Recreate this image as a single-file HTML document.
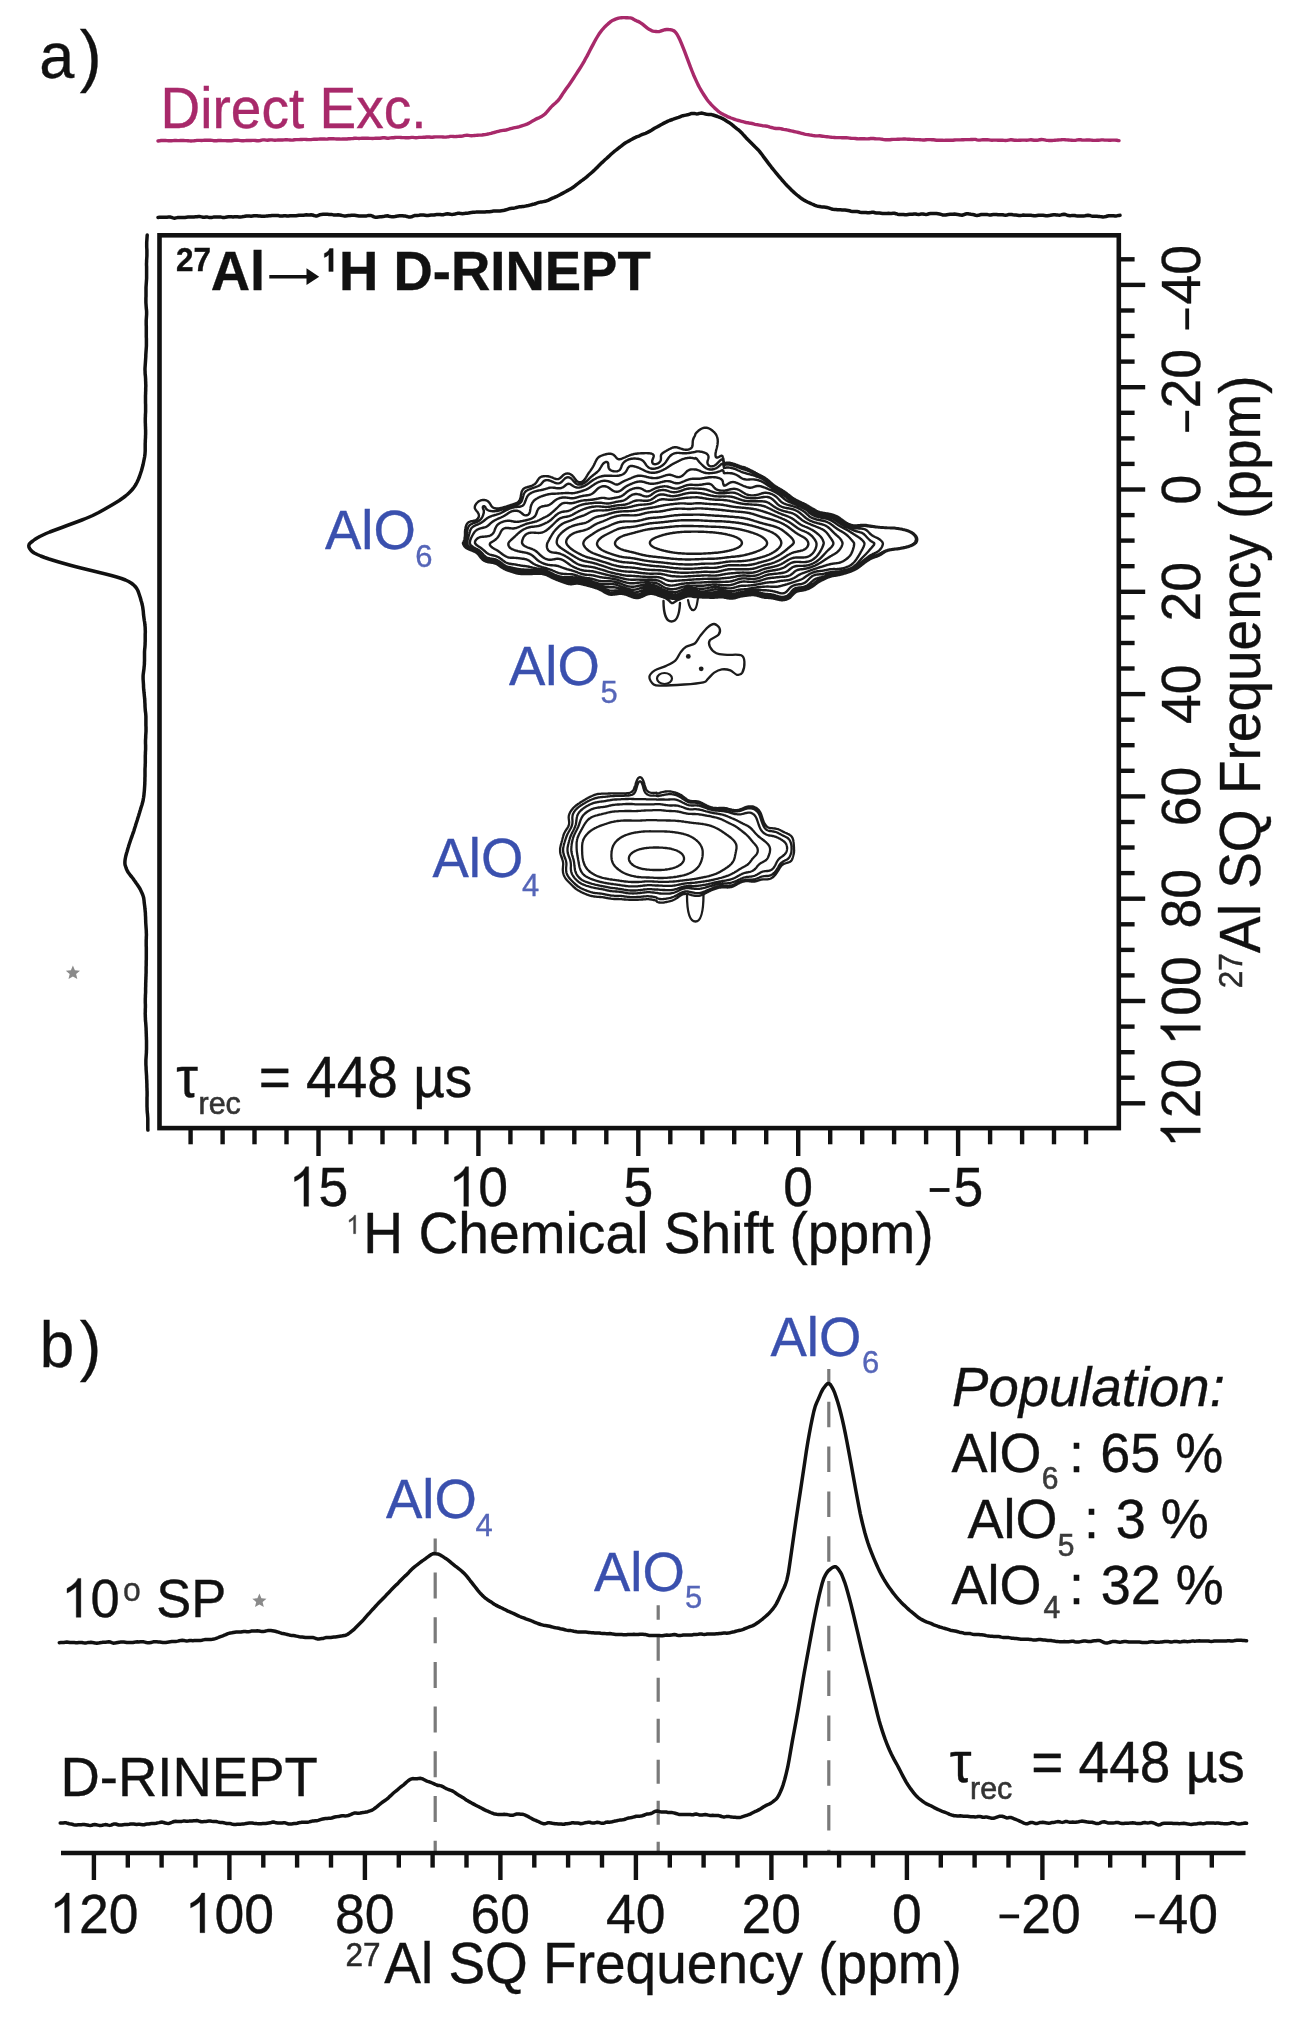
<!DOCTYPE html>
<html><head><meta charset="utf-8"><style>
html,body{margin:0;padding:0;background:#fff;}
svg{display:block;will-change:transform;}
text{font-family:"Liberation Sans", sans-serif;}
</style></head><body>
<svg width="1297" height="2019" viewBox="0 0 1297 2019">
<rect width="1297" height="2019" fill="#fff"/>
<g transform="translate(41.8,78) scale(1,1.035)"><text x="-2.5" y="0" font-size="63" fill="#111" stroke="#111" stroke-width="0.35" >a</text></g>
<g transform="translate(80,79) scale(1,1.035)"><text x="-0.3" y="0" font-size="65.5" fill="#111" stroke="#111" stroke-width="0.35" >)</text></g>
<g transform="translate(165,127.8) scale(1,1.035)"><text x="-4.4" y="0" font-size="55" fill="#a8296a" stroke="#a8296a" stroke-width="0.35" >Direct Exc.</text></g>
<path d="M158,141 159.5,140.8 161,140.5 162.5,140.5 164,140.5 165.5,140.5 167,140.6 168.5,140.7 170,140.7 171.5,140.7 173,140.6 174.5,140.5 176,140.4 177.5,140.6 179,140.6 180.5,140.5 182,140.5 183.5,140.5 185,140.6 186.5,140.6 188,140.7 189.5,140.9 191,141 192.5,140.9 194,140.8 195.5,140.6 197,140.4 198.5,140.4 200,140.4 201.5,140.5 203,140.4 204.5,140.3 206,140.2 207.5,140.2 209,140.2 210.5,140.3 212,140.4 213.5,140.7 215,140.8 216.5,140.8 218,140.5 219.5,140.4 221,140.5 222.5,140.6 224,140.6 225.5,140.6 227,140.7 228.5,140.8 230,140.8 231.5,140.7 233,140.5 234.5,140.3 236,140.1 237.5,140.2 239,140.4 240.5,140.6 242,140.7 243.5,140.7 245,140.6 246.5,140.5 248,140.5 249.5,140.5 251,140.5 252.5,140.4 254,140.4 255.5,140.5 257,140.7 258.5,140.8 260,140.6 261.5,140.1 263,139.9 264.5,139.9 266,140.1 267.5,140.2 269,140 270.5,139.9 272,139.9 273.5,140.1 275,140.2 276.5,140.1 278,140 279.5,140 281,140 282.5,140 284,139.9 285.5,139.8 287,139.8 288.5,139.9 290,140 291.5,140.1 293,140 294.5,139.8 296,139.6 297.5,139.6 299,139.6 300.5,139.5 302,139.5 303.5,139.4 305,139.4 306.5,139.5 308,139.6 309.5,139.6 311,139.6 312.5,139.4 314,139.3 315.5,139.2 317,139.2 318.5,139.1 320,139 321.5,139 323,139 324.5,139 326,139.1 327.5,139 329,138.8 330.5,138.7 332,138.7 333.5,138.8 335,138.9 336.5,139 338,138.9 339.5,139 341,139.1 342.5,139 344,139 345.5,139 347,139 348.5,138.8 350,138.7 351.5,138.6 353,138.5 354.5,138.3 356,138.3 357.5,138.4 359,138.5 360.5,138.4 362,138.3 363.5,138.3 365,138.3 366.5,138.3 368,138.3 369.5,138.4 371,138.4 372.5,138.5 374,138.4 375.5,138.3 377,138.2 378.5,138.2 380,138.2 381.5,138 383,137.8 384.5,137.8 386,138 387.5,138.3 389,138.2 390.5,137.9 392,137.8 393.5,137.7 395,137.5 396.5,137.4 398,137.4 399.5,137.4 401,137.5 402.5,137.6 404,137.6 405.5,137.7 407,137.8 408.5,137.8 410,137.6 411.5,137.4 413,137.4 414.5,137.6 416,137.7 417.5,137.6 419,137.4 420.5,137.4 422,137.4 423.5,137.3 425,137.2 426.5,137 428,136.9 429.5,137 431,137.2 432.5,137.2 434,137 435.5,136.9 437,136.9 438.5,136.9 440,136.9 441.5,136.9 443,137 444.5,137.1 446,137.1 447.5,136.9 449,136.7 450.5,136.4 452,136.4 453.5,136.5 455,136.6 456.5,136.5 458,136.4 459.5,136.3 461,136.2 462.5,136.1 464,135.7 465.5,135.4 467,135.3 468.5,135.4 470,135.6 471.5,135.7 473,135.6 474.5,135.5 476,135.4 477.5,135.2 479,135.1 480.5,135.1 482,135 483.5,134.8 485,134.6 486.5,134.3 488,134 489.5,133.7 491,133.3 492.5,132.8 494,132.5 495.5,132.1 497,131.7 498.5,131.3 500,130.9 501.5,130.6 503,130.4 504.5,130.2 506,130 507.5,129.6 509,129.2 510.5,128.7 512,128.3 513.5,127.9 515,127.6 516.5,127.3 518,127 519.5,126.6 521,126.1 522.5,125.6 524,125.2 525.5,124.7 527,124.1 528.5,123.4 530,122.6 531.5,121.6 533,120.7 534.5,119.9 536,119.1 537.5,118.4 539,117.8 540.5,117 542,116.2 543.5,115.2 545,114 546.5,112.4 548,110.7 549.5,108.8 551,107.1 552.5,105.6 554,104.3 555.5,103 557,101.6 558.5,100 560,98 561.5,95.7 563,93.4 564.5,91.2 566,89.1 567.5,87 569,84.9 570.5,82.7 572,80.5 573.5,78.2 575,75.9 576.5,73.6 578,71.3 579.5,69 581,66.6 582.5,64.2 584,61.6 585.5,58.8 587,56.1 588.5,53.2 590,50.3 591.5,47.4 593,44.6 594.5,41.8 596,39 597.5,36.5 599,34.1 600.5,32 602,30 603.5,28.3 605,26.7 606.5,25.3 608,23.9 609.5,22.6 611,21.4 612.5,20.5 614,19.8 615.5,19.2 617,18.7 618.5,18.2 620,17.9 621.5,17.7 623,17.6 624.5,17.6 626,17.7 627.5,17.8 629,17.9 630.5,17.9 632,18.3 633.5,19.2 635,20.1 636.5,20.8 638,21.4 639.5,22.1 641,23.1 642.5,24.2 644,25.4 645.5,26.6 647,27.8 648.5,29 650,29.8 651.5,30.6 653,31.1 654.5,31.4 656,31.5 657.5,31.6 659,31.6 660.5,31.2 662,30.6 663.5,30.1 665,29.7 666.5,29.5 668,29.5 669.5,29.6 671,29.8 672.5,30.2 674,30.9 675.5,32.2 677,34.2 678.5,37 680,40.1 681.5,43.7 683,47.4 684.5,51.2 686,55.1 687.5,59.1 689,63.1 690.5,67.2 692,71 693.5,74.7 695,78.1 696.5,81.4 698,84.6 699.5,87.5 701,90.1 702.5,92.6 704,95 705.5,97.3 707,99.5 708.5,101.5 710,103.2 711.5,104.9 713,106.4 714.5,107.9 716,109.2 717.5,110.6 719,111.8 720.5,112.8 722,113.8 723.5,114.6 725,115.3 726.5,116.1 728,116.9 729.5,117.4 731,118 732.5,118.5 734,119.1 735.5,119.7 737,120.1 738.5,120.5 740,120.9 741.5,121.3 743,121.7 744.5,122.1 746,122.5 747.5,122.7 749,123 750.5,123.2 752,123.5 753.5,123.9 755,124.3 756.5,124.6 758,124.8 759.5,125.1 761,125.4 762.5,125.7 764,125.9 765.5,126 767,126.2 768.5,126.6 770,127.1 771.5,127.5 773,127.9 774.5,128.3 776,128.5 777.5,128.5 779,128.4 780.5,128.6 782,129 783.5,129.4 785,129.6 786.5,129.8 788,130.1 789.5,130.5 791,130.8 792.5,131.1 794,131.5 795.5,131.8 797,132.1 798.5,132.5 800,132.9 801.5,133.3 803,133.7 804.5,134.1 806,134.4 807.5,134.6 809,134.8 810.5,135.1 812,135.3 813.5,135.6 815,135.8 816.5,135.9 818,135.9 819.5,135.8 821,136 822.5,136.2 824,136.4 825.5,136.6 827,136.7 828.5,136.9 830,137.1 831.5,137.3 833,137.4 834.5,137.5 836,137.6 837.5,137.6 839,137.6 840.5,137.6 842,137.7 843.5,137.7 845,137.8 846.5,137.8 848,137.9 849.5,138.1 851,138.3 852.5,138.4 854,138.4 855.5,138.5 857,138.7 858.5,138.9 860,138.8 861.5,138.8 863,138.7 864.5,138.8 866,138.9 867.5,138.9 869,138.8 870.5,138.5 872,138.4 873.5,138.5 875,138.7 876.5,138.9 878,138.9 879.5,138.9 881,139.1 882.5,139.3 884,139.6 885.5,139.8 887,139.8 888.5,139.8 890,139.7 891.5,139.5 893,139.4 894.5,139.4 896,139.4 897.5,139.3 899,139.2 900.5,139.1 902,139.1 903.5,139 905,139 906.5,139.1 908,139.2 909.5,139.3 911,139.4 912.5,139.4 914,139.5 915.5,139.6 917,139.6 918.5,139.6 920,139.7 921.5,139.9 923,140 924.5,140 926,139.8 927.5,139.6 929,139.6 930.5,139.6 932,139.7 933.5,139.8 935,140 936.5,140.2 938,140.2 939.5,140.1 941,140.2 942.5,140.3 944,140.4 945.5,140.3 947,140.2 948.5,140.2 950,140.2 951.5,140.3 953,140.2 954.5,140 956,139.9 957.5,139.9 959,139.9 960.5,139.9 962,139.8 963.5,139.7 965,139.6 966.5,139.6 968,139.6 969.5,139.6 971,139.5 972.5,139.5 974,139.4 975.5,139.4 977,139.8 978.5,140.1 980,140.1 981.5,139.9 983,139.7 984.5,139.7 986,139.7 987.5,139.8 989,139.9 990.5,140.1 992,140.2 993.5,140.1 995,140.1 996.5,140.1 998,140.2 999.5,140.2 1001,140.3 1002.5,140.2 1004,140.4 1005.5,140.5 1007,140.4 1008.5,140.1 1010,139.8 1011.5,139.8 1013,140 1014.5,140.2 1016,140.3 1017.5,140.4 1019,140.3 1020.5,140.2 1022,140.1 1023.5,140.1 1025,140.1 1026.5,140.2 1028,140.1 1029.5,139.9 1031,139.8 1032.5,140 1034,140.2 1035.5,140.3 1037,140.2 1038.5,140 1040,139.7 1041.5,139.5 1043,139.6 1044.5,139.9 1046,140.2 1047.5,140.4 1049,140.5 1050.5,140.5 1052,140.5 1053.5,140.4 1055,140.2 1056.5,140.1 1058,140 1059.5,139.9 1061,139.8 1062.5,139.6 1064,139.6 1065.5,139.8 1067,139.9 1068.5,140 1070,140.1 1071.5,140.2 1073,140.4 1074.5,140.4 1076,140.2 1077.5,139.9 1079,139.7 1080.5,139.8 1082,140 1083.5,140.1 1085,140.1 1086.5,140 1088,140 1089.5,140 1091,140.1 1092.5,140.3 1094,140.4 1095.5,140.4 1097,140.3 1098.5,140.2 1100,140.1 1101.5,139.9 1103,139.9 1104.5,140.1 1106,140.1 1107.5,140.1 1109,140.2 1110.5,140.2 1112,140.1 1113.5,140.1 1115,140.1 1116.5,140.2 1118,140.5 1119,140.6" fill="none" stroke="#a8296a" stroke-width="3.4" stroke-linejoin="round" stroke-linecap="round" />
<path d="M158,217.4 159.5,217.3 161,217.3 162.5,217.3 164,217.2 165.5,217.2 167,217.2 168.5,217.1 170,217 171.5,217.4 173,217.9 174.5,218.2 176,217.9 177.5,217.6 179,217.4 180.5,217.5 182,217.6 183.5,217.6 185,217.4 186.5,217.2 188,217.1 189.5,217.1 191,217.1 192.5,217 194,216.9 195.5,216.8 197,216.7 198.5,216.5 200,216.6 201.5,216.9 203,217.2 204.5,217.2 206,217 207.5,217.1 209,217.4 210.5,217.6 212,217.4 213.5,217.1 215,217 216.5,217.1 218,217 219.5,217 221,217.1 222.5,217.4 224,217.5 225.5,217.3 227,217 228.5,216.8 230,216.7 231.5,216.8 233,216.9 234.5,216.7 236,216.7 237.5,216.8 239,216.9 240.5,216.9 242,216.8 243.5,216.6 245,216.3 246.5,216 248,216 249.5,216.1 251,216.2 252.5,216 254,215.8 255.5,215.7 257,215.7 258.5,215.9 260,216.1 261.5,216.3 263,216.3 264.5,216.2 266,216.1 267.5,215.9 269,215.8 270.5,215.7 272,215.5 273.5,215.5 275,215.5 276.5,215.4 278,215.5 279.5,215.9 281,216.1 282.5,216 284,215.8 285.5,215.7 287,215.9 288.5,216 290,215.8 291.5,215.7 293,215.7 294.5,215.7 296,215.7 297.5,215.5 299,215.3 300.5,215.3 302,215.3 303.5,215.2 305,215 306.5,214.8 308,214.9 309.5,214.9 311,214.8 312.5,215 314,215.5 315.5,215.9 317,215.9 318.5,215.3 320,214.7 321.5,214.4 323,214.3 324.5,214.3 326,214.3 327.5,214.3 329,214.4 330.5,214.5 332,214.6 333.5,214.9 335,215.1 336.5,214.9 338,214.8 339.5,215 341,215.3 342.5,215.6 344,215.9 345.5,216 347,215.8 348.5,215.6 350,215.4 351.5,215.2 353,215.2 354.5,215.3 356,215.5 357.5,215.7 359,215.9 360.5,216 362,216 363.5,216.1 365,216.1 366.5,215.9 368,215.6 369.5,215.4 371,215.5 372.5,216.1 374,216.9 375.5,217.3 377,217.2 378.5,216.9 380,216.8 381.5,216.8 383,216.6 384.5,216.3 386,215.9 387.5,215.8 389,216.2 390.5,216.5 392,216.7 393.5,216.7 395,216.5 396.5,216.2 398,215.9 399.5,215.8 401,215.7 402.5,215.7 404,215.9 405.5,216.1 407,216.5 408.5,216.9 410,217.1 411.5,216.8 413,216.2 414.5,215.6 416,215.5 417.5,215.4 419,215.3 420.5,215.1 422,215.1 423.5,215.1 425,215.3 426.5,215.5 428,215.5 429.5,215.3 431,215.1 432.5,215.1 434,215 435.5,214.7 437,214.4 438.5,214.4 440,214.6 441.5,214.8 443,214.8 444.5,214.4 446,214 447.5,213.8 449,214 450.5,214.3 452,214.4 453.5,214.3 455,214 456.5,213.6 458,213.3 459.5,213.3 461,213.6 462.5,213.7 464,213.6 465.5,213.3 467,213.2 468.5,213 470,212.7 471.5,212.4 473,212.2 474.5,212.2 476,212.1 477.5,211.9 479,211.9 480.5,212 482,212 483.5,212 485,211.9 486.5,211.8 488,211.8 489.5,211.8 491,211.6 492.5,211.2 494,210.9 495.5,210.9 497,211 498.5,211 500,211 501.5,210.8 503,210.6 504.5,210.2 506,209.8 507.5,209.3 509,208.8 510.5,208.5 512,208.3 513.5,208.2 515,207.9 516.5,207.5 518,207.1 519.5,206.8 521,206.7 522.5,206.5 524,206.4 525.5,206.1 527,205.8 528.5,205.5 530,205.1 531.5,204.7 533,204.3 534.5,204 536,203.5 537.5,202.9 539,202.4 540.5,202.1 542,201.9 543.5,201.6 545,201.3 546.5,200.8 548,200.3 549.5,199.6 551,198.9 552.5,198.2 554,197.6 555.5,196.9 557,196.3 558.5,195.5 560,194.7 561.5,193.9 563,193.1 564.5,192.3 566,191.5 567.5,190.6 569,189.8 570.5,188.9 572,188 573.5,187 575,185.9 576.5,184.7 578,183.5 579.5,182.3 581,181.1 582.5,180.1 584,179 585.5,177.8 587,176.6 588.5,175.3 590,174 591.5,172.7 593,171.4 594.5,170 596,168.5 597.5,167.1 599,165.6 600.5,164.1 602,162.6 603.5,161.2 605,159.8 606.5,158.5 608,157.1 609.5,155.7 611,154.3 612.5,153 614,151.7 615.5,150.5 617,149.3 618.5,148.1 620,147 621.5,145.8 623,144.6 624.5,143.5 626,142.5 627.5,141.7 629,140.9 630.5,140 632,139.2 633.5,138.4 635,137.7 636.5,136.9 638,136.4 639.5,135.8 641,135 642.5,134.3 644,133.8 645.5,133.3 647,132.7 648.5,131.9 650,131.1 651.5,130.3 653,129.3 654.5,128.3 656,127.5 657.5,126.7 659,125.9 660.5,125 662,124.2 663.5,123.4 665,122.6 666.5,121.9 668,121.1 669.5,120.5 671,120 672.5,119.5 674,118.9 675.5,118.4 677,117.9 678.5,117.4 680,116.8 681.5,116.2 683,115.7 684.5,115.4 686,115.1 687.5,114.8 689,114.3 690.5,113.8 692,113.4 693.5,113.4 695,113.6 696.5,113.9 698,113.8 699.5,113.4 701,113.1 702.5,113.3 704,113.6 705.5,114 707,114.3 708.5,114.4 710,114.4 711.5,114.6 713,115 714.5,115.5 716,116 717.5,116.5 719,117.1 720.5,117.7 722,118.3 723.5,119.1 725,120 726.5,121 728,121.9 729.5,122.8 731,123.9 732.5,125.1 734,126.4 735.5,127.6 737,128.8 738.5,129.9 740,131.2 741.5,132.7 743,134.4 744.5,136 746,137.7 747.5,139.3 749,140.8 750.5,142.3 752,143.8 753.5,145.3 755,146.8 756.5,148.2 758,149.7 759.5,151.4 761,153.3 762.5,155.3 764,157.4 765.5,159.4 767,161.4 768.5,163.4 770,165.3 771.5,167.3 773,169.2 774.5,171 776,172.8 777.5,174.6 779,176.5 780.5,178.2 782,180 783.5,181.7 785,183.4 786.5,185 788,186.6 789.5,188.1 791,189.6 792.5,191 794,192.4 795.5,193.7 797,195 798.5,196.2 800,197.4 801.5,198.5 803,199.5 804.5,200.4 806,201.2 807.5,202 809,202.7 810.5,203.3 812,204 813.5,204.6 815,205.3 816.5,205.9 818,206.3 819.5,206.5 821,206.8 822.5,207 824,207.1 825.5,207.2 827,207.5 828.5,207.9 830,208.4 831.5,209 833,209.3 834.5,209.4 836,209.5 837.5,209.7 839,209.8 840.5,209.8 842,209.9 843.5,210 845,210.1 846.5,210.3 848,210.5 849.5,210.8 851,211.2 852.5,211.5 854,211.6 855.5,211.6 857,211.6 858.5,211.8 860,212.2 861.5,212.4 863,212.5 864.5,212.5 866,212.6 867.5,212.8 869,212.8 870.5,212.6 872,212.3 873.5,212.3 875,212.7 876.5,213.1 878,213.1 879.5,213 881,213.2 882.5,213.4 884,213.5 885.5,213.4 887,213.4 888.5,213.3 890,213.4 891.5,213.4 893,213.3 894.5,213.3 896,213.7 897.5,214.2 899,214.4 900.5,214.5 902,214.4 903.5,214.5 905,214.7 906.5,214.7 908,214.5 909.5,214.3 911,214.2 912.5,214.2 914,214 915.5,214 917,214.3 918.5,214.4 920,214.2 921.5,213.9 923,214 924.5,214.3 926,214.4 927.5,214.2 929,213.8 930.5,213.6 932,213.6 933.5,213.6 935,213.6 936.5,213.6 938,213.8 939.5,214 941,214.4 942.5,214.9 944,215.1 945.5,215 947,214.7 948.5,214.4 950,214.3 951.5,214.3 953,214.2 954.5,214.1 956,214.2 957.5,214.4 959,214.7 960.5,215.1 962,215.2 963.5,214.8 965,214.2 966.5,213.8 968,213.8 969.5,214.1 971,214.3 972.5,214.4 974,214.8 975.5,215.2 977,215.4 978.5,215.3 980,214.8 981.5,214.5 983,214.5 984.5,214.5 986,214.5 987.5,214.6 989,214.9 990.5,215 992,214.7 993.5,214.4 995,214.4 996.5,214.5 998,214.7 999.5,214.8 1001,214.7 1002.5,214.7 1004,215 1005.5,215.2 1007,215 1008.5,214.6 1010,214.5 1011.5,214.6 1013,214.8 1014.5,214.9 1016,215.1 1017.5,215.3 1019,215.5 1020.5,215.4 1022,215.3 1023.5,215.1 1025,215.2 1026.5,215.3 1028,215.3 1029.5,215.3 1031,215.3 1032.5,215.6 1034,215.8 1035.5,215.7 1037,215.5 1038.5,215.3 1040,215.2 1041.5,215.2 1043,215.3 1044.5,215.5 1046,215.7 1047.5,215.8 1049,215.6 1050.5,215.3 1052,215 1053.5,214.8 1055,214.7 1056.5,214.9 1058,215.1 1059.5,215.2 1061,214.9 1062.5,214.5 1064,214.3 1065.5,214.5 1067,215.1 1068.5,215.6 1070,215.7 1071.5,215.6 1073,215.4 1074.5,215.5 1076,215.8 1077.5,216 1079,216.1 1080.5,216 1082,216 1083.5,216 1085,215.8 1086.5,215.5 1088,215.2 1089.5,215.4 1091,215.9 1092.5,216.2 1094,216.2 1095.5,216.2 1097,216.3 1098.5,216.4 1100,216.6 1101.5,216.7 1103,216.9 1104.5,216.8 1106,216.5 1107.5,216 1109,215.7 1110.5,215.7 1112,215.7 1113.5,215.8 1115,216 1116.5,215.9 1118,215.6 1119.5,215.4 1120,215.3" fill="none" stroke="#111" stroke-width="3.5" stroke-linejoin="round" stroke-linecap="round" />
<path d="M147.2,235 147.1,236.5 147,238 146.9,239.5 146.8,241 146.7,242.5 146.7,244 146.7,245.5 146.7,247 146.8,248.5 146.9,250 146.9,251.5 146.9,253 146.9,254.5 146.9,256 146.8,257.5 146.7,259 146.6,260.5 146.6,262 146.5,263.5 146.5,265 146.6,266.5 146.6,268 146.6,269.5 146.6,271 146.6,272.5 146.6,274 146.6,275.5 146.6,277 146.6,278.5 146.5,280 146.4,281.5 146.3,283 146.2,284.5 146.1,286 146,287.5 146,289 146,290.5 146,292 146,293.5 146,295 146,296.5 145.9,298 145.9,299.5 145.9,301 145.9,302.5 146,304 146.1,305.5 146.2,307 146.3,308.5 146.5,310 146.6,311.5 146.6,313 146.6,314.5 146.5,316 146.4,317.5 146.3,319 146.2,320.5 146.2,322 146.2,323.5 146.2,325 146.3,326.5 146.3,328 146.3,329.5 146.3,331 146.3,332.5 146.3,334 146.3,335.5 146.3,337 146.4,338.5 146.4,340 146.4,341.5 146.4,343 146.4,344.5 146.4,346 146.3,347.5 146.2,349 146.1,350.5 146,352 145.9,353.5 145.8,355 145.8,356.5 145.7,358 145.6,359.5 145.5,361 145.4,362.5 145.3,364 145.2,365.5 145.1,367 145,368.5 145,370 145.1,371.5 145.1,373 145.2,374.5 145.4,376 145.5,377.5 145.6,379 145.6,380.5 145.7,382 145.7,383.5 145.8,385 145.8,386.5 145.7,388 145.7,389.5 145.7,391 145.6,392.5 145.6,394 145.5,395.5 145.5,397 145.5,398.5 145.5,400 145.5,401.5 145.5,403 145.6,404.5 145.6,406 145.6,407.5 145.6,409 145.6,410.5 145.6,412 145.5,413.5 145.4,415 145.4,416.5 145.3,418 145.3,419.5 145.3,421 145.3,422.5 145.4,424 145.4,425.5 145.5,427 145.5,428.5 145.6,430 145.6,431.5 145.6,433 145.6,434.5 145.5,436 145.5,437.5 145.4,439 145.3,440.5 145.3,442 145.2,443.5 145.2,445 145.2,446.5 145.2,448 145.2,449.5 145.2,451 145.1,452.5 145,454 144.8,455.5 144.6,457 144.3,458.5 144,460 143.7,461.5 143.4,463 143.1,464.5 142.7,466 142.3,467.5 141.9,469 141.5,470.5 141,472 140.5,473.5 140,475 139.5,476.5 138.9,478 138.3,479.5 137.6,481 136.9,482.5 136.1,484 135.2,485.5 134.2,487 133.1,488.5 131.8,490 130.4,491.5 128.9,493 127.3,494.5 125.5,496 123.5,497.5 121.4,499 119.3,500.5 116.9,502 114.4,503.5 111.9,505 109.3,506.5 106.7,508 104.1,509.5 101.4,511 98.7,512.5 95.7,514 92.7,515.5 89.3,517 85.7,518.5 81.9,520 77.9,521.5 73.9,523 69.8,524.5 65.8,526 61.9,527.5 57.8,529 53.7,530.5 49.7,532 46.1,533.5 42.9,535 39.8,536.5 37.1,538 34.7,539.5 32.8,541 30.8,542.5 29.3,544 28.8,545.5 28.9,547 29.6,548.5 30.7,550 32.1,551.5 34.2,553 37.3,554.5 40.7,556 44.6,557.5 49,559 53.8,560.5 58.8,562 64.1,563.5 69.4,565 75,566.5 80.9,568 87.1,569.5 93.3,571 99.4,572.5 105.5,574 111.4,575.5 116.7,577 121.5,578.5 125.5,580 128.6,581.5 131.1,583 133.1,584.5 134.7,586 136,587.5 137,589 137.8,590.5 138.4,592 138.9,593.5 139.4,595 139.9,596.5 140.4,598 140.8,599.5 141.2,601 141.7,602.5 142,604 142.4,605.5 142.7,607 142.9,608.5 143.1,610 143.3,611.5 143.4,613 143.5,614.5 143.7,616 143.9,617.5 144.1,619 144.3,620.5 144.6,622 144.8,623.5 144.9,625 145.1,626.5 145.2,628 145.2,629.5 145.3,631 145.3,632.5 145.2,634 145.2,635.5 145.2,637 145.2,638.5 145.2,640 145.2,641.5 145.1,643 145.1,644.5 145,646 144.9,647.5 144.7,649 144.6,650.5 144.5,652 144.5,653.5 144.5,655 144.5,656.5 144.5,658 144.5,659.5 144.5,661 144.4,662.5 144.4,664 144.3,665.5 144.1,667 144,668.5 143.8,670 143.6,671.5 143.4,673 143.2,674.5 143.1,676 143.1,677.5 143.1,679 143.2,680.5 143.3,682 143.4,683.5 143.5,685 143.5,686.5 143.6,688 143.7,689.5 143.9,691 144,692.5 144.2,694 144.3,695.5 144.5,697 144.6,698.5 144.8,700 144.8,701.5 144.9,703 145,704.5 145,706 145.1,707.5 145.2,709 145.3,710.5 145.5,712 145.7,713.5 145.8,715 145.9,716.5 145.9,718 145.9,719.5 145.9,721 145.9,722.5 145.9,724 145.9,725.5 146,727 146,728.5 146,730 146,731.5 145.9,733 145.8,734.5 145.7,736 145.7,737.5 145.6,739 145.5,740.5 145.5,742 145.5,743.5 145.6,745 145.6,746.5 145.6,748 145.6,749.5 145.5,751 145.4,752.5 145.4,754 145.3,755.5 145.3,757 145.3,758.5 145.3,760 145.3,761.5 145.3,763 145.2,764.5 145.2,766 145.1,767.5 145,769 145,770.5 145,772 145,773.5 145,775 145,776.5 144.9,778 144.9,779.5 144.9,781 144.8,782.5 144.8,784 144.7,785.5 144.6,787 144.5,788.5 144.4,790 144.3,791.5 144.1,793 144,794.5 143.8,796 143.6,797.5 143.3,799 143.1,800.5 142.7,802 142.3,803.5 141.9,805 141.4,806.5 140.9,808 140.5,809.5 140,811 139.6,812.5 139.1,814 138.7,815.5 138.2,817 137.7,818.5 137.3,820 136.8,821.5 136.3,823 135.8,824.5 135.4,826 134.9,827.5 134.4,829 134,830.5 133.5,832 132.9,833.5 132.4,835 131.9,836.5 131.3,838 130.8,839.5 130.3,841 129.8,842.5 129.3,844 128.8,845.5 128.4,847 127.9,848.5 127.5,850 127.1,851.5 126.6,853 126.2,854.5 125.8,856 125.5,857.5 125.2,859 125,860.5 124.9,862 124.9,863.5 125.1,865 125.6,866.5 126.1,868 126.7,869.5 127.4,871 128.3,872.5 129.4,874 130.5,875.5 131.8,877 133,878.5 134,880 135.1,881.5 136.1,883 137.2,884.5 138.2,886 139.2,887.5 140.1,889 140.8,890.5 141.5,892 142.2,893.5 142.8,895 143.3,896.5 143.7,898 143.9,899.5 144.1,901 144.2,902.5 144.4,904 144.6,905.5 144.8,907 144.9,908.5 145.1,910 145.2,911.5 145.4,913 145.4,914.5 145.5,916 145.6,917.5 145.6,919 145.7,920.5 145.7,922 145.8,923.5 145.9,925 146,926.5 146.1,928 146.2,929.5 146.3,931 146.3,932.5 146.4,934 146.4,935.5 146.3,937 146.3,938.5 146.2,940 146.2,941.5 146.2,943 146.2,944.5 146.2,946 146.3,947.5 146.3,949 146.3,950.5 146.3,952 146.3,953.5 146.3,955 146.3,956.5 146.3,958 146.3,959.5 146.2,961 146.2,962.5 146.2,964 146.2,965.5 146.1,967 146.1,968.5 146.1,970 146.1,971.5 146.1,973 146,974.5 146,976 145.9,977.5 145.9,979 145.8,980.5 145.8,982 145.7,983.5 145.7,985 145.7,986.5 145.6,988 145.6,989.5 145.6,991 145.6,992.5 145.5,994 145.4,995.5 145.4,997 145.3,998.5 145.3,1000 145.3,1001.5 145.3,1003 145.4,1004.5 145.4,1006 145.4,1007.5 145.3,1009 145.3,1010.5 145.3,1012 145.2,1013.5 145.3,1015 145.3,1016.5 145.4,1018 145.4,1019.5 145.5,1021 145.7,1022.5 145.8,1024 145.9,1025.5 146,1027 146.1,1028.5 146.1,1030 146.2,1031.5 146.2,1033 146.3,1034.5 146.3,1036 146.4,1037.5 146.4,1039 146.5,1040.5 146.5,1042 146.5,1043.5 146.5,1045 146.5,1046.5 146.5,1048 146.5,1049.5 146.4,1051 146.4,1052.5 146.3,1054 146.2,1055.5 146.1,1057 146,1058.5 145.9,1060 145.9,1061.5 145.9,1063 145.9,1064.5 146,1066 146.1,1067.5 146.1,1069 146.2,1070.5 146.3,1072 146.4,1073.5 146.5,1075 146.6,1076.5 146.6,1078 146.7,1079.5 146.8,1081 146.8,1082.5 146.9,1084 146.9,1085.5 146.9,1087 147,1088.5 147,1090 147.1,1091.5 147.1,1093 147.1,1094.5 147.1,1096 147,1097.5 147,1099 147,1100.5 147,1102 147,1103.5 147,1105 147,1106.5 147.1,1108 147.1,1109.5 147.2,1111 147.3,1112.5 147.5,1114 147.6,1115.5 147.7,1117 147.8,1118.5 147.8,1120 147.8,1121.5 147.8,1123 147.8,1124.5 147.8,1126 147.8,1127.5 147.8,1129 147.9,1130" fill="none" stroke="#111" stroke-width="3.5" stroke-linejoin="round" stroke-linecap="round" />
<polygon points="72.9,965.5 74.9,970.3 80,970.7 76.1,974 77.3,979.1 72.9,976.4 68.5,979.1 69.7,974 65.8,970.7 70.9,970.3" fill="#8a8a8a"/>
<rect x="159.5" y="235.3" width="959.3" height="892.8" fill="none" stroke="#111" stroke-width="4.6"/>
<line x1="1118.8" y1="259.3" x2="1134.6" y2="259.3" stroke="#111" stroke-width="4.4" />
<line x1="1118.8" y1="284.9" x2="1145.2" y2="284.9" stroke="#111" stroke-width="4.4" />
<line x1="1118.8" y1="310.5" x2="1134.6" y2="310.5" stroke="#111" stroke-width="4.4" />
<line x1="1118.8" y1="336" x2="1134.6" y2="336" stroke="#111" stroke-width="4.4" />
<line x1="1118.8" y1="361.6" x2="1134.6" y2="361.6" stroke="#111" stroke-width="4.4" />
<line x1="1118.8" y1="387.2" x2="1145.2" y2="387.2" stroke="#111" stroke-width="4.4" />
<line x1="1118.8" y1="412.8" x2="1134.6" y2="412.8" stroke="#111" stroke-width="4.4" />
<line x1="1118.8" y1="438.4" x2="1134.6" y2="438.4" stroke="#111" stroke-width="4.4" />
<line x1="1118.8" y1="463.9" x2="1134.6" y2="463.9" stroke="#111" stroke-width="4.4" />
<line x1="1118.8" y1="489.5" x2="1145.2" y2="489.5" stroke="#111" stroke-width="4.4" />
<line x1="1118.8" y1="515.1" x2="1134.6" y2="515.1" stroke="#111" stroke-width="4.4" />
<line x1="1118.8" y1="540.6" x2="1134.6" y2="540.6" stroke="#111" stroke-width="4.4" />
<line x1="1118.8" y1="566.2" x2="1134.6" y2="566.2" stroke="#111" stroke-width="4.4" />
<line x1="1118.8" y1="591.8" x2="1145.2" y2="591.8" stroke="#111" stroke-width="4.4" />
<line x1="1118.8" y1="617.4" x2="1134.6" y2="617.4" stroke="#111" stroke-width="4.4" />
<line x1="1118.8" y1="643" x2="1134.6" y2="643" stroke="#111" stroke-width="4.4" />
<line x1="1118.8" y1="668.5" x2="1134.6" y2="668.5" stroke="#111" stroke-width="4.4" />
<line x1="1118.8" y1="694.1" x2="1145.2" y2="694.1" stroke="#111" stroke-width="4.4" />
<line x1="1118.8" y1="719.7" x2="1134.6" y2="719.7" stroke="#111" stroke-width="4.4" />
<line x1="1118.8" y1="745.2" x2="1134.6" y2="745.2" stroke="#111" stroke-width="4.4" />
<line x1="1118.8" y1="770.8" x2="1134.6" y2="770.8" stroke="#111" stroke-width="4.4" />
<line x1="1118.8" y1="796.4" x2="1145.2" y2="796.4" stroke="#111" stroke-width="4.4" />
<line x1="1118.8" y1="822" x2="1134.6" y2="822" stroke="#111" stroke-width="4.4" />
<line x1="1118.8" y1="847.5" x2="1134.6" y2="847.5" stroke="#111" stroke-width="4.4" />
<line x1="1118.8" y1="873.1" x2="1134.6" y2="873.1" stroke="#111" stroke-width="4.4" />
<line x1="1118.8" y1="898.7" x2="1145.2" y2="898.7" stroke="#111" stroke-width="4.4" />
<line x1="1118.8" y1="924.3" x2="1134.6" y2="924.3" stroke="#111" stroke-width="4.4" />
<line x1="1118.8" y1="949.9" x2="1134.6" y2="949.9" stroke="#111" stroke-width="4.4" />
<line x1="1118.8" y1="975.4" x2="1134.6" y2="975.4" stroke="#111" stroke-width="4.4" />
<line x1="1118.8" y1="1001" x2="1145.2" y2="1001" stroke="#111" stroke-width="4.4" />
<line x1="1118.8" y1="1026.6" x2="1134.6" y2="1026.6" stroke="#111" stroke-width="4.4" />
<line x1="1118.8" y1="1052.2" x2="1134.6" y2="1052.2" stroke="#111" stroke-width="4.4" />
<line x1="1118.8" y1="1077.7" x2="1134.6" y2="1077.7" stroke="#111" stroke-width="4.4" />
<line x1="1118.8" y1="1103.3" x2="1145.2" y2="1103.3" stroke="#111" stroke-width="4.4" />
<line x1="1086" y1="1128.1" x2="1086" y2="1144.3" stroke="#111" stroke-width="4.4" />
<line x1="1054" y1="1128.1" x2="1054" y2="1144.3" stroke="#111" stroke-width="4.4" />
<line x1="1022.1" y1="1128.1" x2="1022.1" y2="1144.3" stroke="#111" stroke-width="4.4" />
<line x1="990.1" y1="1128.1" x2="990.1" y2="1144.3" stroke="#111" stroke-width="4.4" />
<line x1="958.1" y1="1128.1" x2="958.1" y2="1156" stroke="#111" stroke-width="4.4" />
<line x1="926.1" y1="1128.1" x2="926.1" y2="1144.3" stroke="#111" stroke-width="4.4" />
<line x1="894.1" y1="1128.1" x2="894.1" y2="1144.3" stroke="#111" stroke-width="4.4" />
<line x1="862.2" y1="1128.1" x2="862.2" y2="1144.3" stroke="#111" stroke-width="4.4" />
<line x1="830.2" y1="1128.1" x2="830.2" y2="1144.3" stroke="#111" stroke-width="4.4" />
<line x1="798.2" y1="1128.1" x2="798.2" y2="1156" stroke="#111" stroke-width="4.4" />
<line x1="766.2" y1="1128.1" x2="766.2" y2="1144.3" stroke="#111" stroke-width="4.4" />
<line x1="734.2" y1="1128.1" x2="734.2" y2="1144.3" stroke="#111" stroke-width="4.4" />
<line x1="702.3" y1="1128.1" x2="702.3" y2="1144.3" stroke="#111" stroke-width="4.4" />
<line x1="670.3" y1="1128.1" x2="670.3" y2="1144.3" stroke="#111" stroke-width="4.4" />
<line x1="638.3" y1="1128.1" x2="638.3" y2="1156" stroke="#111" stroke-width="4.4" />
<line x1="606.3" y1="1128.1" x2="606.3" y2="1144.3" stroke="#111" stroke-width="4.4" />
<line x1="574.3" y1="1128.1" x2="574.3" y2="1144.3" stroke="#111" stroke-width="4.4" />
<line x1="542.4" y1="1128.1" x2="542.4" y2="1144.3" stroke="#111" stroke-width="4.4" />
<line x1="510.4" y1="1128.1" x2="510.4" y2="1144.3" stroke="#111" stroke-width="4.4" />
<line x1="478.4" y1="1128.1" x2="478.4" y2="1156" stroke="#111" stroke-width="4.4" />
<line x1="446.4" y1="1128.1" x2="446.4" y2="1144.3" stroke="#111" stroke-width="4.4" />
<line x1="414.4" y1="1128.1" x2="414.4" y2="1144.3" stroke="#111" stroke-width="4.4" />
<line x1="382.5" y1="1128.1" x2="382.5" y2="1144.3" stroke="#111" stroke-width="4.4" />
<line x1="350.5" y1="1128.1" x2="350.5" y2="1144.3" stroke="#111" stroke-width="4.4" />
<line x1="318.5" y1="1128.1" x2="318.5" y2="1156" stroke="#111" stroke-width="4.4" />
<line x1="286.5" y1="1128.1" x2="286.5" y2="1144.3" stroke="#111" stroke-width="4.4" />
<line x1="254.5" y1="1128.1" x2="254.5" y2="1144.3" stroke="#111" stroke-width="4.4" />
<line x1="222.6" y1="1128.1" x2="222.6" y2="1144.3" stroke="#111" stroke-width="4.4" />
<line x1="190.6" y1="1128.1" x2="190.6" y2="1144.3" stroke="#111" stroke-width="4.4" />
<g transform="translate(318.5,1206.3) scale(1,1.035)"><text x="-29.8" y="0" font-size="53.5" fill="#111" stroke="#111" stroke-width="0.35" > 5</text><path transform="translate(-29.8,0) scale(0.02612,-0.02612)" d="M763,0L583,0L583,1147C518,1085 432,1023 346,975C290,944 250,927 223,915L223,1085C330,1135 430,1200 510,1280C570,1340 620,1410 646,1466L763,1466Z" fill="#111" stroke="#111" stroke-width="13.4"/></g>
<g transform="translate(478.4,1206.3) scale(1,1.035)"><text x="-29.8" y="0" font-size="53.5" fill="#111" stroke="#111" stroke-width="0.35" > 0</text><path transform="translate(-29.8,0) scale(0.02612,-0.02612)" d="M763,0L583,0L583,1147C518,1085 432,1023 346,975C290,944 250,927 223,915L223,1085C330,1135 430,1200 510,1280C570,1340 620,1410 646,1466L763,1466Z" fill="#111" stroke="#111" stroke-width="13.4"/></g>
<g transform="translate(638.3,1206.3) scale(1,1.035)"><text x="-14.9" y="0" font-size="53.5" fill="#111" stroke="#111" stroke-width="0.35" >5</text></g>
<g transform="translate(798.2,1206.3) scale(1,1.035)"><text x="-14.9" y="0" font-size="53.5" fill="#111" stroke="#111" stroke-width="0.35" >0</text></g>
<rect x="929.7" y="1188.1" width="19.8" height="3.8" fill="#111"/>
<g transform="translate(955.5,1206.3) scale(1,1.035)"><text x="-2.1" y="0" font-size="53.5" fill="#111" stroke="#111" stroke-width="0.35" >5</text></g>
<g transform="translate(349.1,1233.7) scale(1,1.035)"><text x="-2.7" y="0" font-size="25" fill="#404040" stroke="#404040" stroke-width="0.35" > </text><path transform="translate(-2.7,0) scale(0.01221,-0.01221)" d="M763,0L583,0L583,1147C518,1085 432,1023 346,975C290,944 250,927 223,915L223,1085C330,1135 430,1200 510,1280C570,1340 620,1410 646,1466L763,1466Z" fill="#404040" stroke="#404040" stroke-width="28.7"/></g>
<g transform="translate(367.6,1253.4) scale(1,1.035)"><text x="-4.4" y="0" font-size="55.2" fill="#111" stroke="#111" stroke-width="0.35" >H Chemical Shift (ppm)</text></g>
<g transform="translate(1200.3,489.5) rotate(-90) scale(1,1.035)"><text x="-14.9" y="0" font-size="53.5" fill="#111" stroke="#111" stroke-width="0.35" >0</text></g>
<g transform="translate(1200.3,591.8) rotate(-90) scale(1,1.035)"><text x="-29.8" y="0" font-size="53.5" fill="#111" stroke="#111" stroke-width="0.35" >20</text></g>
<g transform="translate(1200.3,694.1) rotate(-90) scale(1,1.035)"><text x="-29.8" y="0" font-size="53.5" fill="#111" stroke="#111" stroke-width="0.35" >40</text></g>
<g transform="translate(1200.3,796.4) rotate(-90) scale(1,1.035)"><text x="-29.8" y="0" font-size="53.5" fill="#111" stroke="#111" stroke-width="0.35" >60</text></g>
<g transform="translate(1200.3,898.7) rotate(-90) scale(1,1.035)"><text x="-29.8" y="0" font-size="53.5" fill="#111" stroke="#111" stroke-width="0.35" >80</text></g>
<g transform="translate(1200.3,1001) rotate(-90) scale(1,1.035)"><text x="-44.6" y="0" font-size="53.5" fill="#111" stroke="#111" stroke-width="0.35" > 00</text><path transform="translate(-44.6,0) scale(0.02612,-0.02612)" d="M763,0L583,0L583,1147C518,1085 432,1023 346,975C290,944 250,927 223,915L223,1085C330,1135 430,1200 510,1280C570,1340 620,1410 646,1466L763,1466Z" fill="#111" stroke="#111" stroke-width="13.4"/></g>
<g transform="translate(1200.3,1103.3) rotate(-90) scale(1,1.035)"><text x="-44.6" y="0" font-size="53.5" fill="#111" stroke="#111" stroke-width="0.35" > 20</text><path transform="translate(-44.6,0) scale(0.02612,-0.02612)" d="M763,0L583,0L583,1147C518,1085 432,1023 346,975C290,944 250,927 223,915L223,1085C330,1135 430,1200 510,1280C570,1340 620,1410 646,1466L763,1466Z" fill="#111" stroke="#111" stroke-width="13.4"/></g>
<rect x="1185.3" y="308.5" width="3.8" height="21" fill="#111"/>
<g transform="translate(1200.3,303.5) rotate(-90) scale(1,1.035)"><text x="-1.1" y="0" font-size="53.5" fill="#111" stroke="#111" stroke-width="0.35" >40</text></g>
<rect x="1185.3" y="410.8" width="3.8" height="21" fill="#111"/>
<g transform="translate(1200.3,405.8) rotate(-90) scale(1,1.035)"><text x="-2.7" y="0" font-size="53.5" fill="#111" stroke="#111" stroke-width="0.35" >20</text></g>
<g transform="translate(1259.6,953) rotate(-90) scale(1,1.035)"><text x="0" y="0" font-size="55" fill="#111" stroke="#111" stroke-width="0.35" >Al SQ Frequency (ppm)</text></g>
<g transform="translate(1242.2,986.6) rotate(-90) scale(1,1.035)"><text x="-1.6" y="0" font-size="31.5" fill="#2a2a2a" stroke="#2a2a2a" stroke-width="0.5" >27</text></g>
<g transform="translate(177,271.4) scale(1,1.035)"><text x="-1.1" y="0" font-size="31.5" font-weight="bold" fill="#111" stroke="#111" stroke-width="0.35" >27</text></g>
<g transform="translate(212.1,290.1) scale(1,1.035)"><text x="-1.4" y="0" font-size="54.5" font-weight="bold" fill="#111" stroke="#111" stroke-width="0.35" >Al</text></g>
<line x1="269.3" y1="276.7" x2="309" y2="276.7" stroke="#111" stroke-width="3.6" />
<polygon points="306.5,268.3 319.2,276.7 306.5,285.1" fill="#111"/>
<g transform="translate(324.4,271.4) scale(1,1.035)"><text x="-4.2" y="0" font-size="31.5" font-weight="bold" fill="#111" stroke="#111" stroke-width="0.35" > </text><path transform="translate(-4.2,0) scale(0.01538,-0.01538)" d="M843,0L562,0L562,1053C478,975 381,917 270,878L270,1132C330,1152 395,1188 466,1242C537,1296 585,1360 611,1434L843,1434Z" fill="#111" stroke="#111" stroke-width="22.8"/></g>
<g transform="translate(342.4,290.1) scale(1,1.035)"><text x="-3.5" y="0" font-size="54.5" font-weight="bold" fill="#111" stroke="#111" stroke-width="0.35" >H D-RINEPT</text></g>
<g transform="translate(177,1097) scale(1,1.035)"><text x="-0.8" y="0" font-size="55" fill="#111" stroke="#111" stroke-width="0.35" >τ</text></g>
<g transform="translate(200.5,1113.5) scale(1,1.035)"><text x="-2" y="0" font-size="30.5" fill="#333" stroke="#333" stroke-width="0.6" >rec</text></g>
<g transform="translate(261.5,1097) scale(1,1.035)"><text x="-2.8" y="0" font-size="55" fill="#111" stroke="#111" stroke-width="0.35" >= 448 µs</text></g>
<g transform="translate(325,549.2) scale(1,1.035)"><text x="0" y="0" font-size="54.5" fill="#3a50ae" stroke="#3a50ae" stroke-width="0.35" >AlO</text></g>
<g transform="translate(416.8,567) scale(1,1.035)"><text x="-1.6" y="0" font-size="31" fill="#5565b8" stroke="#5565b8" stroke-width="0.35" >6</text></g>
<g transform="translate(509,685) scale(1,1.035)"><text x="0" y="0" font-size="54.5" fill="#3a50ae" stroke="#3a50ae" stroke-width="0.35" >AlO</text></g>
<g transform="translate(601.7,702.7) scale(1,1.035)"><text x="-1.2" y="0" font-size="31" fill="#5565b8" stroke="#5565b8" stroke-width="0.35" >5</text></g>
<g transform="translate(432.5,877) scale(1,1.035)"><text x="0" y="0" font-size="54.5" fill="#3a50ae" stroke="#3a50ae" stroke-width="0.35" >AlO</text></g>
<g transform="translate(522.7,895.7) scale(1,1.035)"><text x="-0.6" y="0" font-size="31" fill="#5565b8" stroke="#5565b8" stroke-width="0.35" >4</text></g>
<path d="M704.8,553.5L705.5,553.5L706.5,553.4L707.5,553.4L708.5,553.3L709.5,553.2L710.5,553.2L711.5,553.1L712.5,553L713,553L714,552.9L715,552.8L716,552.8L717,552.7L718,552.6L718.5,552.5L719.5,552.4L720.5,552.2L721.5,552.1L722.2,552L723,551.9L724,551.7L725,551.5L725.5,551.4L726.5,551.2L727.5,551L728,550.9L729,550.7L729.7,550.5L730.5,550.3L731.5,550L732,549.9L733,549.6L733.5,549.4L734.5,549.1L735,548.9L736,548.5L736.5,548.3L737.1,548L738,547.6L738.5,547.3L739,547L739.7,546.5L740.3,546L740.8,545.5L741.2,545L741.5,544.5L741.9,543.5L741.9,542.5L741.6,541.5L741.3,541L741,540.5L740.5,540L740,539.5L739.3,539L738.6,538.5L738,538.2L737.5,537.9L736.7,537.5L736,537.2L735.5,537L734.5,536.6L734,536.4L733,536L732.5,535.9L731.5,535.6L731,535.4L730,535.2L729.4,535L728.5,534.8L727.5,534.6L727,534.4L726,534.2L725,534L724.5,533.9L723.5,533.8L722.5,533.6L722,533.5L721,533.3L720,533.2L719,533.1L718.5,533L717.5,532.9L716.5,532.8L715.5,532.6L714.5,532.5L714,532.5L713,532.4L712,532.3L711,532.3L710,532.2L709,532.1L708,532.1L707,532L706.5,532L705.5,531.9L704.5,531.9L703.5,531.8L702.5,531.8L701.5,531.7L700.5,531.7L699.5,531.7L698.5,531.7L697.5,531.6L696.5,531.6L695.5,531.6L694.5,531.6L693.5,531.6L692.5,531.6L691.5,531.6L690.5,531.7L689.5,531.7L688.5,531.7L687.5,531.7L686.5,531.8L685.5,531.8L684.5,531.8L683.5,531.9L682.5,531.9L681.5,532L681,532L680,532.1L679,532.2L678,532.3L677,532.4L676,532.5L675.5,532.6L674.5,532.7L673.5,532.8L672.5,533L672,533.1L671,533.2L670,533.4L669.5,533.5L668.5,533.7L667.5,533.9L667,534L666,534.2L665,534.5L664.5,534.6L663.5,534.9L663,535L662,535.3L661.3,535.5L660.5,535.8L659.7,536L659,536.3L658.3,536.5L657.5,536.8L657,537L656,537.4L655.5,537.6L654.7,538L654,538.4L653.5,538.6L652.9,539L652.1,539.5L651.5,540L651,540.5L650.5,541L650.2,541.5L650,542.1L649.9,543L650,543.7L650.4,544.5L650.7,545L651.2,545.5L651.8,546L652.5,546.5L653,546.8L653.5,547.1L654.3,547.5L655,547.8L655.5,548L656.5,548.4L657,548.6L658,549L658.5,549.1L659.5,549.4L660,549.6L661,549.9L661.5,550L662.5,550.3L663.3,550.5L664,550.7L665,550.9L665.5,551L666.5,551.3L667.5,551.5L668,551.6L669,551.8L670,552L670.5,552.1L671.5,552.2L672.5,552.4L673.1,552.5L674,552.6L675,552.8L676,552.9L677,553L677.5,553.1L678.5,553.2L679.5,553.2L680.5,553.3L681.5,553.4L682.5,553.5L683.1,553.5L684,553.5L685,553.6L686,553.6L687,553.7L688,553.7L689,553.7L690,553.7L691,553.7L692,553.7L693,553.8L694,553.8L695,553.8L696,553.8L697,553.8L698,553.7L699,553.7L700,553.7L701,553.7L702,553.6L703,553.6L704,553.5L704.8,553.5ZM702.5,559L703,559L704,558.9L705,558.9L706,558.9L707,558.9L708,558.8L709,558.8L710,558.8L711,558.8L712,558.7L713,558.7L714,558.7L715,558.6L716,558.6L717,558.5L717.5,558.5L718.5,558.4L719.5,558.3L720.5,558.2L721.5,558.1L722.2,558L723,557.9L724,557.8L725,557.6L726,557.5L726.5,557.5L727.5,557.3L728.5,557.2L729.5,557.1L730.5,557L731,556.9L732,556.8L733,556.8L734,556.7L735,556.6L735.7,556.5L736.5,556.4L737.5,556.3L738.5,556.2L739.5,556L740,556L741,555.8L742,555.6L742.6,555.5L743.5,555.3L744.5,555.1L745,555L746,554.7L747,554.5L747.5,554.4L748.5,554.1L749,554L750,553.7L750.7,553.5L751.5,553.3L752.4,553L753,552.8L753.9,552.5L754.5,552.3L755.4,552L756,551.8L756.7,551.5L757.5,551.2L758,551L759,550.6L759.5,550.3L760.3,550L761,549.6L761.5,549.4L762.2,549L763,548.5L763.5,548.2L764,547.8L764.5,547.4L765,547L765.5,546.5L766,545.9L766.5,545.2L766.8,544.5L767,543.9L767.1,543L767,542.5L766.7,541.5L766.4,541L766,540.4L765.5,539.8L765,539.3L764.5,538.8L764,538.4L763.5,538L762.9,537.5L762.1,537L761.5,536.6L761,536.3L760.4,536L759.5,535.5L759,535.3L758.4,535L757.5,534.6L757,534.4L756,534L755.5,533.8L754.7,533.5L754,533.3L753.3,533L752.5,532.7L751.7,532.5L751,532.3L750.1,532L749.5,531.8L748.5,531.5L748,531.4L747,531.1L746.5,531L745.5,530.7L744.7,530.5L744,530.3L743,530.1L742.5,530L741.5,529.7L740.5,529.5L740,529.4L739,529.2L738,529L737.5,528.9L736.5,528.8L735.5,528.6L734.9,528.5L734,528.4L733,528.2L732,528.1L731.3,528L730.5,527.9L729.5,527.8L728.5,527.7L727.5,527.6L726.5,527.5L726,527.5L725,527.4L724,527.3L723,527.2L722,527.1L721,527.1L720,527L719.5,527L718.5,526.9L717.5,526.9L716.5,526.9L715.5,526.8L714.5,526.8L713.5,526.7L712.5,526.7L711.5,526.7L710.5,526.6L709.5,526.6L708.5,526.6L707.5,526.5L707,526.5L706,526.5L705,526.4L704,526.4L703,526.3L702,526.3L701,526.2L700,526.2L699,526.2L698,526.1L697,526.1L696,526.1L695,526.1L694,526.1L693,526L692,526L691,526L690,526L689,526L688,526L687,526L686.5,526L685.5,526L684.5,526L684,526L683,526L682,526L681,526.1L680,526.1L679,526.1L678,526.2L677,526.3L676,526.3L675,526.4L674,526.5L673.5,526.6L672.5,526.6L671.5,526.7L670.5,526.8L669.5,527L669,527L668,527.1L667,527.2L666,527.3L665,527.4L664.3,527.5L663.5,527.6L662.5,527.7L661.5,527.8L660.5,527.9L659.5,528L659,528L658,528.1L657,528.2L656,528.3L655,528.4L654.3,528.5L653.5,528.6L652.5,528.7L651.5,528.8L650.5,529L650,529L649,529.2L648,529.3L647.1,529.5L646.5,529.6L645.5,529.8L644.7,530L644,530.1L643,530.4L642.5,530.5L641.5,530.8L640.6,531L640,531.2L639,531.4L638.5,531.6L637.5,531.8L636.9,532L636,532.2L635.1,532.5L634.5,532.7L633.5,532.9L633,533.1L632,533.3L631.3,533.5L630.5,533.7L629.5,534L629,534.1L628,534.4L627.5,534.5L626.5,534.8L625.7,535L625,535.2L624.1,535.5L623.5,535.7L622.7,536L622,536.3L621.5,536.5L620.5,537L620,537.3L619.5,537.6L618.9,538L618.2,538.5L617.6,539L617,539.5L616.6,540L616.1,540.5L615.8,541L615.5,541.5L615.1,542.5L615,543.2L615,543.6L615.2,544.5L615.5,545.1L616,545.8L616.5,546.4L617,546.8L617.5,547.2L618,547.6L618.7,548L619.5,548.5L620,548.7L620.6,549L621.5,549.4L622,549.5L623,549.9L623.5,550.1L624.5,550.4L625,550.5L626,550.8L627,551L627.5,551.1L628.5,551.3L629.2,551.5L630,551.7L631,551.9L631.5,552L632.5,552.3L633.5,552.5L634,552.6L635,552.9L635.5,553L636.5,553.3L637.2,553.5L638,553.7L639,554L639.5,554.1L640.5,554.4L641,554.5L642,554.8L643,555L643.5,555.1L644.5,555.3L645.5,555.5L646,555.6L647,555.8L648,555.9L648.5,556L649.5,556.2L650.5,556.3L651.5,556.4L652.2,556.5L653,556.6L654,556.7L655,556.8L656,556.9L656.9,557L657.5,557.1L658.5,557.2L659.5,557.3L660.5,557.4L661.5,557.5L662,557.5L663,557.6L664,557.8L665,557.9L666,558L666.5,558.1L667.5,558.2L668.5,558.3L669.5,558.4L670.3,558.5L671,558.6L672,558.7L673,558.8L674,558.9L675,558.9L675.8,559L676.5,559L677.5,559.1L678.5,559.2L679.5,559.2L680.5,559.3L681.5,559.3L682.5,559.4L683.5,559.4L684.5,559.4L685.5,559.5L686.5,559.5L687.5,559.5L688.5,559.5L689.5,559.5L690.5,559.5L691.5,559.4L692.5,559.4L693.5,559.4L694.5,559.4L695.5,559.3L696.5,559.3L697.5,559.2L698.5,559.2L699.5,559.1L700.5,559.1L701.5,559L702.5,559ZM691,564.5L692,564.5L693,564.4L694,564.4L695,564.3L696,564.3L697,564.2L698,564.1L699,564L699.5,564L700.5,563.9L701.5,563.8L702.5,563.8L703.5,563.7L704.5,563.7L705.5,563.6L706.5,563.6L707.5,563.6L708.5,563.6L709.5,563.6L710.5,563.6L711.5,563.6L712.5,563.6L713.5,563.6L714.5,563.5L715,563.5L716,563.4L717,563.3L718,563.2L719,563L719.5,563L720.5,562.8L721.5,562.6L722.4,562.5L723,562.4L724,562.2L725,562.1L725.5,562L726.5,561.8L727.5,561.7L728.5,561.6L729.5,561.5L730,561.5L731,561.4L732,561.4L733,561.4L734,561.4L735,561.4L736,561.4L737,561.4L738,561.3L739,561.3L740,561.3L741,561.2L742,561.1L743,561L743.5,561L744.5,560.9L745.5,560.8L746.5,560.6L747.4,560.5L748,560.4L749,560.3L750,560.1L750.5,560L751.5,559.8L752.5,559.6L753,559.5L754,559.3L755,559L755.5,558.9L756.5,558.6L757,558.5L758,558.2L758.8,558L759.5,557.8L760.5,557.5L761,557.4L762,557.1L762.5,556.9L763.5,556.6L764,556.5L765,556.2L765.5,556L766.5,555.6L767,555.4L768,555L768.5,554.8L769.3,554.5L770,554.2L770.5,553.9L771.3,553.5L772,553.1L772.5,552.8L773.1,552.5L773.9,552L774.5,551.6L775,551.3L775.5,550.9L776.1,550.5L776.7,550L777.3,549.5L777.9,549L778.4,548.5L778.9,548L779.3,547.5L779.7,547L780.1,546.5L780.5,545.8L780.9,545L781,544.5L781.3,543.5L781.3,542.5L781.1,541.5L781,541L780.5,540L780.3,539.5L780,539L779.5,538.4L779,537.7L778.5,537.1L778,536.6L777.5,536.1L777,535.7L776.5,535.2L776,534.8L775.5,534.4L774.9,534L774.1,533.5L773.5,533.2L773,532.9L772.3,532.5L771.5,532.1L771,531.9L770.1,531.5L769.5,531.2L768.9,531L768,530.7L767.5,530.5L766.5,530.1L766,529.9L765,529.6L764.5,529.4L763.5,529.1L763,528.9L762,528.6L761.5,528.5L760.5,528.1L760,528L759,527.7L758.4,527.5L757.5,527.2L756.6,527L756,526.8L755,526.5L754.5,526.4L753.5,526.1L753,526L752,525.7L751.1,525.5L750.5,525.4L749.5,525.1L749,525L748,524.7L747,524.5L746.5,524.4L745.5,524.2L744.6,524L744,523.9L743,523.7L742.1,523.5L741.5,523.4L740.5,523.2L739.5,523.1L739,523L738,522.8L737,522.7L736,522.6L735.5,522.5L734.5,522.4L733.5,522.3L732.5,522.2L731.5,522.1L730.7,522L730,521.9L729,521.8L728,521.8L727,521.7L726,521.6L725,521.5L724.3,521.5L723.5,521.4L722.5,521.4L721.5,521.3L720.5,521.3L719.5,521.3L718.5,521.2L717.5,521.2L716.5,521.2L715.5,521.2L714.5,521.1L713.5,521.1L712.5,521.1L711.5,521L711,521L710,521L709,520.9L708,520.9L707,520.8L706,520.7L705,520.7L704,520.6L703,520.6L702,520.5L701.5,520.5L700.5,520.4L699.5,520.4L698.5,520.3L697.5,520.3L696.5,520.3L695.5,520.2L694.5,520.2L693.5,520.2L692.5,520.2L691.5,520.2L690.5,520.2L689.5,520.2L688.5,520.2L687.5,520.2L686.5,520.2L685.5,520.2L684.5,520.2L683.5,520.2L682.5,520.3L681.5,520.3L680.5,520.4L679.5,520.4L678.5,520.5L678,520.5L677,520.6L676,520.7L675,520.8L674,520.9L673.1,521L672.5,521.1L671.5,521.2L670.5,521.3L669.5,521.4L668.5,521.5L668,521.6L667,521.7L666,521.8L665,521.9L664.2,522L663.5,522.1L662.5,522.2L661.5,522.3L660.5,522.4L659.5,522.5L659,522.5L658,522.6L657,522.7L656,522.8L655,522.9L654,522.9L653.2,523L652.5,523.1L651.5,523.2L650.5,523.3L649.5,523.4L649,523.5L648,523.7L647,523.9L646.3,524L645.5,524.2L644.5,524.4L644,524.5L643,524.8L642,525L641.5,525.1L640.5,525.4L639.9,525.5L639,525.7L638,525.9L637.5,526L636.5,526.2L635.5,526.4L634.9,526.5L634,526.6L633,526.8L632,526.9L631.1,527L630.5,527.1L629.5,527.2L628.5,527.2L627.5,527.3L626.5,527.4L625.7,527.5L625,527.6L624,527.7L623,527.8L622,528L621.5,528.1L620.5,528.3L619.7,528.5L619,528.7L618.1,529L617.5,529.2L616.7,529.5L616,529.8L615.5,530L614.5,530.5L614,530.7L613.4,531L612.5,531.4L612,531.7L611.4,532L610.5,532.5L610,532.7L609.4,533L608.5,533.5L608,533.7L607.4,534L606.5,534.4L606,534.7L605.4,535L604.5,535.5L604,535.8L603.5,536.1L602.8,536.5L602,537L601.5,537.4L601,537.8L600.5,538.2L600,538.6L599.5,539.1L599,539.6L598.5,540.2L598,540.9L597.7,541.5L597.4,542L597.1,543L597,544L597.2,545L597.5,545.6L598,546.5L598.4,547L598.8,547.5L599.3,548L599.9,548.5L600.5,549L601,549.3L601.5,549.7L602,550L602.9,550.5L603.5,550.8L604,551.1L604.9,551.5L605.5,551.8L606.1,552L607,552.4L607.5,552.6L608.5,553L609,553.1L610,553.5L610.5,553.7L611.5,554L612,554.2L613,554.5L613.5,554.7L614.5,555L615,555.1L616,555.5L616.5,555.6L617.5,555.9L618,556L619,556.3L619.9,556.5L620.5,556.6L621.5,556.8L622.3,557L623,557.1L624,557.3L625,557.4L626,557.5L626.5,557.5L627.5,557.6L628.5,557.7L629.5,557.8L630.5,557.9L631.1,558L632,558.1L633,558.3L634,558.4L634.5,558.5L635.5,558.7L636.5,558.9L637,559L638,559.2L639,559.4L639.5,559.5L640.5,559.7L641.5,559.9L642,560L643,560.2L644,560.4L644.6,560.5L645.5,560.6L646.5,560.8L647.5,560.9L648,561L649,561.1L650,561.3L651,561.4L652,561.5L652.5,561.6L653.5,561.7L654.5,561.8L655.5,561.9L656.5,562L657,562L658,562.1L659,562.2L660,562.3L661,562.4L662,562.5L662.5,562.5L663.5,562.6L664.5,562.8L665.5,562.9L666.5,563L667,563L668,563.2L669,563.3L670,563.4L670.9,563.5L671.5,563.6L672.5,563.7L673.5,563.8L674.5,563.8L675.5,563.9L676.5,564L677,564L678,564.1L679,564.2L680,564.2L681,564.3L682,564.3L683,564.4L684,564.4L685,564.5L685.8,564.5L686.5,564.5L687.5,564.5L688.5,564.5L689.5,564.5L690.5,564.5L691,564.5ZM695.7,568.5L696.5,568.4L697.5,568.4L698.5,568.3L699.5,568.2L700.5,568.1L701.5,568L702,568L703,567.9L704,567.9L705,567.8L706,567.8L707,567.8L708,567.8L709,567.9L710,567.9L711,567.9L712,567.9L713,567.9L714,567.9L715,567.8L716,567.7L717,567.6L717.5,567.5L718.5,567.3L719.5,567.1L720.1,567L721,566.8L722,566.6L722.5,566.4L723.5,566.2L724.5,566L725,565.9L726,565.7L727,565.5L727.5,565.4L728.5,565.3L729.5,565.2L730.5,565.2L731.5,565.2L732.5,565.2L733.5,565.2L734.5,565.2L735.5,565.3L736.5,565.3L737.5,565.3L738.5,565.3L739.5,565.4L740.5,565.4L741.5,565.3L742.5,565.3L743.5,565.3L744.5,565.3L745.5,565.2L746.5,565.2L747.5,565.1L748.5,565L749,565L750,564.8L751,564.7L752,564.5L752.5,564.4L753.5,564.2L754.5,564L755,563.9L756,563.6L756.5,563.5L757.5,563.2L758.1,563L759,562.7L759.8,562.5L760.5,562.3L761.5,562L762,561.9L763,561.6L763.5,561.5L764.5,561.2L765.3,561L766,560.8L767,560.5L767.5,560.4L768.5,560.1L769,559.9L770,559.5L770.5,559.4L771.4,559L772,558.7L772.6,558.5L773.5,558.1L774,557.8L774.6,557.5L775.5,557L776,556.8L776.5,556.5L777.4,556L778,555.7L778.5,555.4L779.1,555L780,554.5L780.5,554.2L781,553.8L781.5,553.5L782.2,553L782.9,552.5L783.5,552.1L784,551.7L784.5,551.3L785,550.9L785.5,550.5L786.1,550L786.7,549.5L787.3,549L787.8,548.5L788.4,548L789,547.5L789.5,547.1L790,546.7L790.5,546.3L791,545.9L791.5,545.5L792,545L792.6,544.5L793,544L793.5,543.3L793.8,542.5L793.7,541.5L793.5,540.8L793.1,540L792.8,539.5L792.5,539L792,538.4L791.5,537.9L791,537.3L790.5,536.8L790,536.4L789.5,535.9L789,535.5L788.5,535L787.9,534.5L787.3,534L786.7,533.5L786.1,533L785.5,532.5L785,532.2L784.5,531.8L784,531.4L783.5,531L782.8,530.5L782.1,530L781.5,529.6L781,529.3L780.4,529L779.5,528.5L779,528.2L778.5,528L777.5,527.6L777,527.4L776.1,527L775.5,526.8L774.6,526.5L774,526.3L773,526L772.5,525.9L771.5,525.6L771,525.5L770,525.2L769,525L768.5,524.9L767.5,524.6L767,524.5L766,524.3L765,524L764.5,523.9L763.5,523.6L763,523.5L762,523.2L761.3,523L760.5,522.8L759.6,522.5L759,522.3L758,522L757.5,521.9L756.5,521.5L756,521.4L755,521.1L754.5,520.9L753.5,520.6L753,520.4L752,520.1L751.5,520L750.5,519.7L750,519.5L749,519.2L748.1,519L747.5,518.8L746.5,518.6L745.9,518.5L745,518.3L744,518.1L743.2,518L742.5,517.9L741.5,517.7L740.5,517.6L739.5,517.5L739,517.4L738,517.3L737,517.2L736,517.2L735,517.1L734.3,517L733.5,516.9L732.5,516.8L731.5,516.8L730.5,516.7L729.5,516.6L728.5,516.5L728,516.5L727,516.4L726,516.3L725,516.2L724,516.2L723,516.1L722,516L721.3,516L720.5,516L719.5,515.9L718.5,515.8L717.5,515.8L716.5,515.7L715.5,515.7L714.5,515.6L713.5,515.5L712.8,515.5L712,515.4L711,515.4L710,515.3L709,515.2L708,515.2L707,515.1L706,515L705.5,515L704.5,514.9L703.5,514.8L702.5,514.8L701.5,514.7L700.5,514.7L699.5,514.6L698.5,514.6L697.5,514.6L696.5,514.6L695.5,514.6L694.5,514.6L693.5,514.6L692.5,514.7L691.5,514.7L690.5,514.7L689.5,514.7L688.5,514.8L687.5,514.8L686.5,514.8L685.5,514.8L684.5,514.8L683.5,514.8L682.5,514.8L681.5,514.9L680.5,514.9L679.5,515L678.9,515L678,515.1L677,515.2L676,515.2L675,515.3L674,515.4L673.5,515.5L672.5,515.6L671.5,515.7L670.5,515.9L669.5,516L669,516.1L668,516.2L667,516.4L666.1,516.5L665.5,516.6L664.5,516.8L663.5,516.9L662.9,517L662,517.1L661,517.2L660,517.3L659,517.4L658.1,517.5L657.5,517.5L656.5,517.6L655.5,517.7L654.5,517.7L653.5,517.8L652.5,517.9L651.5,518L651,518L650,518.1L649,518.3L648,518.5L647.5,518.6L646.5,518.8L645.6,519L645,519.2L644,519.4L643.5,519.5L642.5,519.8L641.8,520L641,520.2L640,520.4L639.5,520.5L638.5,520.7L637.5,520.9L637,521L636,521.1L635,521.2L634,521.3L633,521.4L632,521.4L631,521.4L630,521.4L629,521.4L628,521.4L627,521.4L626,521.4L625,521.4L624,521.5L623.4,521.5L622.5,521.6L621.5,521.7L620.5,521.8L619.5,522L619,522.1L618,522.3L617.4,522.5L616.5,522.8L615.8,523L615,523.3L614.4,523.5L613.5,523.9L613,524.1L612,524.5L611.5,524.7L610.9,525L610,525.4L609.5,525.6L608.7,526L608,526.3L607.5,526.5L606.5,527L606,527.2L605.2,527.5L604.5,527.8L603.9,528L603,528.3L602.5,528.5L601.5,528.9L601,529.1L600.2,529.5L599.5,529.8L599,530.1L598.2,530.5L597.5,530.9L597,531.2L596.5,531.5L595.7,532L595,532.4L594.5,532.8L594,533.1L593.4,533.5L592.7,534L592,534.5L591.5,534.8L591,535.1L590.4,535.5L589.7,536L589,536.4L588.5,536.8L588,537.1L587.5,537.5L586.8,538L586.2,538.5L585.7,539L585.2,539.5L584.8,540L584.4,540.5L584,541.2L583.6,542L583.5,542.5L583.3,543.5L583.5,544.5L583.7,545L584,545.7L584.5,546.5L584.8,547L585.2,547.5L585.7,548L586.1,548.5L586.6,549L587.2,549.5L587.8,550L588.4,550.5L589,550.9L589.5,551.2L590,551.5L590.8,552L591.5,552.4L592,552.6L592.8,553L593.5,553.3L594,553.5L595,553.9L595.5,554.1L596.5,554.5L597,554.6L598,555L598.5,555.2L599.4,555.5L600,555.7L600.8,556L601.5,556.3L602.2,556.5L603,556.8L603.7,557L604.5,557.3L605.2,557.5L606,557.8L606.7,558L607.5,558.2L608.3,558.5L609,558.7L610,559L610.5,559.2L611.5,559.4L612,559.6L613,559.9L613.5,560L614.5,560.3L615.2,560.5L616,560.7L617,561L617.5,561.1L618.5,561.3L619.3,561.5L620,561.6L621,561.8L622,562L622.5,562.1L623.5,562.2L624.5,562.3L625.5,562.4L626.5,562.4L627.4,562.5L628,562.5L629,562.6L630,562.7L631,562.7L632,562.8L633,562.9L633.5,563L634.5,563.1L635.5,563.3L636.5,563.5L637,563.5L638,563.7L639,563.9L639.5,564L640.5,564.2L641.5,564.3L642.4,564.5L643,564.6L644,564.7L645,564.9L645.7,565L646.5,565.1L647.5,565.2L648.5,565.4L649.5,565.5L650,565.5L651,565.7L652,565.8L653,565.9L654,566L654.5,566L655.5,566.1L656.5,566.2L657.5,566.2L658.5,566.3L659.5,566.4L660.5,566.5L661,566.5L662,566.6L663,566.7L664,566.8L665,566.9L665.6,567L666.5,567.1L667.5,567.2L668.5,567.4L669.5,567.5L670,567.6L671,567.7L672,567.8L673,567.9L673.6,568L674.5,568.1L675.5,568.2L676.5,568.3L677.5,568.3L678.5,568.4L679.5,568.5L680,568.5L681,568.6L682,568.6L683,568.6L684,568.7L685,568.7L686,568.7L687,568.7L688,568.7L689,568.7L690,568.7L691,568.7L692,568.7L693,568.6L694,568.6L695,568.5L695.7,568.5ZM692.7,572.5L693.5,572.5L694.5,572.4L695.5,572.4L696.5,572.3L697.5,572.3L698.5,572.2L699.5,572.1L700.5,572.1L701.2,572L702,571.9L703,571.9L704,571.8L705,571.8L706,571.8L707,571.8L708,571.9L709,571.9L710,572L711,572L711.5,572L712.5,572L713.5,572L714,572L715,571.9L716,571.9L717,571.7L718,571.6L718.5,571.5L719.5,571.3L720.5,571.1L721,571L722,570.7L722.8,570.5L723.5,570.3L724.5,570.1L725,570L726,569.7L727,569.6L727.5,569.5L728.5,569.3L729.5,569.2L730.5,569.2L731.5,569.1L732.5,569.1L733.5,569.1L734.5,569.1L735.5,569.2L736.5,569.2L737.5,569.2L738.5,569.2L739.5,569.2L740.5,569.2L741.5,569.2L742.5,569.2L743.5,569.2L744.5,569.2L745.5,569.2L746.5,569.2L747.5,569.2L748.5,569.2L749.5,569.1L750.5,569L751,569L752,568.9L753,568.7L754,568.5L754.5,568.4L755.5,568.1L756,568L757,567.6L757.5,567.5L758.5,567.1L759,566.9L760,566.6L760.5,566.4L761.5,566.1L762,565.9L763,565.6L763.5,565.5L764.5,565.2L765.4,565L766,564.9L767,564.6L767.5,564.5L768.5,564.3L769.5,564L770,563.9L771,563.6L771.5,563.4L772.5,563.1L773,562.9L774,562.6L774.5,562.4L775.4,562L776,561.7L776.6,561.5L777.5,561.1L778,560.8L778.7,560.5L779.5,560.1L780,559.8L780.6,559.5L781.5,559L782,558.7L782.5,558.4L783.2,558L784,557.5L784.5,557.2L785,556.9L785.6,556.5L786.4,556L787,555.6L787.5,555.3L788,555L788.9,554.5L789.5,554.2L790,553.9L790.9,553.5L791.5,553.2L792,553L793,552.6L793.5,552.5L794.5,552.1L795.1,552L796,551.8L797,551.6L797.5,551.5L798.5,551.3L799.5,551.1L800,551L801,550.7L801.9,550.5L802.5,550.3L803.3,550L804,549.7L804.5,549.4L805.2,549L805.9,548.5L806.4,548L806.9,547.5L807.2,547L807.6,546.5L808,545.6L808.2,545L808.4,544L808.3,543L808,542L807.8,541.5L807.5,541L807,540.2L806.5,539.6L806,539.1L805.5,538.6L805,538.2L804.5,537.9L804,537.5L803.1,537L802.5,536.6L802,536.4L801.3,536L800.5,535.6L800,535.3L799.5,535L798.6,534.5L798,534.2L797.5,533.8L797,533.5L796.2,533L795.5,532.5L795,532.2L794.5,531.8L794,531.4L793.5,531L792.8,530.5L792.2,530L791.5,529.5L791,529.1L790.5,528.7L790,528.3L789.5,528L788.9,527.5L788.2,527L787.5,526.5L787,526.2L786.5,525.9L785.9,525.5L785.1,525L784.5,524.7L784,524.4L783.3,524L782.5,523.6L782,523.4L781.2,523L780.5,522.7L780,522.5L779,522L778.5,521.8L777.6,521.5L777,521.3L776.2,521L775.5,520.8L774.7,520.5L774,520.3L773,520L772.5,519.8L771.5,519.6L771,519.4L770,519.1L769.5,519L768.5,518.8L767.5,518.5L767,518.4L766,518.1L765.5,518L764.5,517.7L763.8,517.5L763,517.3L762.1,517L761.5,516.8L760.5,516.5L760,516.3L759,516L758.5,515.8L757.5,515.5L757,515.3L756,515L755.5,514.8L754.5,514.5L754,514.3L753,514L752.5,513.9L751.5,513.6L751,513.5L750,513.2L749,513L748.5,512.9L747.5,512.7L746.5,512.6L746,512.5L745,512.4L744,512.2L743,512.1L742,512L741.5,512L740.5,511.9L739.5,511.8L738.5,511.7L737.5,511.6L736.5,511.6L735.7,511.5L735,511.4L734,511.4L733,511.3L732,511.2L731,511.1L730.3,511L729.5,510.9L728.5,510.8L727.5,510.7L726.5,510.6L725.9,510.5L725,510.4L724,510.3L723,510.2L722,510L721.5,510L720.5,509.9L719.5,509.8L718.5,509.7L717.5,509.6L716.5,509.5L716,509.5L715,509.4L714,509.3L713,509.2L712,509.2L711,509.1L710,509L709.5,509L708.5,508.9L707.5,508.8L706.5,508.8L705.5,508.7L704.5,508.6L703.5,508.6L702.8,508.5L702,508.5L701,508.4L700,508.4L699,508.4L698,508.4L697,508.4L696.1,508.5L695.5,508.5L694.5,508.6L693.5,508.7L692.5,508.8L691.5,508.9L690.5,509L689.5,509L688.5,509L687.5,509L686.5,508.9L685.5,508.9L684.5,508.8L683.5,508.7L682.5,508.7L681.5,508.6L680.5,508.6L679.5,508.6L678.5,508.6L677.5,508.7L676.5,508.7L675.5,508.8L674.5,508.9L673.8,509L673,509.1L672,509.2L671,509.4L670.5,509.5L669.5,509.7L668.5,509.9L667.9,510L667,510.2L666,510.4L665.5,510.5L664.5,510.7L663.5,510.9L663,511L662,511.2L661,511.3L660,511.5L659.5,511.5L658.5,511.6L657.5,511.7L656.5,511.7L655.5,511.8L654.5,511.9L653.5,511.9L652.5,512L652,512L651,512.1L650,512.3L649,512.4L648.4,512.5L647.5,512.7L646.5,512.9L645.9,513L645,513.2L644,513.5L643.5,513.6L642.5,513.9L642,514L641,514.3L640.2,514.5L639.5,514.7L638.5,514.9L637.8,515L637,515.1L636,515.2L635,515.3L634,515.4L633,515.4L632,515.4L631,515.4L630,515.4L629,515.3L628,515.3L627,515.3L626,515.3L625,515.2L624,515.3L623,515.3L622,515.3L621,515.4L620.3,515.5L619.5,515.6L618.5,515.8L617.5,515.9L617,516L616,516.3L615.1,516.5L614.5,516.7L613.5,517L613,517.1L612,517.5L611.5,517.6L610.6,518L610,518.2L609.4,518.5L608.5,518.9L608,519.1L607.2,519.5L606.5,519.8L606,520L605,520.5L604.5,520.7L603.7,521L603,521.3L602.5,521.5L601.5,521.9L601,522L600,522.4L599.5,522.6L598.5,523L598,523.2L597.2,523.5L596.5,523.8L596,524.1L595.2,524.5L594.5,524.9L594,525.2L593.5,525.5L592.8,526L592,526.5L591.5,526.8L591,527.2L590.5,527.5L589.6,528L589,528.4L588.5,528.6L587.8,529L587,529.3L586.5,529.5L585.5,529.9L585,530L584,530.3L583.3,530.5L582.5,530.7L581.5,530.9L581,531L580,531.3L579,531.5L578.5,531.6L577.5,531.9L577,532L576,532.3L575.5,532.5L574.5,532.9L574,533.1L573.2,533.5L572.5,533.9L572,534.2L571.5,534.5L570.7,535L570.1,535.5L569.5,536L569,536.5L568.5,537L568.1,537.5L567.7,538L567.3,538.5L567,539L566.5,540L566.4,540.5L566.2,541.5L566.2,542.5L566.5,543.5L566.7,544L567,544.5L567.5,545.2L568,545.8L568.5,546.4L569,546.9L569.5,547.4L570,547.8L570.5,548.3L571,548.7L571.5,549.1L572.1,549.5L572.8,550L573.5,550.5L574,550.8L574.5,551.1L575.1,551.5L576,552L576.5,552.3L577,552.5L577.8,553L578.5,553.3L579,553.6L579.8,554L580.5,554.4L581,554.6L581.8,555L582.5,555.3L583,555.6L584,556L584.5,556.2L585.2,556.5L586,556.8L586.6,557L587.5,557.3L588.2,557.5L589,557.7L589.9,558L590.5,558.1L591.5,558.4L592,558.5L593,558.8L593.8,559L594.5,559.2L595.5,559.4L596,559.6L597,559.9L597.5,560L598.5,560.3L599.1,560.5L600,560.8L600.6,561L601.5,561.3L602.2,561.5L603,561.8L603.7,562L604.5,562.2L605.3,562.5L606,562.7L606.8,563L607.5,563.2L608.4,563.5L609,563.7L609.9,564L610.5,564.2L611.5,564.5L612,564.7L613,564.9L613.5,565.1L614.5,565.4L615.1,565.5L616,565.7L617,566L617.5,566.1L618.5,566.3L619.5,566.5L620,566.5L621,566.7L622,566.8L623,567L623.5,567L624.5,567.1L625.5,567.2L626.5,567.2L627.5,567.3L628.5,567.4L629.5,567.4L630.5,567.5L631,567.5L632,567.6L633,567.7L634,567.8L635,567.9L635.5,568L636.5,568.1L637.5,568.3L638.5,568.5L639,568.5L640,568.7L641,568.9L641.9,569L642.5,569.1L643.5,569.2L644.5,569.3L645.5,569.5L646,569.5L647,569.6L648,569.7L649,569.8L650,569.9L651,569.9L652,570L652.9,570L653.5,570L654.5,570L655.5,570.1L656.5,570.1L657.5,570.1L658.5,570.2L659.5,570.2L660.5,570.3L661.5,570.4L662.5,570.5L663,570.6L664,570.7L665,570.8L666,571L666.5,571L667.5,571.2L668.5,571.4L669.3,571.5L670,571.6L671,571.8L672,571.9L672.6,572L673.5,572.1L674.5,572.2L675.5,572.3L676.5,572.4L677.5,572.5L678,572.5L679,572.6L680,572.6L681,572.7L682,572.7L683,572.7L684,572.7L685,572.7L686,572.7L687,572.7L688,572.7L689,572.6L690,572.6L691,572.6L692,572.5L692.7,572.5ZM685.6,576.5L686.5,576.5L687.5,576.4L688.5,576.3L689.5,576.3L690.5,576.2L691.5,576.1L692.5,576.1L693.5,576L694,576L695,575.9L696,575.9L697,575.8L698,575.8L699,575.7L700,575.7L701,575.6L702,575.5L702.8,575.5L703.5,575.5L704.5,575.4L705.5,575.4L706.5,575.4L707.5,575.4L708.5,575.5L709.2,575.5L710,575.5L711,575.6L712,575.6L713,575.6L714,575.6L715,575.6L716,575.5L716.5,575.5L717.5,575.4L718.5,575.3L719.5,575.1L720.1,575L721,574.8L722,574.7L722.8,574.5L723.5,574.4L724.5,574.2L725.4,574L726,573.9L727,573.8L728,573.6L729,573.5L729.5,573.5L730.5,573.4L731.5,573.3L732.5,573.2L733.5,573.1L734.5,573.1L735.1,573L736,572.9L737,572.8L738,572.8L739,572.7L740,572.6L741,572.6L742,572.6L743,572.5L744,572.6L745,572.6L746,572.6L747,572.7L748,572.7L749,572.7L750,572.7L751,572.7L752,572.7L753,572.6L753.5,572.5L754.5,572.3L755.5,572.1L756,571.9L757,571.6L757.5,571.5L758.5,571.1L759,570.9L759.9,570.5L760.5,570.3L761.1,570L762,569.7L762.5,569.5L763.5,569.1L764,569L765,568.7L765.7,568.5L766.5,568.3L767.5,568.1L768,568L769,567.8L770,567.6L770.5,567.4L771.5,567.2L772.5,567L773,566.9L774,566.6L774.5,566.5L775.5,566.2L776.3,566L777,565.8L777.8,565.5L778.5,565.3L779.2,565L780,564.7L780.5,564.5L781.5,564L782,563.7L782.5,563.4L783.3,563L784,562.6L784.5,562.2L785,561.9L785.7,561.5L786.5,561L787,560.7L787.5,560.4L788.1,560L789,559.5L789.5,559.3L790.1,559L791,558.6L791.5,558.5L792.5,558.1L793,558L794,557.8L795,557.6L796,557.5L796.8,557.5L797.5,557.5L798.5,557.5L799.5,557.5L800.5,557.5L801,557.5L802,557.5L803,557.5L803.5,557.5L804.5,557.4L805.5,557.3L806.5,557.1L807,557L808,556.6L808.5,556.4L809.3,556L810,555.6L810.5,555.3L811,554.9L811.5,554.5L812,554L812.5,553.5L813,552.9L813.5,552.3L814,551.6L814.4,551L814.7,550.5L815,549.9L815.4,549L815.6,548.5L816,547.5L816.1,547L816.4,546L816.5,545L816.5,544.5L816.5,543.5L816.4,543L816.1,542L815.9,541.5L815.5,540.8L815,540L814.7,539.5L814.4,539L814,538.5L813.5,537.9L813,537.3L812.5,536.7L812,536.2L811.5,535.7L811,535.3L810.5,534.9L810,534.5L809.4,534L808.7,533.5L808,533.1L807.5,532.8L806.9,532.5L806,532L805.5,531.8L804.7,531.5L804,531.2L803.5,531L802.5,530.6L802,530.4L801.1,530L800.5,529.7L800,529.5L799.1,529L798.5,528.6L798,528.3L797.5,528L796.8,527.5L796.1,527L795.5,526.6L795,526.2L794.5,525.8L794,525.5L793.4,525L792.7,524.5L792,524L791.5,523.6L791,523.3L790.5,523L789.8,522.5L789,522L788.5,521.7L788,521.5L787.2,521L786.5,520.7L786,520.4L785.2,520L784.5,519.7L784,519.4L783,519L782.5,518.8L781.9,518.5L781,518.1L780.5,517.9L779.5,517.5L779,517.3L778.3,517L777.5,516.7L777,516.5L776,516.1L775.5,515.9L774.6,515.5L774,515.3L773.4,515L772.5,514.7L772,514.5L771,514.1L770.5,513.9L769.5,513.5L769,513.4L768,513L767.5,512.8L766.6,512.5L766,512.3L765.1,512L764.5,511.8L763.5,511.5L763,511.3L762,511L761.5,510.9L760.5,510.6L760,510.4L759,510.2L758.4,510L757.5,509.8L756.5,509.5L756,509.4L755,509.2L754,509.1L753.5,509L752.5,508.8L751.5,508.7L750.5,508.5L750,508.5L749,508.4L748,508.3L747,508.2L746,508.1L745.3,508L744.5,507.9L743.5,507.8L742.5,507.7L741.5,507.6L740.5,507.5L740,507.5L739,507.4L738,507.3L737,507.2L736,507.1L735.3,507L734.5,506.9L733.5,506.8L732.5,506.6L731.8,506.5L731,506.4L730,506.2L729,506L728.5,505.9L727.5,505.7L726.5,505.5L726,505.4L725,505.3L724,505.1L723.5,505L722.5,504.8L721.5,504.7L720.5,504.6L719.5,504.5L719,504.5L718,504.4L717,504.3L716,504.3L715,504.2L714,504.2L713,504.1L712,504.1L711,504.1L710,504L709.5,504L708.5,503.9L707.5,503.9L706.5,503.8L705.5,503.7L704.5,503.6L703.5,503.5L703,503.5L702,503.4L701,503.3L700,503.2L699,503.2L698,503.2L697,503.2L696,503.3L695,503.4L694,503.4L693.4,503.5L692.5,503.6L691.5,503.7L690.5,503.7L689.5,503.7L688.5,503.7L687.5,503.7L686.5,503.6L685.5,503.5L685,503.5L684,503.4L683,503.4L682,503.4L681,503.4L680,503.4L679,503.5L678.5,503.5L677.5,503.6L676.5,503.7L675.5,503.8L674.5,503.9L673.7,504L673,504.1L672,504.2L671,504.3L670,504.4L669.4,504.5L668.5,504.6L667.5,504.8L666.5,504.9L665.8,505L665,505.1L664,505.3L663,505.5L662.5,505.6L661.5,505.8L660.5,506L660,506.1L659,506.3L658,506.5L657.5,506.6L656.5,506.8L655.5,507L655,507.1L654,507.3L653,507.4L652.5,507.5L651.5,507.7L650.5,507.8L649.5,508L649,508L648,508.2L647,508.4L646.1,508.5L645.5,508.6L644.5,508.8L643.5,509L643,509.1L642,509.3L641,509.5L640.5,509.6L639.5,509.8L638.6,510L638,510.1L637,510.3L636,510.5L635.5,510.6L634.5,510.7L633.5,510.8L632.5,510.9L631.5,511L631,511L630,511.1L629,511.1L628,511.2L627,511.2L626,511.3L625,511.3L624,511.3L623,511.4L622,511.4L621.1,511.5L620.5,511.5L619.5,511.6L618.5,511.7L617.5,511.9L616.6,512L616,512.1L615,512.3L614,512.5L613.5,512.6L612.5,512.9L612,513L611,513.3L610.2,513.5L609.5,513.7L608.6,514L608,514.2L607,514.5L606.5,514.6L605.5,514.9L605,515L604,515.3L603.1,515.5L602.5,515.6L601.5,515.8L600.6,516L600,516.1L599,516.3L598,516.5L597.5,516.6L596.5,516.9L596,517.1L595,517.5L594.5,517.7L593.9,518L593,518.5L592.5,518.8L592,519.2L591.5,519.5L590.7,520L590,520.5L589.5,520.8L589,521.1L588.4,521.5L587.5,522L587,522.2L586.3,522.5L585.5,522.8L584.8,523L584,523.2L583,523.4L582.5,523.5L581.5,523.7L580.5,523.9L579.8,524L579,524.2L578,524.4L577.5,524.5L576.5,524.8L575.7,525L575,525.2L574.1,525.5L573.5,525.7L572.6,526L572,526.2L571.3,526.5L570.5,526.8L570,527L569,527.5L568.5,527.8L568,528.1L567.2,528.5L566.5,529L566,529.3L565.5,529.7L565,530L564.4,530.5L563.7,531L563.1,531.5L562.5,532L562,532.5L561.5,532.9L561,533.4L560.5,533.9L560,534.5L559.5,535L559.1,535.5L558.8,536L558.4,536.5L558,537.3L557.6,538L557.4,538.5L557.1,539.5L557,540L556.8,541L556.7,542L556.8,543L557,543.7L557.4,544.5L557.7,545L558.1,545.5L558.6,546L559.1,546.5L559.7,547L560.3,547.5L561,548L561.5,548.3L562,548.7L562.5,549L563.2,549.5L564,550L564.5,550.3L565,550.7L565.5,551L566.3,551.5L567,552L567.5,552.3L568,552.6L568.6,553L569.4,553.5L570,553.8L570.5,554.2L571.1,554.5L571.9,555L572.5,555.4L573,555.7L573.5,556L574.3,556.5L575,556.9L575.5,557.2L576,557.5L576.9,558L577.5,558.3L578,558.6L578.8,559L579.5,559.3L580,559.6L581,560L581.5,560.2L582.4,560.5L583,560.7L584,561L584.5,561.1L585.5,561.4L586.1,561.5L587,561.7L588,561.9L588.6,562L589.5,562.2L590.5,562.4L591.1,562.5L592,562.7L593,562.9L593.5,563.1L594.5,563.3L595.2,563.5L596,563.7L596.9,564L597.5,564.2L598.5,564.5L599,564.7L600,565L600.5,565.1L601.5,565.5L602,565.6L603,565.9L603.5,566.1L604.5,566.4L605,566.6L606,567L606.5,567.1L607.5,567.5L608,567.7L609,568L609.5,568.2L610.5,568.5L611,568.7L612,568.9L612.5,569.1L613.5,569.4L614.1,569.5L615,569.7L616,569.9L616.5,570.1L617.5,570.3L618.5,570.5L619,570.6L620,570.7L621,570.9L621.5,571L622.5,571.1L623.5,571.3L624.5,571.4L625.5,571.5L626,571.5L627,571.6L628,571.6L629,571.7L630,571.7L631,571.8L632,571.8L633,571.9L634,572L634.5,572.1L635.5,572.2L636.5,572.3L637.5,572.5L638,572.5L639,572.7L640,572.8L641,573L641.5,573L642.5,573.1L643.5,573.3L644.5,573.3L645.5,573.4L646.3,573.5L647,573.5L648,573.6L649,573.6L650,573.7L651,573.7L652,573.7L653,573.7L654,573.6L655,573.6L656,573.6L657,573.6L658,573.7L659,573.7L660,573.8L661,573.9L661.5,574L662.5,574.2L663.5,574.4L664.2,574.5L665,574.7L666,574.9L666.5,575L667.5,575.3L668.4,575.5L669,575.6L670,575.8L671,576L671.5,576.1L672.5,576.2L673.5,576.3L674.5,576.3L675.5,576.4L676.5,576.5L677.5,576.5L678,576.5L679,576.5L680,576.6L681,576.6L682,576.6L683,576.6L684,576.6L685,576.5L685.6,576.5ZM678.9,580.5L679.5,580.5L680.5,580.4L681.5,580.4L682.5,580.3L683.5,580.3L684.5,580.2L685.5,580.1L686.5,580.1L687.2,580L688,579.9L689,579.8L690,579.7L691,579.7L692,579.6L693,579.5L693.5,579.5L694.5,579.4L695.5,579.4L696.5,579.3L697.5,579.3L698.5,579.2L699.5,579.2L700.5,579.1L701.5,579.1L702.5,579L703,579L704,578.9L705,578.9L706,578.9L707,578.9L708,578.8L709,578.8L710,578.8L711,578.8L712,578.8L713,578.8L714,578.8L715,578.8L716,578.8L717,578.8L718,578.7L719,578.6L720,578.6L720.7,578.5L721.5,578.4L722.5,578.3L723.5,578.2L724.5,578.1L725.5,578L726,578L727,577.9L728,577.8L729,577.7L730,577.6L730.5,577.5L731.5,577.3L732.5,577.2L733.4,577L734,576.9L735,576.7L735.8,576.5L736.5,576.3L737.5,576.1L738.3,576L739,575.9L740,575.7L741,575.6L742,575.6L743,575.5L744,575.5L745,575.5L746,575.6L747,575.7L748,575.7L749,575.8L750,575.9L751,575.9L752,575.9L753,575.9L754,575.8L755,575.7L755.8,575.5L756.5,575.3L757.5,575.1L758,574.9L759,574.5L759.5,574.3L760.3,574L761,573.7L761.5,573.5L762.5,573L763,572.8L763.8,572.5L764.5,572.2L765.2,572L766,571.8L767,571.5L767.5,571.4L768.5,571.2L769.4,571L770,570.9L771,570.7L772,570.6L772.5,570.5L773.5,570.3L774.5,570.2L775.5,570L776,569.9L777,569.7L778,569.5L778.5,569.4L779.5,569.2L780.2,569L781,568.7L781.7,568.5L782.5,568.2L783,568L783.9,567.5L784.5,567.2L785,566.9L785.6,566.5L786.3,566L787,565.5L787.5,565.1L788,564.8L788.5,564.4L789.2,564L790,563.5L790.5,563.3L791,563L792,562.6L792.5,562.5L793.5,562.2L794.5,562L795,562L796,561.9L797,561.9L798,561.9L799,561.9L800,562L800.5,562L801.5,562.1L802.5,562.1L803.5,562.1L804.5,562.1L805.5,562L806,562L807,561.8L808,561.6L808.5,561.5L809.5,561.2L810,561L811,560.6L811.5,560.3L812.1,560L812.9,559.5L813.5,559.1L814,558.7L814.5,558.3L815,557.9L815.5,557.5L816,557L816.5,556.5L817,555.9L817.5,555.3L818,554.7L818.5,554L818.9,553.5L819.2,553L819.6,552.5L820,551.8L820.5,551L820.7,550.5L821,550L821.5,549.1L821.8,548.5L822.1,548L822.5,547L822.7,546.5L823,545.9L823.3,545L823.5,544.4L823.7,543.5L823.7,542.5L823.5,541.8L823.2,541L823,540.4L822.6,539.5L822.3,539L822,538.5L821.5,537.8L821,537.1L820.5,536.5L820,536L819.5,535.5L819,535L818.5,534.5L818,534.1L817.5,533.7L817,533.3L816.5,532.9L816,532.5L815.3,532L814.6,531.5L814,531.1L813.5,530.7L813,530.4L812.3,530L811.5,529.5L811,529.3L810.4,529L809.5,528.5L809,528.3L808.4,528L807.5,527.6L807,527.4L806,527L805.5,526.8L804.7,526.5L804,526.2L803.5,526L802.5,525.6L802,525.3L801.4,525L800.5,524.5L800,524.2L799.5,523.9L799,523.5L798.3,523L797.7,522.5L797,522L796.5,521.6L796,521.2L795.5,520.8L795,520.4L794.4,520L793.7,519.5L793,519L792.5,518.7L792,518.4L791.3,518L790.5,517.6L790,517.3L789.2,517L788.5,516.7L788,516.5L787,516.1L786.5,515.9L785.5,515.5L785,515.4L784,515L783.5,514.8L782.6,514.5L782,514.3L781.3,514L780.5,513.7L780,513.5L779,513.1L778.5,512.9L777.7,512.5L777,512.2L776.5,512L775.5,511.5L775,511.3L774.5,511L773.5,510.5L773,510.3L772.4,510L771.5,509.5L771,509.3L770.5,509L769.5,508.5L769,508.3L768.4,508L767.5,507.6L767,507.3L766.2,507L765.5,506.7L764.9,506.5L764,506.2L763.4,506L762.5,505.8L761.5,505.5L761,505.4L760,505.2L759,505.1L758.3,505L757.5,504.9L756.5,504.8L755.5,504.7L754.5,504.7L753.5,504.6L752.5,504.6L751.5,504.5L751,504.5L750,504.4L749,504.4L748,504.3L747,504.2L746,504.2L745,504L744.5,504L743.5,503.9L742.5,503.7L741.5,503.6L741,503.5L740,503.3L739,503.1L738.5,503L737.5,502.8L736.5,502.5L736,502.4L735,502.2L734.3,502L733.5,501.8L732.5,501.5L732,501.4L731,501.2L730.2,501L729.5,500.8L728.5,500.6L727.6,500.5L727,500.4L726,500.3L725,500.2L724,500.1L723.3,500L722.5,499.9L721.5,499.9L720.5,499.9L719.5,499.8L718.5,499.8L717.5,499.8L716.5,499.7L715.5,499.7L714.5,499.6L713.5,499.5L713,499.5L712,499.4L711,499.3L710,499.2L709,499.1L708.5,499L707.5,498.9L706.5,498.7L705.5,498.5L705,498.4L704,498.3L703,498.1L702.5,498L701.5,497.8L700.5,497.7L699.5,497.6L699,497.5L698,497.4L697,497.3L696,497.3L695,497.4L694,497.4L693,497.4L692,497.4L691,497.5L690.5,497.5L689.5,497.6L688.5,497.6L687.5,497.7L686.5,497.8L685.5,497.9L684.6,498L684,498.1L683,498.2L682,498.4L681.1,498.5L680.5,498.6L679.5,498.8L678.5,499L678,499L677,499.2L676,499.4L675,499.5L674.5,499.5L673.5,499.6L672.5,499.7L671.5,499.7L670.5,499.8L669.5,499.7L668.5,499.7L667.5,499.6L666.5,499.5L666,499.5L665,499.4L664,499.3L663,499.3L662,499.3L661,499.5L660.5,499.6L659.5,499.8L659,500L658,500.4L657.5,500.7L656.9,501L656,501.4L655.5,501.7L654.9,502L654,502.4L653.5,502.6L652.6,503L652,503.2L651.1,503.5L650.5,503.7L649.5,503.9L648.9,504L648,504.1L647,504.3L646,504.4L645,504.5L644.3,504.5L643.5,504.6L642.5,504.6L641.5,504.7L640.5,504.8L639.5,504.9L638.5,505L638,505.1L637,505.3L636,505.5L635.5,505.6L634.5,505.8L633.8,506L633,506.2L632,506.5L631.5,506.6L630.5,506.9L629.9,507L629,507.2L628,507.4L627.2,507.5L626.5,507.6L625.5,507.7L624.5,507.8L623.5,507.9L622.5,508L622,508L621,508.1L620,508.1L619,508.2L618,508.3L617,508.4L616.2,508.5L615.5,508.6L614.5,508.8L613.5,509L613,509.1L612,509.3L611,509.5L610.5,509.6L609.5,509.8L608.5,510L608,510.1L607,510.2L606,510.3L605,510.4L604,510.4L603,510.5L602,510.4L601,510.4L600,510.4L599,510.4L598,510.4L597,510.5L596.5,510.5L595.5,510.6L594.5,510.8L593.5,511L593,511.1L592,511.5L591.5,511.6L590.6,512L590,512.3L589.5,512.5L588.6,513L588,513.3L587.5,513.6L586.7,514L586,514.4L585.5,514.6L584.7,515L584,515.3L583.5,515.5L582.5,515.8L582,516L581,516.3L580.5,516.5L579.5,516.8L579,517L578,517.4L577.5,517.6L576.6,518L576,518.2L575.4,518.5L574.5,518.9L574,519.1L573.2,519.5L572.5,519.8L572,520L571,520.4L570.5,520.6L569.5,520.9L569,521.1L568,521.5L567.5,521.6L566.5,522L566,522.1L565.1,522.5L564.5,522.7L563.9,523L563,523.5L562.5,523.8L562,524.1L561.4,524.5L560.7,525L560,525.5L559.5,526L559,526.4L558.5,526.9L558,527.3L557.5,527.8L557,528.3L556.5,528.8L556,529.3L555.5,529.9L555,530.5L554.6,531L554.1,531.5L553.8,532L553.4,532.5L553,533.1L552.5,533.8L552.1,534.5L551.8,535L551.5,535.5L551,536.3L550.6,537L550.3,537.5L550,538.2L549.5,539L549.3,539.5L549,540L548.5,540.9L548.2,541.5L547.9,542L547.5,542.8L547.2,543.5L547,544.5L546.9,545L546.9,546L546.9,547L547,547.5L547.3,548.5L547.5,549L548,549.9L548.5,550.5L549,551L549.5,551.3L550,551.6L550.9,552L551.5,552.2L552.5,552.4L553.1,552.5L554,552.6L555,552.7L556,552.8L557,553L557.5,553.1L558.5,553.3L559.3,553.5L560,553.7L560.8,554L561.5,554.3L562,554.5L563,554.9L563.5,555.2L564.2,555.5L565,555.9L565.5,556.2L566,556.5L566.9,557L567.5,557.4L568,557.7L568.5,558L569.2,558.5L570,559L570.5,559.4L571,559.7L571.5,560.1L572.1,560.5L572.7,561L573.4,561.5L574,561.9L574.5,562.2L575,562.5L575.7,563L576.5,563.4L577,563.7L577.6,564L578.5,564.4L579,564.6L580,565L580.5,565.1L581.5,565.4L582,565.6L583,565.8L584,566L584.5,566L585.5,566.2L586.5,566.3L587.5,566.4L588.4,566.5L589,566.6L590,566.7L591,566.9L591.8,567L592.5,567.1L593.5,567.4L594.1,567.5L595,567.7L596,568L596.5,568.1L597.5,568.4L598,568.6L599,568.9L599.5,569L600.5,569.3L601.2,569.5L602,569.7L602.8,570L603.5,570.2L604.4,570.5L605,570.7L605.9,571L606.5,571.2L607.5,571.5L608,571.7L609,572L609.5,572.1L610.5,572.4L611,572.5L612,572.8L613,573L613.5,573.1L614.5,573.3L615.2,573.5L616,573.7L617,573.9L617.6,574L618.5,574.2L619.5,574.4L620,574.5L621,574.7L622,575L622.5,575.1L623.5,575.2L624.5,575.4L625.4,575.5L626,575.6L627,575.7L628,575.7L629,575.8L630,575.8L631,575.8L632,575.9L633,575.9L634,576L634.6,576L635.5,576.1L636.5,576.2L637.5,576.2L638.5,576.3L639.5,576.4L640.3,576.5L641,576.6L642,576.6L643,576.7L644,576.8L645,576.8L646,576.9L647,576.9L648,577L649,577L650,577L651,577L652,577L653,577L654,577L655,577L656,577L656.5,577L657.5,577.1L658.5,577.2L659.5,577.4L660,577.5L661,577.8L661.6,578L662.5,578.3L663,578.5L664,579L664.5,579.2L665.2,579.5L666,579.8L666.5,580L667.5,580.4L668,580.5L669,580.8L670,580.9L671,581L672,581L673,581L674,580.9L675,580.8L676,580.7L677,580.6L678,580.6L678.9,580.5ZM672.8,585.5L673.5,585.4L674.5,585.3L675.5,585.1L676,585L677,584.8L678,584.6L678.5,584.5L679.5,584.3L680.5,584.1L681,584L682,583.8L683,583.7L684,583.6L684.6,583.5L685.5,583.4L686.5,583.3L687.5,583.2L688.5,583.1L689.3,583L690,582.9L691,582.9L692,582.8L693,582.8L694,582.7L695,582.7L696,582.6L697,582.6L698,582.6L699,582.6L700,582.6L701,582.5L701.5,582.5L702.5,582.4L703.5,582.4L704.5,582.3L705.5,582.2L706.5,582.2L707.5,582.1L708.5,582L709,582L710,581.9L711,581.9L712,581.8L713,581.8L714,581.8L715,581.8L716,581.8L717,581.8L718,581.8L719,581.8L720,581.8L721,581.9L722,581.9L723,581.9L724,581.9L725,581.9L726,581.8L727,581.8L728,581.7L729,581.6L730,581.5L730.5,581.4L731.5,581.2L732.4,581L733,580.8L734,580.5L734.5,580.4L735.5,580.1L736,579.9L737,579.6L737.5,579.4L738.5,579.1L739,579L740,578.8L741,578.6L741.6,578.5L742.5,578.4L743.5,578.4L744.5,578.4L745.5,578.4L746.4,578.5L747,578.6L748,578.7L749,578.8L750,578.8L751,578.9L752,578.9L753,578.9L754,578.9L755,578.8L756,578.6L756.7,578.5L757.5,578.3L758.5,578.1L759,577.9L760,577.6L760.5,577.4L761.5,577L762,576.8L762.7,576.5L763.5,576.2L764,576L765,575.6L765.5,575.4L766.5,575.1L767,575L768,574.7L769,574.5L769.5,574.4L770.5,574.3L771.5,574.2L772.5,574.1L773.1,574L774,573.9L775,573.8L776,573.7L777,573.6L777.9,573.5L778.5,573.4L779.5,573.3L780.5,573.2L781.5,573L782,573L783,572.8L784,572.6L784.5,572.4L785.5,572.1L786,571.9L786.8,571.5L787.5,571.1L788,570.8L788.5,570.4L789,570L789.6,569.5L790.2,569L790.8,568.5L791.5,568L792,567.6L792.5,567.3L793.1,567L794,566.6L794.5,566.5L795.5,566.2L796.5,566L797,566L798,565.9L799,565.9L800,565.9L801,565.9L802,565.9L803,565.9L804,565.8L805,565.7L806,565.6L806.8,565.5L807.5,565.4L808.5,565.1L809,565L810,564.7L810.5,564.5L811.5,564.1L812,563.9L813,563.5L813.5,563.2L814,563L814.9,562.5L815.5,562.1L816,561.8L816.5,561.5L817.1,561L817.8,560.5L818.5,560L819,559.5L819.5,559.1L820,558.7L820.5,558.2L821,557.7L821.5,557.3L822,556.7L822.5,556.2L823,555.7L823.5,555.2L824,554.6L824.5,554L825,553.5L825.4,553L825.9,552.5L826.3,552L826.8,551.5L827.3,551L827.8,550.5L828.3,550L828.9,549.5L829.4,549L830,548.5L830.5,548L831,547.5L831.5,547L831.9,546.5L832.3,546L832.6,545.5L833,544.8L833.3,544L833.4,543L833.1,542L832.9,541.5L832.5,540.8L832,540L831.7,539.5L831.3,539L831,538.5L830.5,537.8L830,537.1L829.6,536.5L829.2,536L828.9,535.5L828.5,535L828,534.3L827.5,533.7L827,533.1L826.5,532.5L826,532L825.5,531.5L825,531.1L824.5,530.7L824,530.3L823.5,530L822.7,529.5L822,529.1L821.5,528.9L820.6,528.5L820,528.2L819.5,528L818.5,527.6L818,527.4L817,527L816.5,526.8L815.8,526.5L815,526.2L814.5,526L813.5,525.6L813,525.4L812.1,525L811.5,524.8L810.8,524.5L810,524.2L809.5,524L808.5,523.5L808,523.3L807.4,523L806.5,522.6L806,522.4L805.3,522L804.5,521.6L804,521.3L803.5,521L802.7,520.5L802,520L801.5,519.6L801,519.2L800.5,518.8L800,518.4L799.5,518L798.9,517.5L798.3,517L797.7,516.5L797.1,516L796.5,515.5L796,515.2L795.5,514.9L794.9,514.5L794,514L793.5,513.8L792.9,513.5L792,513.1L791.5,513L790.5,512.7L789.9,512.5L789,512.3L788,512.1L787.5,511.9L786.5,511.7L785.5,511.5L785,511.4L784,511.1L783.5,511L782.5,510.7L781.9,510.5L781,510.2L780.5,510L779.5,509.6L779,509.4L778.2,509L777.5,508.6L777,508.4L776.3,508L775.5,507.5L775,507.2L774.5,506.9L773.9,506.5L773.2,506L772.5,505.5L772,505.1L771.5,504.8L771,504.4L770.4,504L769.6,503.5L769,503.1L768.5,502.8L767.8,502.5L767,502.2L766.5,502L765.5,501.7L764.5,501.5L764,501.5L763,501.4L762,501.3L761,501.3L760,501.3L759,501.3L758,501.3L757,501.3L756,501.3L755,501.3L754,501.3L753,501.3L752,501.3L751,501.3L750,501.3L749,501.2L748,501.2L747,501.1L746.5,501L745.5,500.9L744.5,500.7L743.6,500.5L743,500.4L742,500.1L741.5,499.9L740.5,499.6L740,499.5L739,499.1L738.5,498.9L737.5,498.5L737,498.3L736,498L735.5,497.8L734.5,497.5L734,497.3L733,497.1L732.5,497L731.5,496.8L730.5,496.6L729.5,496.5L729,496.5L728,496.4L727,496.4L726,496.4L725,496.5L724.1,496.5L724,496.5L723,496.4L722,496.4L721,496.5L720,496.5L719,496.5L718,496.4L717,496.4L716,496.3L715,496.2L714,496.1L713.5,496L712.5,495.8L711.5,495.6L710.8,495.5L710,495.3L709,495.1L708.5,495L707.5,494.7L706.5,494.5L706,494.4L705,494.1L704.5,494L703.5,493.8L702.5,493.6L702,493.5L701,493.3L700,493.1L699,493L698.5,493L697.5,492.9L696.5,492.8L695.5,492.7L694.5,492.8L693.5,492.8L692.5,492.8L691.5,492.8L690.5,492.8L689.5,492.9L688.7,493L688,493.1L687,493.3L686,493.4L685.5,493.6L684.5,493.8L683.7,494L683,494.2L682,494.5L681.5,494.6L680.5,494.9L680,495L679,495.3L678,495.5L677.5,495.6L676.5,495.8L675.5,496L675,496L674,496.1L673,496.2L672,496.1L671,496.1L670.5,496L669.5,495.8L668.5,495.6L667.9,495.5L667,495.3L666,495L665.5,494.9L664.5,494.7L663.5,494.5L663,494.5L662,494.4L661,494.5L660.5,494.5L659.5,494.7L658.6,495L658,495.2L657.4,495.5L656.5,496L656,496.3L655.5,496.7L655,497L654.4,497.5L653.7,498L653,498.5L652.5,498.8L652,499.1L651.3,499.5L650.5,499.9L650,500.1L649,500.4L648.5,500.5L647.5,500.7L646.5,500.8L645.5,500.8L644.5,500.8L643.5,500.7L642.5,500.6L641.5,500.5L641,500.5L640,500.4L639,500.4L638,500.4L637,500.5L636.5,500.5L635.5,500.7L634.5,501L634,501.1L633,501.5L632.5,501.7L631.9,502L631,502.4L630.5,502.6L629.7,503L629,503.3L628.5,503.5L627.5,503.9L627,504.1L626,504.3L625.3,504.5L624.5,504.7L623.5,504.8L622.5,504.9L621.7,505L621,505.1L620,505.1L619,505.2L618,505.3L617,505.4L616.1,505.5L615.5,505.6L614.5,505.8L613.5,506L613,506.1L612,506.3L611,506.5L610.5,506.6L609.5,506.7L608.5,506.8L607.5,506.9L606.5,507L605.5,507L604.5,506.9L603.5,506.8L602.5,506.7L601.5,506.6L600.5,506.5L600,506.5L599,506.4L598,506.4L597,506.4L596,506.4L595.2,506.5L594.5,506.6L593.5,506.7L592.5,506.8L591.5,507L591,507.1L590,507.3L589,507.5L588.5,507.6L587.5,507.9L587,508L586,508.3L585.4,508.5L584.5,508.8L584,509L583,509.4L582.5,509.6L581.5,510L581,510.2L580.4,510.5L579.5,510.9L579,511.1L578.3,511.5L577.5,511.9L577,512.2L576.4,512.5L575.5,513L575,513.3L574.5,513.6L573.8,514L573,514.4L572.5,514.7L571.9,515L571,515.4L570.5,515.6L569.5,516L569,516.2L568,516.4L567.5,516.5L566.5,516.7L565.5,516.9L564.8,517L564,517.1L563,517.3L562.3,517.5L561.5,517.8L560.9,518L560,518.4L559.5,518.7L559,519L558.4,519.5L557.8,520L557.2,520.5L556.6,521L556.1,521.5L555.6,522L555.1,522.5L554.6,523L554.1,523.5L553.6,524L553.1,524.5L552.6,525L552.1,525.5L551.5,526L551,526.5L550.5,526.9L550,527.4L549.5,527.8L549,528.3L548.5,528.7L548,529.1L547.5,529.5L546.9,530L546.2,530.5L545.5,531L545,531.2L544.5,531.5L543.5,532L543,532.2L542,532.5L541.5,532.6L540.5,532.8L539.5,532.9L538.5,533L537.5,532.9L536.5,532.9L535.5,532.8L534.5,532.7L533.5,532.6L532.5,532.6L531.5,532.6L530.5,532.7L529.5,532.9L528.9,533L528,533.3L527.5,533.5L526.6,534L526,534.4L525.5,534.8L525,535.3L524.5,535.9L524,536.5L523.7,537L523.4,537.5L523,538.4L522.8,539L522.5,539.8L522.3,540.5L522.1,541.5L522,542.5L522.2,543.5L522.5,544L523,544.7L523.5,545.2L524,545.6L524.6,546L525.5,546.5L526,546.7L526.6,547L527.5,547.4L528,547.6L529,547.9L529.5,548.1L530.5,548.5L531,548.6L531.9,549L532.5,549.2L533.1,549.5L534,549.9L534.5,550.2L535,550.5L535.8,551L536.4,551.5L537,552L537.5,552.4L538,552.9L538.5,553.3L539,553.8L539.5,554.3L540,554.8L540.5,555.3L541,555.7L541.5,556.1L542,556.5L542.6,557L543.3,557.5L544,557.9L544.5,558.2L545,558.5L546,559L546.5,559.1L547.5,559.4L548,559.6L549,559.7L550,559.8L551,559.7L552,559.6L552.7,559.5L553.5,559.4L554.5,559.2L555.4,559L556,558.9L557,558.8L558,558.8L559,558.9L559.7,559L560.5,559.2L561.5,559.5L562,559.7L562.7,560L563.5,560.4L564,560.7L564.5,561L565.3,561.5L566,562L566.5,562.3L567,562.7L567.5,563L568.1,563.5L568.8,564L569.5,564.5L570,564.8L570.5,565.2L571,565.5L571.9,566L572.5,566.3L573,566.6L573.8,567L574.5,567.4L575,567.6L575.9,568L576.5,568.2L577.1,568.5L578,568.9L578.5,569L579.5,569.4L580,569.6L581,569.9L581.5,570L582.5,570.3L583.5,570.5L584,570.6L585,570.7L586,570.8L587,570.9L588,570.9L589,571L589.5,571L590.5,571.1L591.5,571.2L592.5,571.3L593.5,571.5L594,571.6L595,571.8L595.8,572L596.5,572.2L597.5,572.4L598,572.6L599,572.8L599.7,573L600.5,573.2L601.5,573.5L602,573.6L603,573.8L603.6,574L604.5,574.2L605.5,574.5L606,574.6L607,574.8L607.7,575L608.5,575.2L609.5,575.4L610,575.5L611,575.7L612,575.9L612.5,576L613.5,576.2L614.5,576.4L615,576.5L616,576.7L617,576.9L617.5,577.1L618.5,577.3L619.2,577.5L620,577.7L621,578L621.5,578.1L622.5,578.4L623,578.5L624,578.8L625,579L625.5,579.1L626.5,579.3L627.5,579.4L628.4,579.5L629,579.6L630,579.6L631,579.7L632,579.7L633,579.7L634,579.7L635,579.7L636,579.6L637,579.6L638,579.6L639,579.6L640,579.7L641,579.7L642,579.7L643,579.7L644,579.7L645,579.8L646,579.8L647,579.8L648,579.8L649,579.8L650,579.8L651,579.8L652,579.8L653,579.9L654,579.9L655,580L655.5,580L656.5,580.2L657.5,580.4L658,580.5L659,580.9L659.5,581.1L660.4,581.5L661,581.8L661.5,582.1L662.1,582.5L662.9,583L663.5,583.3L664,583.6L664.7,584L665.5,584.4L666,584.6L667,585L667.5,585.1L668.5,585.3L669.5,585.5L670,585.5L671,585.6L672,585.6L672.8,585.5ZM674.8,589L675.5,588.9L676.5,588.7L677.2,588.5L678,588.3L678.9,588L679.5,587.8L680.4,587.5L681,587.3L682,587L682.5,586.9L683.5,586.6L684.1,586.5L685,586.3L686,586.1L686.8,586L687.5,585.9L688.5,585.8L689.5,585.7L690.5,585.6L691.5,585.6L692.5,585.6L693.5,585.6L694.5,585.6L695.5,585.6L696.5,585.7L697.5,585.7L698.5,585.8L699.5,585.8L700.5,585.8L701.5,585.8L702.5,585.7L703.5,585.7L704.5,585.6L705,585.5L706,585.4L707,585.2L708,585.1L708.5,585L709.5,584.9L710.5,584.7L711.5,584.6L712.5,584.5L713.3,584.5L714,584.5L715,584.5L716,584.5L716.5,584.5L717.5,584.6L718.5,584.7L719.5,584.7L720.5,584.9L721.5,585L722,585L723,585.1L724,585.2L725,585.3L726,585.3L727,585.3L728,585.3L729,585.2L730,585.1L730.7,585L731.5,584.8L732.5,584.6L733,584.5L734,584.1L734.5,584L735.5,583.6L736,583.4L737,583L737.5,582.8L738.4,582.5L739,582.3L740,582L740.5,581.9L741.5,581.7L742.5,581.6L743.5,581.5L744.5,581.5L745.5,581.6L746.5,581.6L747.5,581.7L748.5,581.8L749.5,581.9L750.5,581.9L751.5,581.9L752.5,581.9L753.5,581.8L754.5,581.7L755.5,581.6L756.3,581.5L757,581.4L758,581.2L758.8,581L759.5,580.8L760.5,580.6L761,580.4L762,580.1L762.5,579.9L763.5,579.6L764,579.4L765,579.1L765.5,579L766.5,578.7L767.2,578.5L768,578.3L769,578.2L770,578L770.5,578L771.5,577.9L772.5,577.8L773.5,577.7L774.5,577.6L775.2,577.5L776,577.4L777,577.3L778,577.2L779,577.1L779.7,577L780.5,576.9L781.5,576.9L782.5,576.8L783.5,576.7L784.5,576.7L785.5,576.6L786,576.5L787,576.3L788,576.1L788.5,575.9L789.5,575.5L790,575.3L790.5,575L791.2,574.5L791.9,574L792.5,573.5L793,573.1L793.5,572.6L794,572.2L794.5,571.8L795,571.4L795.5,571L796.4,570.5L797,570.2L797.6,570L798.5,569.7L799.5,569.5L800,569.4L801,569.3L802,569.2L803,569.1L803.5,569L804.5,568.8L805.5,568.7L806.4,568.5L807,568.4L808,568.1L808.5,568L809.5,567.7L810,567.5L811,567.2L811.5,567L812.5,566.6L813,566.4L814,566L814.5,565.8L815.2,565.5L816,565.1L816.5,564.9L817.2,564.5L818,564.1L818.5,563.8L819.1,563.5L819.9,563L820.5,562.7L821,562.4L821.6,562L822.4,561.5L823,561.1L823.5,560.8L824,560.4L824.7,560L825.4,559.5L826,559.1L826.5,558.8L827,558.5L827.7,558L828.5,557.5L829,557.2L829.5,556.9L830.1,556.5L830.9,556L831.5,555.7L832,555.4L832.7,555L833.5,554.5L834,554.3L834.5,554L835.3,553.5L836,553L836.5,552.7L837,552.3L837.5,551.9L838,551.4L838.5,550.9L839,550.4L839.5,549.8L840,549.1L840.4,548.5L840.8,548L841.1,547.5L841.5,546.7L841.8,546L842,545.5L842.3,544.5L842.5,543.7L842.5,543L842.4,542.5L842,541.5L841.7,541L841.5,540.5L841,539.8L840.5,539.1L840,538.5L839.6,538L839.1,537.5L838.6,537L838,536.5L837.5,536L837,535.6L836.5,535.2L836,534.7L835.5,534.3L835,533.8L834.5,533.4L834,532.9L833.5,532.4L833,531.9L832.5,531.4L832,530.9L831.5,530.3L831,529.8L830.5,529.3L830,528.9L829.5,528.4L829,528L828.4,527.5L827.8,527L827,526.5L826.5,526.2L826,525.9L825.2,525.5L824.5,525.2L824,525L823,524.6L822.5,524.5L821.5,524.2L820.8,524L820,523.8L819,523.5L818.5,523.4L817.5,523.2L816.9,523L816,522.7L815.2,522.5L814.5,522.3L813.7,522L813,521.8L812.3,521.5L811.5,521.2L810.9,521L810,520.6L809.5,520.3L808.9,520L808.1,519.5L807.5,519.1L807,518.8L806.5,518.4L805.9,518L805.3,517.5L804.7,517L804.1,516.5L803.6,516L803,515.5L802.5,515L802,514.6L801.5,514.2L801,513.8L800.5,513.4L800,513L799.4,512.5L798.6,512L798,511.6L797.5,511.3L796.9,511L796,510.5L795.5,510.3L794.8,510L794,509.7L793.4,509.5L792.5,509.2L791.7,509L791,508.8L790,508.6L789.4,508.5L788.5,508.3L787.5,508.2L786.5,508L786,507.9L785,507.7L784.2,507.5L783.5,507.3L782.5,507L782,506.8L781.3,506.5L780.5,506.1L780,505.9L779.3,505.5L778.6,505L778,504.6L777.5,504.2L777,503.7L776.5,503.2L776,502.7L775.5,502.2L775,501.7L774.5,501.1L774,500.6L773.5,500.1L773,499.7L772.5,499.3L772,498.9L771.4,498.5L770.6,498L770,497.7L769.4,497.5L768.5,497.2L767.5,497L767,496.9L766,496.9L765,496.9L764,497L763.5,497L762.5,497.2L761.5,497.3L760.6,497.5L760,497.6L759,497.8L758,497.9L757.5,498L756.5,498.1L755.5,498.2L754.5,498.3L753.5,498.3L752.5,498.3L751.5,498.3L750.5,498.2L749.5,498.1L748.5,498L748,498L747,497.8L746,497.6L745.5,497.4L744.5,497.1L744,496.9L743,496.5L742.5,496.3L741.9,496L741,495.6L740.5,495.3L740,495L739,494.5L738.5,494.2L738,494L737,493.6L736.5,493.4L735.5,493.1L735,492.9L734,492.7L733,492.6L732,492.6L731,492.6L730,492.6L729,492.7L728,492.8L727,492.9L726.3,493L725.5,493.1L724.5,493.2L723.5,493.2L722.5,493.2L721.5,493.3L720.5,493.3L719.5,493.3L718.5,493.2L717.5,493.1L716.9,493L716,492.8L715,492.6L714.5,492.5L713.5,492.1L713,492L712,491.6L711.5,491.4L710.5,491.1L710,490.9L709.1,490.5L708.5,490.3L707.7,490L707,489.8L706,489.5L705.5,489.4L704.5,489.2L703.5,489L703,489L702,488.9L701,488.8L700,488.7L699,488.7L698,488.6L697,488.6L696,488.6L695,488.6L694,488.5L693.5,488.5L692.5,488.4L691.5,488.4L690.5,488.4L689.5,488.5L689,488.5L688,488.7L687,488.8L686.3,489L685.5,489.2L684.6,489.5L684,489.7L683.2,490L682.5,490.3L681.9,490.5L681,490.8L680.4,491L679.5,491.3L678.8,491.5L678,491.7L677,491.9L676.5,492L675.5,492.1L674.5,492.2L673.5,492.2L672.5,492.1L671.9,492L671,491.8L670,491.6L669.5,491.4L668.5,491.1L668,490.9L667,490.6L666.5,490.5L665.5,490.3L664.5,490.1L663.5,490L662.5,490L661.5,490.1L660.5,490.2L659.5,490.4L658.9,490.5L658,490.8L657.4,491L656.5,491.4L656,491.6L655.3,492L654.5,492.5L654,492.8L653.5,493.2L653,493.5L652.3,494L651.7,494.5L651,495L650.5,495.3L650,495.6L649,496L648.5,496.2L647.5,496.4L646.5,496.5L645.5,496.4L644.5,496.2L643.7,496L643,495.8L642.2,495.5L641.5,495.2L640.9,495L640,494.7L639.4,494.5L638.5,494.3L637.5,494.1L636.5,494L635.5,494L634.5,494.2L633.5,494.4L633,494.5L632,494.9L631.5,495.2L631,495.5L630.2,496L629.5,496.5L629,496.9L628.5,497.3L628,497.7L627.5,498.1L627,498.5L626.3,499L625.6,499.5L625,499.8L624.5,500.1L623.5,500.5L623,500.7L622,500.9L621.5,501L620.5,501.2L619.5,501.4L618.5,501.5L618,501.6L617,501.7L616,501.9L615.5,502L614.5,502.3L613.6,502.5L613,502.6L612,502.9L611.5,503L610.5,503.2L609.5,503.4L608.5,503.5L608,503.5L607,503.5L606.5,503.5L605.5,503.4L604.5,503.3L603.5,503.1L602.6,503L602,502.9L601,502.8L600,502.7L599,502.7L598,502.7L597,502.7L596,502.7L595,502.8L594,502.9L593.2,503L592.5,503.1L591.5,503.2L590.5,503.3L589.5,503.4L588.6,503.5L588,503.6L587,503.7L586,503.8L585,504L584.5,504.1L583.5,504.3L582.7,504.5L582,504.7L581,505L580.5,505.1L579.5,505.5L579,505.7L578.2,506L577.5,506.3L577,506.6L576.1,507L575.5,507.3L575,507.6L574.2,508L573.5,508.4L573,508.7L572.5,509L571.6,509.5L571,509.8L570.5,510.1L569.5,510.5L569,510.7L568,511L567.5,511.1L566.5,511.3L565.5,511.4L564.5,511.5L564,511.5L563,511.7L562,511.9L561.5,512L560.5,512.4L560,512.6L559.1,513L558.5,513.3L558,513.6L557.5,514L556.8,514.5L556.2,515L555.6,515.5L555,516L554.5,516.5L554,517L553.5,517.5L553,518L552.5,518.4L552,518.9L551.5,519.4L551,519.8L550.5,520.2L550,520.6L549.4,521L548.6,521.5L548,521.9L547.5,522.2L546.9,522.5L546,522.9L545.5,523.2L544.8,523.5L544,523.9L543.5,524.1L542.6,524.5L542,524.8L541.4,525L540.5,525.3L540,525.5L539,525.8L538.1,526L537.5,526.1L536.5,526.3L535.5,526.4L534.8,526.5L534,526.6L533,526.7L532,526.8L531,526.9L530.5,527L529.5,527.2L528.5,527.5L528,527.6L527,527.9L526.5,528.1L525.6,528.5L525,528.8L524.5,529L523.5,529.5L523,529.8L522.5,530.1L521.9,530.5L521.1,531L520.5,531.5L520,531.9L519.5,532.3L519,532.7L518.5,533.1L518,533.5L517.5,534L517,534.5L516.4,535L515.9,535.5L515.4,536L514.9,536.5L514.3,537L513.8,537.5L513.2,538L512.7,538.5L512.1,539L511.6,539.5L511,540L510.5,540.5L510,541L509.5,541.5L509.1,542L508.8,542.5L508.5,543L508.3,544L508.4,545L508.5,545.5L509,546.5L509.3,547L509.7,547.5L510.3,548L511,548.5L511.5,548.8L512,549.1L513,549.5L513.5,549.7L514.2,550L515,550.3L515.7,550.5L516.5,550.7L517.4,551L518,551.2L519,551.4L519.5,551.5L520.5,551.7L521.5,551.9L522,552L523,552.2L524,552.4L524.8,552.5L525.5,552.6L526.5,552.9L527.1,553L528,553.3L528.6,553.5L529.5,553.8L530,554.1L530.8,554.5L531.5,554.9L532,555.3L532.5,555.6L533,556L533.6,556.5L534.1,557L534.7,557.5L535.2,558L535.7,558.5L536.3,559L536.8,559.5L537.4,560L538,560.5L538.5,560.8L539,561.2L539.5,561.5L540.4,562L541,562.3L541.5,562.6L542.4,563L543,563.3L543.6,563.5L544.5,563.8L545,564L546,564.3L546.8,564.5L547.5,564.7L548.5,564.9L549.3,565L550,565.1L551,565.2L552,565.3L553,565.4L554,565.4L555,565.5L555.5,565.5L556.5,565.7L557.5,565.9L558,566L559,566.3L559.5,566.5L560.5,566.9L561,567.1L562,567.5L562.5,567.7L563.3,568L564,568.2L564.8,568.5L565.5,568.7L566.4,569L567,569.2L568,569.4L568.5,569.6L569.5,569.8L570.2,570L571,570.2L572,570.5L572.5,570.7L573.5,571L574,571.1L575,571.5L575.5,571.7L576.4,572L577,572.2L577.7,572.5L578.5,572.8L579,573L580,573.4L580.5,573.5L581.5,573.8L582,574L583,574.2L584,574.5L584.5,574.5L585.5,574.7L586.5,574.8L587.5,574.9L588.5,574.9L589.4,575L590,575L591,575.1L592,575.3L593,575.4L593.5,575.5L594.5,575.7L595.5,576L596,576.1L597,576.4L597.6,576.5L598.5,576.7L599.5,577L600,577.1L601,577.2L602,577.4L602.7,577.5L603.5,577.6L604.5,577.7L605.5,577.8L606.5,577.9L607,578L608,578.1L609,578.2L610,578.4L611,578.5L611.5,578.6L612.5,578.7L613.5,578.9L614.1,579L615,579.2L616,579.4L616.5,579.5L617.5,579.8L618.2,580L619,580.3L619.7,580.5L620.5,580.8L621.2,581L622,581.3L622.7,581.5L623.5,581.8L624.2,582L625,582.2L626,582.5L626.5,582.6L627.5,582.9L628.2,583L629,583.1L630,583.2L631,583.3L632,583.3L633,583.3L634,583.2L635,583.1L636,583L636.5,583L637.5,582.8L638.5,582.7L639.5,582.6L640.5,582.5L641,582.5L642,582.4L643,582.4L644,582.4L645,582.3L646,582.3L647,582.3L648,582.3L649,582.3L650,582.4L651,582.4L652,582.4L653,582.5L653.5,582.6L654.5,582.7L655.5,582.9L656,583L657,583.3L657.5,583.5L658.5,584L659,584.3L659.5,584.6L660.2,585L661,585.5L661.5,585.8L662,586.1L662.7,586.5L663.5,586.9L664,587.2L664.6,587.5L665.5,587.9L666,588.1L667,588.4L667.5,588.5L668.5,588.8L669.5,588.9L670,589L671,589.1L672,589.2L673,589.2L674,589.1L674.8,589ZM675.7,592L676.5,591.9L677.5,591.6L678,591.5L679,591.1L679.5,590.9L680.5,590.5L681,590.3L681.7,590L682.5,589.7L683,589.5L684,589.1L684.5,588.9L685.5,588.6L686.1,588.5L687,588.3L688,588.1L689,588L689.5,588L690.5,588L691.5,588L692.2,588L693,588.1L694,588.2L695,588.3L696,588.3L697,588.4L697.5,588.5L698.5,588.6L699.5,588.7L700.5,588.8L701.5,588.8L702.5,588.8L703.5,588.7L704.5,588.6L705.2,588.5L706,588.4L707,588.2L707.8,588L708.5,587.8L709.5,587.6L710.2,587.5L711,587.3L712,587.2L713,587.1L714,587L715,587L716,587L717,587.1L718,587.2L719,587.3L720,587.5L720.5,587.6L721.5,587.7L722.5,587.9L723.4,588L724,588.1L725,588.2L726,588.3L727,588.4L728,588.4L729,588.4L730,588.4L731,588.3L732,588.1L732.7,588L733.5,587.8L734.5,587.5L735,587.4L736,587.1L736.5,586.9L737.5,586.6L738,586.5L739,586.2L740,586L740.5,585.9L741.5,585.8L742.5,585.7L743.5,585.7L744.5,585.7L745.5,585.7L746.5,585.6L747.5,585.6L748.5,585.5L749,585.5L750,585.4L751,585.3L752,585.1L753,585L753.5,584.9L754.5,584.8L755.5,584.7L756.5,584.5L757,584.4L758,584.3L759,584.1L759.5,584L760.5,583.8L761.5,583.6L762,583.5L763,583.3L764,583.1L764.5,583L765.5,582.8L766.5,582.6L767.5,582.5L768,582.5L769,582.4L770,582.3L771,582.3L772,582.2L773,582.2L774,582.1L774.5,582L775.5,581.9L776.5,581.7L777.3,581.5L778,581.4L779,581.2L779.9,581L780.5,580.9L781.5,580.8L782.5,580.7L783.5,580.6L784.5,580.5L785.1,580.5L786,580.4L787,580.3L788,580.2L788.8,580L789.5,579.8L790.5,579.5L791,579.3L791.9,579L792.5,578.7L793,578.5L794,578L794.5,577.7L795,577.4L795.7,577L796.5,576.5L797,576.1L797.5,575.8L798,575.5L798.8,575L799.5,574.6L800,574.4L800.7,574L801.5,573.7L802,573.5L803,573.1L803.5,572.9L804.5,572.6L805,572.4L806,572L806.5,571.9L807.5,571.5L808,571.3L808.8,571L809.5,570.8L810.2,570.5L811,570.2L811.5,570L812.5,569.7L813,569.5L814,569.1L814.5,569L815.5,568.6L816,568.5L817,568.2L817.5,568L818.5,567.7L819.1,567.5L820,567.2L820.7,567L821.5,566.8L822.3,566.5L823,566.3L823.9,566L824.5,565.8L825.5,565.5L826,565.3L827,565L827.5,564.9L828.5,564.6L829,564.5L830,564.2L831,564L831.5,563.9L832.5,563.7L833.5,563.6L834,563.5L835,563.4L836,563.3L837,563.1L837.9,563L838.5,562.9L839.5,562.7L840.1,562.5L841,562.2L841.5,562L842.5,561.5L843,561.3L843.5,561L844.3,560.5L845,560L845.5,559.7L846,559.3L846.5,559L847.1,558.5L847.7,558L848.3,557.5L848.8,557L849.3,556.5L849.7,556L850.1,555.5L850.5,555L851,554.2L851.4,553.5L851.6,553L852,552.1L852.3,551.5L852.5,550.8L852.8,550L853,549.4L853.3,548.5L853.5,547.7L853.7,547L853.9,546L854,545.5L854.1,544.5L854.1,543.5L854,543L853.5,542.2L853,541.6L852.5,541L852.1,540.5L851.7,540L851.2,539.5L850.8,539L850.3,538.5L849.9,538L849.4,537.5L848.9,537L848.4,536.5L847.9,536L847.3,535.5L846.8,535L846.2,534.5L845.5,534L845,533.6L844.5,533.3L844,532.9L843.3,532.5L842.5,532L842,531.7L841.5,531.4L840.8,531L840,530.6L839.5,530.3L839,530L838.2,529.5L837.5,529.1L837,528.7L836.5,528.4L836,528L835.3,527.5L834.6,527L834,526.5L833.5,526.1L833,525.7L832.5,525.3L832,524.9L831.4,524.5L830.7,524L830,523.5L829.5,523.2L829,522.9L828.1,522.5L827.5,522.2L827,522L826,521.6L825.5,521.4L824.5,521.1L824,521L823,520.8L822,520.5L821.5,520.5L820.5,520.3L819.5,520.1L818.9,520L818,519.8L817,519.6L816.5,519.5L815.5,519.2L814.8,519L814,518.7L813.4,518.5L812.5,518.1L812,517.9L811.2,517.5L810.5,517.2L810,516.9L809.5,516.5L808.9,516L808.4,515.5L807.9,515L807.3,514.5L806.8,514L806.3,513.5L805.7,513L805.2,512.5L804.6,512L804,511.6L803.5,511.2L803,510.9L802.5,510.5L801.6,510L801,509.6L800.5,509.4L799.8,509L799,508.6L798.5,508.4L797.7,508L797,507.7L796.5,507.5L795.5,507.1L795,506.9L794,506.6L793.5,506.4L792.5,506.1L792,505.9L791,505.7L790.4,505.5L789.5,505.3L788.5,505L788,504.9L787,504.6L786.5,504.4L785.5,504.1L785,503.9L784,503.5L783.5,503.3L783,503L782.2,502.5L781.5,502L781,501.6L780.5,501.1L780,500.6L779.5,500.1L779,499.6L778.5,499L778,498.5L777.5,498L777,497.5L776.5,497L776,496.6L775.5,496.2L775,495.9L774.4,495.5L773.6,495L773,494.7L772.5,494.4L771.5,494L771,493.8L770,493.5L769.5,493.3L768.5,493.1L767.9,493L767,492.9L766,492.8L765,492.8L764,492.9L763.5,493L762.5,493.2L761.5,493.5L761,493.7L760,494L759.5,494.2L758.5,494.5L758,494.6L757,494.9L756.5,495L755.5,495.2L754.5,495.3L753.5,495.4L752.5,495.4L751.5,495.4L750.5,495.3L749.5,495.1L748.7,495L748,494.8L747,494.5L746.5,494.3L745.8,494L745,493.6L744.5,493.3L744,493L743.1,492.5L742.5,492.1L742,491.8L741.5,491.4L740.8,491L740,490.5L739.5,490.3L739,490L738,489.6L737.5,489.4L736.5,489.1L735.8,489L735,488.9L734,488.8L733,488.9L732,489L731.5,489.1L730.5,489.3L729.5,489.5L729,489.6L728,489.9L727.5,490L726.5,490.3L725.5,490.5L725,490.6L724,490.8L723,490.6L722,490.6L721,490.6L720,490.5L719.5,490.5L718.5,490.2L717.8,490L717,489.7L716.5,489.4L715.8,489L715.2,488.5L714.6,488L714.1,487.5L713.7,487L713.3,486.5L712.9,486L712.4,485.5L711.9,485L711.2,484.5L710.5,484.2L710,484L709,483.8L708,483.7L707,483.8L706,483.9L705.3,484L704.5,484.1L703.5,484.3L702.5,484.5L702,484.6L701,484.7L700,484.8L699,484.9L698,485L697.5,485L696.5,485L696,485L695,485L694,484.9L693,484.9L692,484.8L691,484.8L690,484.8L689,484.9L688,485L687.5,485.1L686.5,485.3L685.8,485.5L685,485.8L684.4,486L683.5,486.3L683,486.6L682,487L681.5,487.2L680.7,487.5L680,487.7L679.2,488L678.5,488.2L677.5,488.4L676.9,488.5L676,488.6L675,488.6L674.4,488.5L673.5,488.4L672.5,488.1L672,488L671,487.6L670.5,487.5L669.5,487.1L669,487L668,486.7L667,486.5L666.5,486.4L665.5,486.4L664.5,486.3L663.5,486.4L662.5,486.5L662,486.6L661,486.7L660,486.9L659.5,487L658.5,487.3L657.7,487.5L657,487.7L656.1,488L655.5,488.2L654.8,488.5L654,488.9L653.5,489.1L652.7,489.5L652,489.8L651.5,490.1L650.7,490.5L650,490.8L649.5,491L648.5,491.3L647.5,491.4L646.5,491.3L645.7,491L645,490.7L644.5,490.4L643.8,490L643,489.5L642.5,489.2L642,489L641,488.5L640.5,488.4L639.5,488.1L638.8,488L638,487.9L637,488L636.5,488L635.5,488.1L634.5,488.3L633.8,488.5L633,488.7L632.2,489L631.5,489.3L630.9,489.5L630,489.9L629.5,490.2L629,490.5L628.2,491L627.5,491.5L627,491.9L626.5,492.3L626,492.7L625.5,493.1L625,493.6L624.5,494L623.9,494.5L623.3,495L622.5,495.5L622,495.8L621.5,496.1L620.6,496.5L620,496.7L619.1,497L618.5,497.1L617.5,497.4L616.8,497.5L616,497.6L615,497.8L614,498L613.5,498.1L612.5,498.3L611.5,498.5L611,498.5L610,498.6L609,498.7L608,498.6L607.1,498.5L606.5,498.4L605.5,498.2L604.5,498L604,497.9L603,497.9L602,497.9L601,498L600.5,498.1L599.5,498.2L598.5,498.5L598,498.6L597,498.8L596,499L595.5,499.1L594.5,499.3L593.5,499.5L593,499.5L592,499.7L591,499.8L590,499.9L589,500L588.5,500L587.5,500.1L586.5,500.2L585.5,500.2L584.5,500.3L583.5,500.4L582.9,500.5L582,500.6L581,500.8L580.3,501L579.5,501.2L578.5,501.5L578,501.6L577,501.9L576.5,502.1L575.5,502.4L575,502.5L574,502.8L573,503L572.5,503.1L571.5,503.2L570.5,503.2L569.5,503.2L568.5,503.1L567.7,503L567,502.9L566,502.9L565,502.9L564,503L563.5,503.1L562.5,503.4L562,503.6L561.4,504L560.7,504.5L560.1,505L559.5,505.5L559,506L558.5,506.5L558,507L557.5,507.5L557,508L556.5,508.5L556,508.9L555.5,509.4L555,509.9L554.5,510.3L554,510.8L553.5,511.2L553,511.7L552.5,512.1L552,512.5L551.5,513L550.9,513.5L550.3,514L549.6,514.5L549,515L548.5,515.3L548,515.6L547.4,516L546.5,516.5L546,516.7L545.4,517L544.5,517.4L544,517.7L543.3,518L542.5,518.4L542,518.7L541.4,519L540.5,519.5L540,519.7L539.5,520L538.5,520.5L538,520.7L537.3,521L536.5,521.3L535.8,521.5L535,521.7L534,522L533.5,522.1L532.5,522.3L531.8,522.5L531,522.7L530,522.9L529.5,523L528.5,523.3L527.7,523.5L527,523.7L526.1,524L525.5,524.2L524.7,524.5L524,524.8L523.4,525L522.5,525.4L522,525.6L521.1,526L520.5,526.2L519.9,526.5L519,526.9L518.5,527.1L517.5,527.5L517,527.7L516,528L515.5,528.1L514.5,528.3L513.5,528.5L512.5,528.5L511.5,528.4L510.5,528.3L509.5,528.2L508.5,528L508,528L507,527.9L506,528L505.5,528L504.5,528.3L504,528.5L503.1,529L502.5,529.5L502,530L501.7,530.5L501.3,531L501,531.5L500.5,532.5L500.3,533L500,533.6L499.5,534.5L499.3,535L499,535.5L498.5,536.3L498,537L497.6,537.5L497.2,538L496.7,538.5L496.2,539L495.6,539.5L495,540L494.5,540.3L494,540.7L493.5,541L492.7,541.5L492,541.9L491.5,542.2L491,542.5L490.3,543L490,543.5L489.8,544.5L490,545.1L490.5,545.9L491,546.5L491.5,546.9L492,547.3L492.5,547.7L493,548L493.8,548.5L494.5,548.9L495,549.2L495.6,549.5L496.5,550L497,550.3L497.5,550.6L498.1,551L498.8,551.5L499.5,552L500,552.4L500.5,552.8L501,553.1L501.5,553.5L502.1,554L502.8,554.5L503.5,555L504,555.3L504.5,555.6L505.1,556L506,556.5L506.5,556.7L507.2,557L508,557.3L508.9,557.5L509.5,557.6L510.5,557.7L511.5,557.8L512.5,557.8L513.5,557.8L514.5,557.9L515.5,557.9L516.5,558L517,558L518,558.1L519,558.2L520,558.4L521,558.5L521.5,558.6L522.5,558.7L523.5,558.8L524.5,559L525,559.1L526,559.3L526.7,559.5L527.5,559.8L528,560.1L528.8,560.5L529.5,560.9L530,561.3L530.5,561.6L531,562L531.7,562.5L532.4,563L533,563.4L533.5,563.7L534,564L535,564.5L535.5,564.8L536,565L537,565.4L537.5,565.6L538.5,566L539,566.1L540,566.5L540.5,566.6L541.5,566.9L542,567.1L543,567.4L543.5,567.5L544.5,567.8L545.3,568L546,568.2L547,568.5L547.5,568.7L548.5,569L549,569.1L550,569.5L550.5,569.7L551.4,570L552,570.2L552.6,570.5L553.5,570.9L554,571.1L554.9,571.5L555.5,571.8L556,572L557,572.4L557.5,572.6L558.5,572.9L559,573.1L560,573.4L560.6,573.5L561.5,573.7L562.5,573.8L563.5,573.9L564.5,574L565,574L566,574L567,574.1L568,574.1L569,574.1L570,574.1L571,574.2L572,574.3L573,574.5L573.5,574.6L574.5,574.8L575.1,575L576,575.3L576.8,575.5L577.5,575.7L578.2,576L579,576.3L579.8,576.5L580.5,576.7L581.4,577L582,577.2L583,577.4L583.5,577.5L584.5,577.7L585.5,577.9L586.5,578L587,578.1L588,578.2L589,578.3L590,578.5L590.5,578.6L591.5,578.8L592.5,579L593,579.1L594,579.4L594.5,579.5L595.5,579.8L596,580L597,580.3L597.8,580.5L598.5,580.7L599.5,580.9L600.2,581L601,581.1L602,581.2L603,581.2L604,581.3L605,581.3L606,581.2L607,581.2L608,581.2L609,581.2L610,581.3L611,581.3L612,581.4L613,581.5L613.5,581.6L614.5,581.7L615.5,582L616,582.1L617,582.4L617.5,582.5L618.5,582.8L619,583L620,583.4L620.5,583.6L621.5,584L622,584.2L622.8,584.5L623.5,584.8L624.1,585L625,585.3L625.5,585.5L626.5,585.8L627.2,586L628,586.2L629,586.4L629.5,586.5L630.5,586.6L631.5,586.7L632.5,586.7L633.5,586.7L634.5,586.6L635.1,586.5L636,586.3L637,586.1L637.5,586L638.5,585.8L639.5,585.6L640,585.5L641,585.3L642,585.1L643,585L643.5,585L644.5,584.9L645.5,584.8L646.5,584.8L647.5,584.8L648.5,584.8L649.5,584.8L650.5,584.8L651.5,584.9L652.5,585L653,585L654,585.2L655,585.5L655.5,585.6L656.5,586L657,586.2L657.6,586.5L658.5,587L659,587.3L659.5,587.6L660.3,588L661,588.4L661.5,588.7L662,589L663,589.5L663.5,589.7L664.1,590L665,590.3L665.5,590.5L666.5,590.9L667,591L668,591.3L668.8,591.5L669.5,591.7L670.5,591.8L671.5,592L672,592L673,592.1L674,592.1L675,592.1L675.7,592ZM675.6,594.5L676.5,594.4L677.5,594.2L678.1,594L679,593.7L679.5,593.5L680.5,593.1L681,592.8L681.7,592.5L682.5,592.1L683,591.8L683.7,591.5L684.5,591.2L685,591L686,590.6L686.5,590.5L687.5,590.2L688.5,590.1L689.5,590L690,590L690.9,590L691.5,590L692.5,590.1L693.5,590.3L694.5,590.5L695,590.6L696,590.6L697,590.8L697.7,591L698.5,591.2L699.5,591.3L700.5,591.4L701.5,591.5L702,591.5L702.5,591.5L703.5,591.5L704.5,591.4L705.5,591.2L706.5,591.1L707,591L708,590.7L709,590.5L709.5,590.4L710.5,590.1L711.2,590L712,589.8L713,589.7L714,589.6L715,589.5L716,589.5L717,589.6L718,589.7L719,589.8L720,590L720.5,590L721.5,590.2L722.5,590.3L723.5,590.5L724,590.6L725,590.7L726,590.9L727,591L727.5,591.1L728.5,591.2L729.5,591.2L730.5,591.3L731.5,591.2L732.5,591.1L733.5,591L734,590.9L735,590.7L735.8,590.5L736.5,590.3L737.5,590.1L738,590L739,589.8L740,589.7L741,589.5L741.7,589.5L742.5,589.4L743.5,589.4L744.5,589.3L745.5,589.2L746.5,589.1L747.4,589L748,588.9L749,588.7L750,588.5L750.5,588.4L751.5,588.2L752.5,588L753,587.9L754,587.8L755,587.6L755.9,587.5L756.5,587.4L757.5,587.3L758.5,587.2L759.5,587.1L760.5,587L761,587L762,586.9L763,586.8L764,586.7L765,586.6L766,586.6L767,586.5L768,586.5L769,586.6L770,586.6L771,586.7L772,586.7L773,586.8L774,586.8L775,586.8L776,586.8L777,586.7L778,586.6L778.5,586.5L779.5,586.3L780.5,586.1L781,585.9L782,585.6L782.5,585.5L783.5,585.2L784.3,585L785,584.8L786,584.5L786.5,584.4L787.5,584.1L788,583.9L789,583.6L789.5,583.5L790.5,583.1L791,583L792,582.6L792.5,582.4L793.5,582.1L794,581.9L795,581.6L795.5,581.4L796.5,581.1L797,580.9L798,580.6L798.5,580.5L799.5,580.1L800,579.9L801,579.5L801.5,579.3L802.1,579L803,578.5L803.5,578.2L804,577.9L804.5,577.5L805.2,577L805.9,576.5L806.5,576.1L807,575.7L807.5,575.4L808.1,575L808.8,574.5L809.5,574.1L810,573.8L810.6,573.5L811.5,573.1L812,572.9L812.9,572.5L813.5,572.3L814.4,572L815,571.8L816,571.6L816.5,571.5L817.5,571.3L818.5,571.2L819.5,571.1L820.2,571L821,570.9L822,570.8L823,570.6L823.7,570.5L824.5,570.3L825.5,570.1L826.1,570L827,569.8L828,569.6L828.6,569.5L829.5,569.3L830.5,569.2L831.5,569.1L832.5,569.1L833.5,569L834.5,569L835.5,569.1L836.5,569.1L837.5,569L838.3,569L839,569L840,568.8L841,568.7L841.9,568.5L842.5,568.4L843.5,568.1L844,568L845,567.7L845.5,567.5L846.5,567.1L847,566.9L848,566.5L848.5,566.3L849.1,566L850,565.5L850.5,565.2L851,564.9L851.6,564.5L852.2,564L852.8,563.5L853.3,563L853.8,562.5L854.3,562L854.7,561.5L855.1,561L855.5,560.5L856,559.8L856.5,559.1L856.9,558.5L857.2,558L857.6,557.5L858,556.8L858.5,556L858.8,555.5L859.1,555L859.5,554.3L860,553.5L860.3,553L860.5,552.5L861,551.7L861.4,551L861.7,550.5L862,549.9L862.5,549L862.8,548.5L863,548L863.5,547L863.7,546.5L864,545.7L864.2,545L864.4,544L864.4,543L864,542.3L863.5,541.6L863,541L862.6,540.5L862.1,540L861.6,539.5L861,539L860.5,538.6L860,538.2L859.5,537.8L859,537.5L858.3,537L857.5,536.5L857,536.2L856.5,535.9L855.9,535.5L855.1,535L854.5,534.6L854,534.3L853.5,534L852.8,533.5L852,533L851.5,532.7L851,532.4L850.4,532L849.6,531.5L849,531.1L848.5,530.8L847.9,530.5L847.1,530L846.5,529.7L846,529.4L845.2,529L844.5,528.6L844,528.4L843.3,528L842.5,527.6L842,527.3L841.4,527L840.5,526.5L840,526.2L839.5,525.9L838.8,525.5L838,525L837.5,524.6L837,524.3L836.5,523.9L835.9,523.5L835.2,523L834.5,522.5L834,522.2L833.5,521.9L832.9,521.5L832.1,521L831.5,520.7L831,520.4L830.1,520L829.5,519.7L828.9,519.5L828,519.2L827.5,519L826.5,518.7L825.8,518.5L825,518.3L824,518.1L823.5,518L822.5,517.8L821.5,517.7L820.5,517.5L820,517.4L819,517.3L818,517L817.5,516.9L816.5,516.6L816,516.5L815,516.1L814.5,515.9L813.6,515.5L813,515.2L812.5,514.9L811.9,514.5L811.1,514L810.5,513.6L810,513.3L809.5,512.8L809,512.3L808.5,511.8L808,511.3L807.5,510.9L807,510.4L806.5,510L805.8,509.5L805,509L804.5,508.7L804,508.4L803.3,508L802.5,507.6L802,507.3L801.3,507L800.5,506.6L800,506.4L799.1,506L798.5,505.8L797.9,505.5L797,505.1L796.5,504.9L795.5,504.5L795,504.3L794.2,504L793.5,503.7L792.9,503.5L792,503.1L791.5,502.9L790.5,502.5L790,502.3L789.3,502L788.5,501.6L788,501.4L787.3,501L786.5,500.5L786,500.2L785.5,499.8L785,499.4L784.4,499L783.8,498.5L783.2,498L782.7,497.5L782.1,497L781.5,496.5L781,496.1L780.5,495.7L780,495.3L779.5,494.9L779,494.5L778.2,494L777.5,493.5L777,493.2L776.5,492.9L775.8,492.5L775,492.1L774.5,491.8L773.8,491.5L773,491.1L772.5,490.9L771.7,490.5L771,490.2L770.5,490L769.5,489.6L769,489.4L768.1,489L767.5,488.7L766.9,488.5L766,488.1L765.5,487.9L764.5,487.5L764,487.3L763.1,487L762.5,486.8L761.6,486.5L761,486.3L760,486.1L759.2,486L758.5,485.9L757.5,486L757,486L756,486.2L755,486.5L754.5,486.7L753.6,487L753,487.2L752,487.5L751.5,487.6L750.5,487.7L749.5,487.7L748.5,487.5L748,487.4L747,487.2L746.5,487L745.5,486.6L745,486.4L744,486.1L743.5,485.9L742.6,485.5L742,485.2L741.5,485L740.5,484.5L740,484.3L739.4,484L738.5,483.6L738,483.4L737.1,483L736.5,482.8L735.7,482.5L735,482.3L734,482.1L733,482L732,482.1L731,482.3L730.4,482.5L729.5,482.9L729,483.2L728.5,483.5L727.7,484L727,484.5L726.5,484.8L726,485.1L725.2,485.5L724.5,485.7L723.8,485.5L723.5,484.5L723.3,484L723.1,483L723,482.4L722.8,481.5L722.5,480.6L722.1,480L721.6,479.5L721,479.1L720.5,478.8L720,478.5L719,478.1L718.5,477.9L717.5,477.7L716.8,477.5L716,477.4L715,477.2L714,477.2L713,477.1L712,477.1L711,477.2L710,477.2L709,477.3L708,477.5L707.5,477.5L706.5,477.7L705.5,477.8L704.5,478L704,478.1L703,478.2L702,478.4L701.2,478.5L700.5,478.6L699.5,478.7L698.5,478.8L697.5,478.8L696.5,478.8L695.5,478.7L694.5,478.7L693.5,478.7L692.5,478.8L691.5,478.9L690.7,479L690,479.1L689,479.4L688.5,479.5L687.5,479.9L687,480L686,480.4L685.5,480.6L684.6,481L684,481.3L683.5,481.5L682.5,481.9L682,482.1L681,482.5L680.5,482.7L679.5,483L679,483.1L678,483.2L677,483.3L676,483.2L675,483L674.5,482.9L673.5,482.6L673,482.4L672,482L671.5,481.8L670.5,481.5L670,481.4L669,481.2L668,481.1L667,481.1L666,481.1L665,481.3L664,481.5L663.5,481.6L662.5,481.8L661.9,482L661,482.2L660,482.5L659.5,482.6L658.5,482.9L658,483L657,483.2L656,483.4L655.3,483.5L654.5,483.6L653.5,483.7L652.5,483.8L651.5,483.8L650.5,483.7L649.5,483.6L649,483.5L648,483.2L647.2,483L646.5,482.8L645.6,482.5L645,482.3L644,482L643.5,481.9L642.5,481.7L641.5,481.5L641,481.5L640,481.5L639.3,481.5L638.5,481.6L637.5,481.8L636.5,482L636,482.1L635,482.4L634.5,482.6L633.5,483L633,483.2L632.2,483.5L631.5,483.8L630.9,484L630,484.4L629.5,484.6L628.7,485L628,485.3L627.5,485.6L626.8,486L626,486.5L625.5,486.8L625,487.2L624.5,487.6L623.9,488L623.3,488.5L622.7,489L622.1,489.5L621.5,489.9L621,490.3L620.5,490.6L619.7,491L619,491.3L618.4,491.5L617.5,491.7L616.5,491.7L615.5,491.6L614.9,491.5L614,491.2L613.5,491L612.7,490.5L612,490.1L611.5,489.7L611,489.3L610.5,489L609.9,488.5L609.2,488L608.5,487.6L608,487.3L607.5,487L606.5,486.6L606,486.5L605,486.3L604,486.2L603,486.2L602,486.4L601.5,486.6L600.5,486.9L600,487.2L599.4,487.5L598.6,488L598,488.5L597.5,488.9L597,489.3L596.5,489.8L596,490.3L595.5,490.8L595,491.3L594.5,491.8L594,492.3L593.5,492.7L593,493.1L592.5,493.5L591.6,494L591,494.3L590.5,494.5L589.5,494.8L588.8,495L588,495.2L587,495.3L586,495.5L585.5,495.5L584.5,495.6L583.5,495.8L582.5,496L582,496.1L581,496.3L580.2,496.5L579.5,496.7L578.5,497L578,497.1L577,497.4L576.5,497.6L575.5,497.8L574.6,498L574,498.1L573,498.2L572,498.2L571,498.2L570,498.1L569.4,498L568.5,497.9L567.5,497.7L566.5,497.6L565.7,497.5L565,497.5L564,497.4L563,497.5L562.5,497.5L561.5,497.7L560.5,497.9L560,498L559,498.3L558.5,498.5L557.5,499L557,499.2L556.5,499.5L555.7,500L555,500.5L554.5,500.9L554,501.3L553.5,501.7L553,502.1L552.5,502.6L552,503L551.4,503.5L550.7,504L550,504.4L549.5,504.7L548.9,505L548,505.3L547.3,505.5L546.5,505.7L545.5,505.8L544.5,506L544,506.1L543,506.3L542.1,506.5L541.5,506.7L540.7,507L540,507.4L539.5,507.8L539,508.2L538.5,508.7L538,509.4L537.7,510L537.4,510.5L537,511.5L536.9,512L536.5,513L536.4,513.5L536,514.4L535.7,515L535.4,515.5L535,516.1L534.5,516.6L534,517.1L533.4,517.5L532.6,518L532,518.3L531.5,518.6L530.5,519L530,519.1L529,519.5L528.5,519.6L527.5,519.9L527,520L526,520.3L525,520.5L524.5,520.6L523.5,520.8L522.6,521L522,521.1L521,521.3L520,521.5L519.5,521.6L518.5,521.7L517.5,521.8L516.5,521.9L515.5,521.8L514.5,521.7L513.5,521.5L513,521.4L512,521.2L511,521L510.5,520.9L509.5,520.8L508.5,520.8L507.5,520.8L506.5,520.9L505.9,521L505,521.2L504,521.4L503.5,521.5L502.5,521.9L502,522.1L501,522.5L500.5,522.7L500,523L499.2,523.5L498.5,524L498,524.4L497.5,524.9L497,525.4L496.6,526L496.2,526.5L496,527L495.5,528L495.3,528.5L495,529.3L494.7,530L494.5,530.7L494.2,531.5L493.9,532L493.5,532.8L493,533.5L492.5,534L492,534.5L491.5,534.8L491,535.1L490.3,535.5L489.5,535.8L488.9,536L488,536.2L487,536.4L486.1,536.5L485.5,536.5L484.5,536.6L483.5,536.7L482.5,536.7L481.5,536.9L480.8,537L480,537.2L479.2,537.5L478.5,537.8L478,538.1L477.4,538.5L476.8,539L476.3,539.5L475.9,540L475.5,540.6L475.1,541.5L475,542L475,543L475.2,543.5L475.6,544L476,544.5L476.6,545L477.3,545.5L478,546L478.5,546.3L479,546.7L479.5,547L480.3,547.5L481,548L481.5,548.4L482,548.8L482.5,549.2L483,549.6L483.5,550L484,550.5L484.6,551L485.2,551.5L485.7,552L486.3,552.5L487,553L487.5,553.3L488,553.7L488.6,554L489.5,554.4L490,554.6L491,554.9L491.5,555L492.5,555.3L493.5,555.5L494,555.6L495,555.9L495.5,556L496.5,556.4L497,556.6L497.9,557L498.5,557.3L499,557.6L499.7,558L500.4,558.5L501,558.9L501.5,559.3L502,559.7L502.5,560.1L503,560.5L503.7,561L504.4,561.5L505,561.9L505.5,562.2L506.1,562.5L507,562.9L507.5,563.1L508.5,563.5L509,563.6L510,563.8L511,564L511.5,564L512.5,564.2L513.5,564.3L514.5,564.4L515.1,564.5L516,564.7L517,564.8L517.8,565L518.5,565.1L519.5,565.3L520.4,565.5L521,565.6L522,565.7L523,565.9L524,566L524.5,566L525.5,566.1L526.5,566.3L527.5,566.4L528,566.5L529,566.7L530,567L530.5,567.1L531.5,567.3L532.2,567.5L533,567.7L534,567.9L534.5,568L535.5,568.3L536.5,568.5L537,568.6L538,568.8L539,569L539.5,569.1L540.5,569.3L541.5,569.5L542,569.6L543,569.9L543.6,570L544.5,570.3L545.3,570.5L546,570.7L546.8,571L547.5,571.2L548.2,571.5L549,571.8L549.5,572.1L550.4,572.5L551,572.8L551.5,573L552.4,573.5L553,573.8L553.5,574.1L554.4,574.5L555,574.8L555.5,575L556.5,575.4L557,575.6L558,576L558.5,576.1L559.5,576.4L560,576.6L561,576.8L562,577L562.5,577.1L563.5,577.2L564.5,577.3L565.5,577.3L566.5,577.3L567.5,577.3L568.5,577.3L569.5,577.3L570.5,577.2L571.5,577.2L572.5,577.3L573.5,577.4L574.3,577.5L575,577.6L576,577.8L576.7,578L577.5,578.2L578.5,578.5L579,578.6L580,578.9L580.5,579L581.5,579.3L582.5,579.5L583,579.6L584,579.8L584.9,580L585.5,580.1L586.5,580.3L587.5,580.5L588,580.5L589,580.7L590,581L590.5,581.1L591.5,581.3L592,581.5L593,581.8L593.6,582L594.5,582.3L595.1,582.5L596,582.8L596.7,583L597.5,583.2L598.4,583.5L599,583.6L600,583.9L600.8,584L601.5,584.1L602.5,584.2L603.5,584.3L604.5,584.3L605.5,584.3L606.5,584.3L607.5,584.3L608.5,584.2L609.5,584.1L610.5,584.1L611.5,584.1L612.5,584.1L613.5,584.2L614.5,584.4L615.1,584.5L616,584.7L617,585L617.5,585.1L618.5,585.5L619,585.7L619.8,586L620.5,586.3L621.1,586.5L622,586.9L622.5,587.1L623.5,587.4L624,587.6L625,588L625.5,588.1L626.5,588.5L627,588.6L628,588.9L628.5,589L629.5,589.3L630.5,589.5L631,589.6L632,589.7L633,589.7L634,589.7L635,589.6L635.6,589.5L636.5,589.3L637.5,589L638,588.9L639,588.6L639.5,588.4L640.5,588.1L641,588L642,587.8L643,587.5L643.5,587.5L644.5,587.3L645.5,587.2L646.5,587.1L647.5,587L648.5,587L649.5,587L650.5,587.1L651.5,587.1L652.5,587.3L653.5,587.5L654,587.6L655,587.9L655.5,588.1L656.5,588.5L657,588.7L657.6,589L658.5,589.5L659,589.7L659.5,590L660.5,590.5L661,590.8L661.5,591L662.5,591.5L663,591.7L663.7,592L664.5,592.3L665,592.5L666,592.8L666.5,593L667.5,593.3L668.1,593.5L669,593.7L670,594L670.5,594.1L671.5,594.3L672.5,594.4L673.1,594.5L674,594.6L675,594.5L675.6,594.5ZM678,596L678.5,595.9L679.5,595.5L680,595.3L680.8,595L681.5,594.7L682,594.4L682.8,594L683.5,593.7L684,593.4L684.8,593L685.5,592.7L686.1,592.5L687,592.2L687.8,592L688.5,591.9L689.5,591.8L690.5,591.8L691.5,591.9L692.2,592L693,592.2L694,592.4L694.5,592.5L695.5,592.5L695.5,592.5L696.5,592.8L697.3,593L698,593.2L699,593.4L699.9,593.5L700.5,593.6L701.5,593.7L702.5,593.7L703.5,593.7L704.5,593.6L705.5,593.6L706.1,593.5L707,593.4L708,593.2L709,593.1L709.5,593L710.5,592.8L711.5,592.6L712.3,592.5L713,592.4L714,592.3L715,592.2L716,592.1L717,592.1L718,592.1L719,592.2L720,592.3L721,592.4L722,592.5L722.5,592.5L723.5,592.7L724.5,592.8L725.4,593L726,593.1L727,593.3L728,593.5L728.5,593.6L729.5,593.7L730.5,593.8L731.5,593.8L732.5,593.8L733.5,593.7L734.5,593.5L735,593.4L736,593.2L736.7,593L737.5,592.8L738.5,592.5L739,592.4L740,592.3L741,592.1L742,592L742.5,591.9L743.5,591.9L744.5,591.8L745.5,591.6L746.5,591.5L747,591.4L748,591.2L749,591L749.5,590.9L750.5,590.7L751.5,590.5L752,590.4L753,590.3L754,590.2L755,590.1L755.9,590L756.5,590L757.5,590L758.5,590L759.3,590L760,590L761,590.1L762,590.1L763,590.2L764,590.2L765,590.3L766,590.3L767,590.4L768,590.5L768.6,590.5L769.5,590.6L770.5,590.7L771.5,590.9L772.2,591L773,591.2L774,591.4L774.5,591.5L775.5,591.8L776.2,592L777,592.2L777.9,592.5L778.5,592.7L779.5,593L780,593.1L781,593.3L782,593.4L783,593.3L784,593.1L784.5,593L785.4,592.5L786,592.1L786.5,591.7L787,591.2L787.5,590.7L788,590.1L788.5,589.5L788.9,589L789.3,588.5L789.8,588L790.3,587.5L790.9,587L791.5,586.6L792,586.3L792.5,586L793.5,585.5L794,585.3L795,585L795.5,584.9L796.5,584.6L797.5,584.5L798,584.4L799,584.3L800,584.2L801,584.1L801.5,584L802.5,583.7L803.1,583.5L804,583.1L804.5,582.9L805.1,582.5L805.8,582L806.5,581.5L807,581L807.5,580.5L808,580L808.5,579.5L809,579L809.5,578.5L810,578L810.5,577.5L811,577.1L811.5,576.7L812,576.3L812.5,576L813.5,575.5L814,575.3L814.8,575L815.5,574.8L816.5,574.6L817.5,574.5L818,574.5L819,574.4L820,574.3L821,574.2L822,574.1L822.6,574L823.5,573.8L824.5,573.6L825,573.5L826,573.2L826.7,573L827.5,572.8L828.5,572.6L829,572.4L830,572.3L831,572.1L832,572L832.5,572L833.5,571.9L834.5,571.9L835.5,571.8L836.5,571.8L837.5,571.7L838.5,571.6L839.5,571.5L840,571.4L841,571.2L842,571L842.5,570.9L843.5,570.7L844.1,570.5L845,570.2L845.8,570L846.5,569.8L847.3,569.5L848,569.3L848.7,569L849.5,568.7L850,568.5L851,568.1L851.5,567.8L852.1,567.5L853,567L853.5,566.7L854,566.3L854.5,566L855.1,565.5L855.7,565L856.2,564.5L856.7,564L857.2,563.5L857.6,563L858.1,562.5L858.5,562L859,561.4L859.5,560.8L860,560.3L860.5,559.7L861,559.1L861.5,558.6L862,558L862.5,557.5L863,557L863.5,556.5L864,556L864.5,555.5L865,555L865.5,554.5L866,554L866.4,553.5L866.9,553L867.4,552.5L867.8,552L868.3,551.5L868.7,551L869.1,550.5L869.5,550L870,549.4L870.5,548.9L871,548.3L871.5,547.8L872,547.2L872.5,546.7L873,546.1L873.5,545.5L873.9,545L874.1,544.5L874.3,543.5L874,542.9L873.3,542.5L872.5,542L872,541.7L871.5,541.4L870.9,541L870.2,540.5L869.6,540L869.1,539.5L868.6,539L868.1,538.5L867.6,538L867.1,537.5L866.7,537L866.2,536.5L865.8,536L865.3,535.5L864.8,535L864.3,534.5L863.7,534L863,533.5L862.5,533.2L862,532.9L861,532.5L860.5,532.4L859.5,532.1L859,531.9L858,531.7L857.3,531.5L856.5,531.3L855.5,531L855,530.8L854,530.5L853.5,530.3L852.8,530L852,529.7L851.5,529.4L850.5,529L850,528.7L849.5,528.5L848.5,528L848,527.8L847.5,527.5L846.5,527L846,526.7L845.5,526.5L844.6,526L844,525.7L843.5,525.4L842.7,525L842,524.6L841.5,524.3L841,524L840.3,523.5L839.6,523L839,522.6L838.5,522.3L838,521.9L837.4,521.5L836.7,521L836,520.5L835.5,520.2L835,519.9L834.3,519.5L833.5,519.1L833,518.8L832.2,518.5L831.5,518.2L831,518L830,517.6L829.5,517.5L828.5,517.1L828,517L827,516.7L826,516.5L825.5,516.4L824.5,516.2L823.5,516.1L823,516L822,515.8L821,515.6L820.2,515.5L819.5,515.4L818.5,515.1L818,515L817,514.7L816.5,514.5L815.5,514.1L815,513.8L814.4,513.5L813.6,513L813,512.7L812.5,512.3L812,512L811.3,511.5L810.5,511L810,510.7L809.5,510.2L809,509.8L808.5,509.3L808,508.9L807.4,508.5L806.7,508L806,507.5L805.5,507.2L805,506.9L804.2,506.5L803.5,506.2L803,505.9L802.1,505.5L801.5,505.2L801,505L800,504.6L799.5,504.3L798.7,504L798,503.7L797.5,503.5L796.5,503L796,502.8L795.3,502.5L794.5,502.1L794,501.9L793.1,501.5L792.5,501.2L792,500.9L791.2,500.5L790.5,500.1L790,499.8L789.5,499.5L788.7,499L788,498.5L787.5,498.1L787,497.7L786.5,497.3L786,496.9L785.5,496.5L784.9,496L784.2,495.5L783.6,495L783,494.5L782.5,494.2L782,493.8L781.5,493.4L780.8,493L780.1,492.5L779.5,492.1L779,491.8L778.4,491.5L777.5,491L777,490.7L776.5,490.4L775.7,490L775,489.6L774.5,489.4L773.8,489L773,488.5L772.5,488.3L772,488L771.1,487.5L770.5,487.1L770,486.8L769.5,486.5L768.7,486L768,485.5L767.5,485.1L767,484.8L766.5,484.4L765.9,484L765.1,483.5L764.5,483.1L764,482.8L763.5,482.5L762.6,482L762,481.7L761.5,481.4L760.5,481L760,480.8L759,480.5L758.5,480.3L757.5,480.1L757,479.9L756,479.7L755,479.6L754.3,479.5L753.5,479.4L752.5,479.4L751.5,479.4L750.5,479.4L749.5,479.5L749,479.5L748,479.6L747,479.6L746,479.5L745.5,479.4L744.5,479.2L743.5,479L743,478.8L742.3,478.5L741.5,478.1L741,477.8L740.5,477.5L739.8,477L739.1,476.5L738.5,476.1L738,475.8L737.5,475.5L736.6,475L736,474.7L735.5,474.5L734.5,474.1L734,473.9L733,473.6L732.5,473.5L731.5,473.3L730.5,473.2L729.5,473.1L728.5,473.1L727.5,473L726.5,473.1L725.5,473.1L724.5,473.2L723.9,473L723.7,472L723.5,471.2L723,470.5L722.5,470.2L721.5,470.5L721,470.7L720.4,471L719.5,471.4L719,471.5L718,471.9L717.5,472L716.5,472.3L715.6,472.5L715,472.6L714,472.8L713,472.9L712.2,473L711.5,473.1L710.5,473.1L709.5,473.2L708.5,473.2L707.5,473.1L706.5,473.1L706,473L705,472.8L704,472.6L703.5,472.4L702.5,472L702,471.8L701.2,471.5L700.5,471.2L700,470.9L699,470.5L698.5,470.3L697.7,470L697,469.8L696,469.5L695.5,469.4L695,469.5L694.5,469.5L693.5,469.4L692.5,469.4L691.5,469.4L690.8,469.5L690,469.7L689.1,470L688.5,470.3L688,470.5L687.3,471L686.7,471.5L686.2,472L685.7,472.5L685.3,473L684.8,473.5L684.3,474L683.8,474.5L683.3,475L682.6,475.5L682,475.9L681.5,476.2L680.9,476.5L680,476.8L679.2,477L678.5,477.1L677.5,477L677,477L676,476.7L675.4,476.5L674.5,476.2L674,476L673,475.6L672.5,475.4L671.5,475.1L671,475L670,474.8L669,474.8L668,474.9L667.2,475L666.5,475.1L665.5,475.4L665,475.6L664,475.9L663.5,476.1L662.5,476.4L662,476.6L661,477L660.5,477.1L659.5,477.4L659,477.6L658,477.8L657,478L656.5,478L655.5,478.1L654.5,478.1L653.5,478.1L652.5,478L652,478L651,477.8L650,477.6L649.3,477.5L648.5,477.3L647.5,477.1L647,477L646,476.7L645.1,476.5L644.5,476.4L643.5,476.1L642.7,476L642,475.9L641,475.8L640,475.7L639,475.7L638,475.8L637,476L636.5,476.1L635.5,476.4L635,476.5L634,476.9L633.5,477.1L632.5,477.5L632,477.7L631.4,478L630.5,478.4L630,478.6L629,479L628.5,479.2L627.8,479.5L627,479.8L626.5,480L625.5,480.5L625,480.7L624.3,481L623.5,481.4L623,481.6L622.3,482L621.5,482.5L621,482.8L620.5,483.1L619.8,483.5L619,483.9L618.5,484.2L617.5,484.5L617,484.5L616.2,484.5L615.5,484.4L614.6,484L614,483.7L613.5,483.5L612.7,483L612,482.6L611.5,482.4L610.6,482L610,481.8L609.2,481.5L608.5,481.3L607.5,481.1L607,481L606,480.9L605,480.8L604,480.8L603,480.9L602.4,481L601.5,481.2L600.5,481.4L600,481.6L599,481.9L598.5,482.1L597.6,482.5L597,482.8L596.5,483.1L595.7,483.5L595,483.9L594.5,484.3L594,484.6L593.4,485L592.6,485.5L592,485.9L591.5,486.3L591,486.6L590.5,487L589.7,487.5L589,488L588.5,488.3L588,488.6L587.2,489L586.5,489.4L586,489.6L585,490L584.5,490.2L583.7,490.5L583,490.7L582.1,491L581.5,491.2L580.5,491.5L580,491.6L579,491.9L578.5,492.1L577.5,492.3L576.9,492.5L576,492.7L575,492.9L574.5,493L573.5,493.1L572.5,493.2L571.5,493.2L570.5,493.1L569.5,493.1L568.5,493L568,493L567,493L566,493L565.5,493L564.5,493.1L563.5,493.1L562.5,493.2L561.5,493.3L560.5,493.4L559.5,493.4L558.5,493.5L558,493.5L557,493.6L556,493.6L555,493.7L554,493.7L553,493.7L552,493.8L551,493.9L550.1,494L549.5,494.1L548.5,494.3L547.5,494.5L547,494.6L546,494.9L545.5,495L544.5,495.3L543.9,495.5L543,495.8L542.4,496L541.5,496.3L541,496.5L540,496.9L539.5,497.2L538.8,497.5L538,497.9L537.5,498.2L536.9,498.5L536.1,499L535.5,499.4L535,499.8L534.5,500.2L534,500.7L533.5,501.2L533,501.9L532.5,502.5L532.2,503L532,503.5L531.5,504.5L531.3,505L531,505.9L530.8,506.5L530.6,507.5L530.5,508.1L530.4,509L530.2,510L530.1,511L530,511.5L529.7,512.5L529.5,513.1L529,513.9L528.5,514.4L528,514.8L527.5,515L526.5,515.3L525.5,515.4L524.5,515.1L524,514.9L523.3,514.5L522.7,514L522.1,513.5L521.5,513L521,512.6L520.5,512.2L520,511.9L519.3,511.5L518.5,511.2L518,511L517,510.8L516,510.7L515,510.7L514,510.8L513,511L512.5,511.1L511.5,511.4L511,511.7L510.3,512L509.5,512.4L509,512.7L508.5,513L507.8,513.5L507.1,514L506.5,514.4L506,514.7L505.5,515L504.8,515.5L504,516L503.5,516.2L503,516.5L502,517L501.5,517.2L500.9,517.5L500,517.9L499.5,518.1L498.6,518.5L498,518.7L497.4,519L496.5,519.4L496,519.7L495.4,520L494.5,520.5L494,520.8L493.5,521.1L492.9,521.5L492.2,522L491.5,522.5L491,523L490.5,523.4L490,523.8L489.5,524.3L489,524.8L488.5,525.2L488,525.7L487.5,526L486.8,526.5L486,526.9L485.5,527.1L484.5,527.4L484,527.5L483,527.8L482,528L481.5,528.1L480.5,528.4L480,528.5L479,528.9L478.5,529.1L477.6,529.5L477,529.8L476.5,530.2L476,530.5L475.5,531L475,531.5L474.5,532.1L474,532.8L473.6,533.5L473.2,534L472.9,534.5L472.5,535.3L472.1,536L471.8,536.5L471.5,537.2L471.1,538L470.9,538.5L470.5,539.5L470.3,540L470.1,541L470,541.5L469.8,542.5L470,543.5L470.2,544L470.5,544.6L471,545.3L471.5,545.8L472,546.2L472.5,546.6L473.1,547L473.9,547.5L474.5,547.8L475,548.1L475.8,548.5L476.5,548.8L477,549.1L477.7,549.5L478.5,550L479,550.3L479.5,550.7L480,551.1L480.5,551.6L481,552L481.5,552.5L482,553.1L482.5,553.7L483,554.2L483.5,554.8L484,555.3L484.5,555.8L485,556.3L485.5,556.6L486,557L486.9,557.5L487.5,557.8L488.2,558L489,558.2L490,558.5L490.5,558.6L491.5,558.7L492.5,558.9L493.4,559L494,559.1L495,559.3L495.6,559.5L496.5,559.8L497,560L497.9,560.5L498.5,560.8L499,561.2L499.5,561.5L500.2,562L500.8,562.5L501.5,563L502,563.4L502.5,563.8L503,564.2L503.5,564.5L504.2,565L505,565.5L505.5,565.7L506.1,566L507,566.4L507.5,566.6L508.5,566.9L509,567L510,567.3L511,567.5L511.5,567.6L512.5,567.8L513.3,568L514,568.1L515,568.4L515.6,568.5L516.5,568.7L517.5,568.9L518,569L519,569.2L520,569.3L521,569.4L522,569.5L522.5,569.5L523.5,569.5L524.5,569.6L525.5,569.6L526.5,569.7L527.5,569.7L528.5,569.8L529.5,569.9L530.5,570L531,570L532,570.1L533,570.2L534,570.3L535,570.4L536,570.5L536.5,570.6L537.5,570.7L538.5,570.8L539.5,570.9L540.1,571L541,571.2L542,571.3L542.7,571.5L543.5,571.7L544.5,572L545,572.1L546,572.4L546.5,572.6L547.5,573L548,573.2L548.6,573.5L549.5,573.9L550,574.2L550.6,574.5L551.5,575L552,575.2L552.5,575.5L553.5,576L554,576.2L554.6,576.5L555.5,576.9L556,577.1L556.9,577.5L557.5,577.7L558.4,578L559,578.2L560,578.5L560.5,578.6L561.5,578.9L562.1,579L563,579.2L564,579.4L565,579.5L565.5,579.6L566.5,579.7L567.5,579.7L568.5,579.7L569.5,579.7L570.5,579.7L571.5,579.6L572.5,579.6L573.5,579.6L574.5,579.6L575.5,579.7L576.5,579.9L577.1,580L578,580.2L579,580.4L579.5,580.5L580.5,580.7L581.5,581L582,581.1L583,581.3L584,581.5L584.5,581.6L585.5,581.8L586.5,582L587,582.1L588,582.3L588.7,582.5L589.5,582.7L590.5,583L591,583.1L592,583.4L592.5,583.6L593.5,583.9L594,584.1L595,584.4L595.5,584.6L596.5,584.9L597,585.1L598,585.4L598.5,585.6L599.5,585.8L600.1,586L601,586.2L602,586.5L602.5,586.6L603.5,586.8L604.5,586.9L605,587L606,587.1L607,587.2L608,587.3L609,587.3L610,587.3L611,587.3L612,587.2L613,587.2L614,587.3L615,587.4L615.7,587.5L616.5,587.7L617.5,587.9L618,588L619,588.3L619.6,588.5L620.5,588.8L621.2,589L622,589.2L622.8,589.5L623.5,589.7L624.4,590L625,590.2L626,590.5L626.5,590.7L627.5,591L628,591.1L629,591.4L629.5,591.6L630.5,591.8L631.2,592L632,592.2L633,592.3L634,592.4L635,592.4L636,592.3L637,592.1L637.5,592L638.5,591.7L639,591.5L640,591.1L640.5,590.9L641.5,590.6L642,590.4L643,590.1L643.5,589.9L644.5,589.7L645.4,589.5L646,589.4L647,589.3L648,589.2L649,589.1L650,589.1L651,589.2L652,589.3L653,589.4L653.5,589.6L654.5,589.8L655,590L656,590.4L656.5,590.6L657.4,591L658,591.3L658.5,591.5L659.5,592L660,592.2L660.6,592.5L661.5,592.9L662,593.1L663,593.5L663.5,593.7L664.3,594L665,594.3L665.7,594.5L666.5,594.8L667.3,595L668,595.2L668.9,595.5L669.5,595.7L670.5,595.9L671,596L672,596.2L673,596.3L674,596.4L675,596.4L676,596.3L677,596.2L678,596ZM677.8,597.5L678.5,597.3L679.5,597L680,596.9L681,596.5L681.5,596.3L682.2,596L683,595.6L683.5,595.4L684.3,595L685,594.6L685.5,594.4L686.5,594L687,593.9L688,593.6L688.7,593.5L689.5,593.4L690.5,593.5L691,593.5L692,593.7L693,593.9L693.5,594L694.5,594.3L695.5,594.2L696.5,594.5L697,594.6L698,594.9L698.7,595L699.5,595.1L700.5,595.2L701.5,595.3L702.5,595.3L703.5,595.4L704.5,595.4L705.5,595.3L706.5,595.3L707.5,595.2L708.5,595.2L709.5,595.1L710.5,595.1L711.1,595L712,594.9L713,594.8L714,594.7L715,594.6L716,594.5L716.5,594.5L717.5,594.4L718.5,594.4L719.5,594.4L720.5,594.4L721.5,594.4L722.5,594.5L723,594.6L724,594.7L725,594.9L725.7,595L726.5,595.2L727.5,595.4L728,595.5L729,595.7L730,595.8L731,595.9L732,595.9L733,595.9L734,595.7L735,595.5L735.5,595.4L736.5,595.1L737,595L738,594.7L738.7,594.5L739.5,594.3L740.5,594.1L741.1,594L742,593.9L743,593.7L744,593.6L744.9,593.5L745.5,593.4L746.5,593.3L747.5,593.1L748.2,593L749,592.9L750,592.7L751,592.5L751.5,592.4L752.5,592.3L753.5,592.2L754.5,592.1L755.5,592.2L756.5,592.2L757.5,592.3L758.5,592.5L759,592.6L760,592.8L760.9,593L761.5,593.1L762.5,593.3L763.3,593.5L764,593.6L765,593.8L766,593.9L767,594L767.5,594L768.5,594.1L769.5,594.2L770.5,594.3L771.5,594.5L772,594.6L773,594.8L774,595L774.5,595.1L775.5,595.4L776,595.6L777,595.9L777.5,596L778.5,596.3L779.1,596.5L780,596.7L781,596.9L782,596.9L783,596.9L784,596.8L785,596.6L785.5,596.4L786.5,596L787,595.8L787.5,595.5L788.2,595L788.8,594.5L789.4,594L789.9,593.5L790.3,593L790.7,592.5L791.1,592L791.5,591.4L792,590.8L792.5,590.3L793,589.8L793.5,589.3L794,589L794.8,588.5L795.5,588.2L796.1,588L797,587.8L798,587.6L799,587.5L799.5,587.5L800.5,587.4L801.5,587.3L802.5,587.1L803.2,587L804,586.8L804.9,586.5L805.5,586.2L806,586L807,585.5L807.5,585.2L808,584.9L808.5,584.5L809.2,584L809.8,583.5L810.4,583L810.9,582.5L811.5,582L812,581.5L812.5,581L813,580.6L813.5,580.2L814,579.8L814.5,579.5L815.3,579L816,578.7L816.5,578.5L817.5,578.2L818.1,578L819,577.8L820,577.5L820.5,577.4L821.5,577.2L822.1,577L823,576.7L823.8,576.5L824.5,576.3L825.2,576L826,575.7L826.6,575.5L827.5,575.2L828.1,575L829,574.7L829.9,574.5L830.5,574.4L831.5,574.2L832.5,574L833,574L834,573.9L835,573.8L836,573.7L837,573.6L837.8,573.5L838.5,573.4L839.5,573.2L840.5,573L841,572.9L842,572.7L842.8,572.5L843.5,572.3L844.5,572L845,571.9L846,571.6L846.5,571.4L847.5,571.1L848,570.9L849,570.6L849.5,570.4L850.5,570.1L851,569.9L851.9,569.5L852.5,569.2L853,569L853.9,568.5L854.5,568.2L855,567.9L855.6,567.5L856.3,567L856.9,566.5L857.5,566L858,565.6L858.5,565.2L859,564.7L859.5,564.3L860,563.8L860.5,563.3L861,562.8L861.5,562.4L862,561.9L862.5,561.4L863,561L863.6,560.5L864.2,560L864.8,559.5L865.4,559L866,558.5L866.5,558.2L867,557.8L867.5,557.4L868.1,557L868.7,556.5L869.4,556L870,555.6L870.5,555.3L871,555L871.9,554.5L872.5,554.2L873,553.9L873.9,553.5L874.5,553.2L875,553L876,552.5L876.5,552.3L877,552L877.8,551.5L878.5,551L879,550.6L879.5,550.2L880,549.7L880.5,549.1L880.9,548.5L881.3,548L881.6,547.5L882,546.7L882.3,546L882.5,545.5L882.8,544.5L882.9,543.5L882.6,542.5L882.3,542L881.9,541.5L881.4,541L880.9,540.5L880.4,540L879.7,539.5L879,539L878.5,538.7L878,538.4L877.3,538L876.5,537.6L876,537.4L875.1,537L874.5,536.7L874,536.5L873.1,536L872.5,535.6L872,535.3L871.5,534.9L871,534.5L870.4,534L869.8,533.5L869.4,533L868.9,532.5L868.5,532L868,531.5L867.5,531L866.9,530.5L866.2,530L865.5,529.6L865,529.4L864,529L863.5,528.9L862.5,528.7L861.5,528.5L860.8,528.5L860,528.5L859,528.5L858,528.4L857,528.4L856,528.3L855,528.1L854.4,528L853.5,527.8L852.5,527.5L852,527.3L851.1,527L850.5,526.8L849.9,526.5L849,526.1L848.5,525.9L847.8,525.5L847,525.1L846.5,524.9L845.8,524.5L845,524L844.5,523.8L844,523.5L843.3,523L842.5,522.5L842,522.2L841.5,521.8L841,521.5L840.4,521L839.7,520.5L839,520L838.5,519.7L838,519.3L837.5,519L836.7,518.5L836,518.1L835.5,517.8L834.8,517.5L834,517.1L833.5,516.9L832.5,516.6L832,516.4L831,516.1L830.5,515.9L829.5,515.6L829,515.5L828,515.3L827,515.1L826.5,515L825.5,514.8L824.5,514.6L823.9,514.5L823,514.4L822,514.2L821,514L820.5,513.9L819.5,513.7L818.9,513.5L818,513.2L817.4,513L816.5,512.6L816,512.4L815.3,512L814.5,511.5L814,511.2L813.5,510.9L812.9,510.5L812.1,510L811.5,509.7L811,509.4L810.3,509L809.6,508.5L809,508L808.5,507.6L808,507.2L807.5,506.9L806.9,506.5L806,506L805.5,505.7L805,505.5L804.1,505L803.5,504.7L803,504.5L802,504L801.5,503.8L800.9,503.5L800,503.1L799.5,502.9L798.7,502.5L798,502.2L797.5,502L796.5,501.5L796,501.2L795.5,501L794.5,500.5L794,500.2L793.5,500L792.7,499.5L792,499.1L791.5,498.8L791,498.4L790.4,498L789.7,497.5L789,497L788.5,496.6L788,496.2L787.5,495.8L787,495.4L786.5,495L785.8,494.5L785.2,494L784.5,493.5L784,493.1L783.5,492.8L783,492.4L782.3,492L781.6,491.5L781,491.2L780.5,490.9L779.9,490.5L779,490L778.5,489.7L778,489.4L777.3,489L776.5,488.6L776,488.3L775.5,488L774.6,487.5L774,487.1L773.5,486.8L773,486.5L772.3,486L771.6,485.5L771,485.1L770.5,484.7L770,484.3L769.5,483.9L769,483.5L768.3,483L767.7,482.5L767.1,482L766.5,481.6L766,481.2L765.5,480.8L765,480.5L764.2,480L763.5,479.6L763,479.3L762.4,479L761.5,478.5L761,478.3L760.3,478L759.5,477.6L759,477.4L758,477L757.5,476.8L756.6,476.5L756,476.3L755.2,476L754.5,475.7L753.8,475.5L753,475.2L752.2,475L751.5,474.8L750.5,474.5L750,474.4L749,474.1L748.4,474L747.5,473.8L746.5,473.5L746,473.3L745.1,473L744.5,472.9L743.5,472.6L743,472.5L742,472.1L741.5,471.9L740.6,471.5L740,471.2L739.5,471L738.5,470.5L738,470.3L737.3,470L736.5,469.6L736,469.4L735,469L734.5,468.8L733.5,468.5L733,468.4L732,468.1L731.5,468L730.5,467.7L729.5,467.6L728.6,467.5L728,467.5L727,467.5L726.5,467.5L725.5,467.7L724.5,467.9L724,468L723.9,467.5L723.7,466.5L723.5,465.5L723.4,465L723,464L722.5,463.6L721.5,464L721,464.4L720.5,464.9L720,465.3L719.5,465.8L719,466.2L718.5,466.6L718,467L717.3,467.5L716.5,468L716,468.3L715.5,468.5L714.5,468.9L714,469.1L713,469.3L712,469.5L711.5,469.5L710.5,469.5L710,469.5L709,469.3L708,469.1L707.5,468.9L706.6,468.5L706,468.2L705.5,467.8L705,467.5L704.4,467L703.8,466.5L703.3,466L702.7,465.5L702.2,465L701.7,464.5L701.2,464L700.7,463.5L700.2,463L699.7,462.5L699.3,462L698.9,461.5L698.5,461L698,460.4L697.5,459.7L697,459.1L696.5,458.6L696,458.3L695.5,458L695.2,458.5L694.5,458.6L694,458.4L693,458.1L692.5,458L691.5,457.9L690.5,457.8L689.5,457.8L688.5,457.9L687.5,458L687,458.1L686,458.2L685,458.4L684.5,458.6L683.5,458.9L683,459L682,459.4L681.5,459.6L680.7,460L680,460.3L679.5,460.6L678.7,461L678,461.4L677.5,461.6L676.7,462L676,462.4L675.5,462.6L674.7,463L674,463.4L673.5,463.6L672.8,464L672,464.5L671.5,464.8L671,465.1L670.4,465.5L669.7,466L669,466.4L668.5,466.8L668,467.1L667.4,467.5L666.6,468L666,468.4L665.5,468.7L664.9,469L664,469.5L663.5,469.7L663,470L662,470.5L661.5,470.7L660.8,471L660,471.3L659.5,471.5L658.5,471.8L658,472L657,472.3L656,472.5L655.5,472.6L654.5,472.7L653.5,472.7L652.5,472.8L651.5,472.7L650.5,472.6L649.9,472.5L649,472.3L648,472L647.5,471.9L646.5,471.5L646,471.3L645.4,471L644.5,470.6L644,470.3L643.4,470L642.5,469.5L642,469.3L641.4,469L640.5,468.6L640,468.3L639.2,468L638.5,467.7L637.8,467.5L637,467.2L636.3,467L635.5,466.7L634.7,466.5L634,466.3L633,466.1L632.5,466L631.5,465.9L630.8,466L630,466.2L629.4,466.5L628.8,467L628.3,467.5L627.9,468L627.5,468.8L627.1,469.5L626.9,470L626.5,470.7L626,471.5L625.6,472L625.2,472.5L624.7,473L624.1,473.5L623.5,473.9L623,474.2L622.4,474.5L621.5,474.9L621,475.1L620,475.3L619.3,475.5L618.5,475.7L617.5,475.8L616.5,475.9L615.5,475.9L614.5,475.9L613.5,475.9L612.5,475.9L611.5,475.8L610.5,475.8L609.5,475.7L608.5,475.7L607.5,475.7L606.5,475.7L605.5,475.7L604.5,475.8L603.5,476L603,476L602,476.2L601,476.5L600.5,476.6L599.5,476.9L599,477.1L598,477.5L597.5,477.7L596.8,478L596,478.4L595.5,478.7L594.9,479L594,479.5L593.5,479.8L593,480.1L592.4,480.5L591.7,481L591,481.5L590.5,481.9L590,482.2L589.5,482.6L589,483L588.3,483.5L587.6,484L587,484.4L586.5,484.7L586,485L585.2,485.5L584.5,485.9L584,486.1L583.1,486.5L582.5,486.7L581.7,487L581,487.2L580,487.4L579.4,487.5L578.5,487.6L577.5,487.6L576.7,487.5L576,487.4L575,487L574.5,486.8L573.9,486.5L573.1,486L572.5,485.6L572,485.3L571.5,484.9L570.9,484.5L570,484L569.5,483.9L568.5,483.8L567.5,484L567,484.2L566.5,484.5L565.9,485L565.3,485.5L564.7,486L564.1,486.5L563.5,486.9L563,487.3L562.5,487.5L561.5,487.9L561,488.1L560,488.2L559,488.3L558,488.3L557,488.2L556,488.1L555.5,488L554.5,487.8L553.5,487.7L552.5,487.6L551.5,487.6L550.5,487.6L549.5,487.8L548.6,488L548,488.2L547,488.5L546.5,488.6L545.5,489L545,489.1L544,489.4L543.5,489.5L542.5,489.8L541.5,490L541,490.1L540,490.3L539,490.4L538.5,490.5L537.5,490.7L536.5,491L536,491.1L535,491.4L534.5,491.5L533.5,491.9L533,492.1L532.1,492.5L531.5,492.8L531,493.1L530.3,493.5L529.5,494L529,494.5L528.5,494.9L528,495.5L527.6,496L527.3,496.5L527,497.1L526.6,498L526.3,498.5L526,499.4L525.8,500L525.5,500.8L525.2,501.5L525,502.1L524.6,503L524.4,503.5L524,504.2L523.5,504.9L523,505.4L522.5,505.8L522,506L521,506.4L520.5,506.5L519.5,506.7L518.5,506.8L517.5,506.9L516.5,507L516,507L515,507.1L514,507.3L513.2,507.5L512.5,507.7L511.5,508L511,508.1L510,508.5L509.5,508.7L508.8,509L508,509.3L507.5,509.6L506.6,510L506,510.3L505.5,510.6L504.7,511L504,511.4L503.5,511.7L502.9,512L502,512.5L501.5,512.7L500.9,513L500,513.4L499.5,513.6L498.5,513.9L498,514.1L497,514.4L496.5,514.6L495.5,514.9L495,515L494,515.3L493.3,515.5L492.5,515.7L491.7,516L491,516.3L490.4,516.5L489.5,516.9L489,517.1L488.3,517.5L487.5,518L487,518.3L486.5,518.7L486,519.1L485.5,519.5L484.9,520L484.3,520.5L483.7,521L483,521.5L482.5,521.9L482,522.2L481.5,522.5L480.8,523L480,523.4L479.5,523.7L478.8,524L478,524.3L477.5,524.6L476.5,525L476,525.2L475.2,525.5L474.5,525.9L474,526.1L473.3,526.5L472.6,527L472.1,527.5L471.6,528L471.2,528.5L470.9,529L470.5,529.8L470.2,530.5L470,531.2L469.8,532L469.5,533L469.4,533.5L469.1,534.5L469,535L468.7,536L468.5,536.7L468.3,537.5L468,538.5L467.9,539L467.6,540L467.5,540.6L467.3,541.5L467.2,542.5L467.2,543.5L467.5,544.3L467.8,545L468.1,545.5L468.5,546L469,546.5L469.5,547L470.1,547.5L470.9,548L471.5,548.3L472,548.6L472.8,549L473.5,549.3L474,549.5L475,550L475.5,550.2L476,550.5L476.9,551L477.5,551.4L478,551.7L478.5,552.1L479,552.6L479.5,553.1L480,553.6L480.5,554.2L481,554.8L481.5,555.5L481.9,556L482.3,556.5L482.8,557L483.3,557.5L483.8,558L484.5,558.5L485,558.8L485.5,559.1L486.3,559.5L487,559.8L487.7,560L488.5,560.2L489.5,560.4L490.1,560.5L491,560.6L492,560.7L493,560.9L493.6,561L494.5,561.2L495.5,561.5L496,561.7L496.8,562L497.5,562.4L498,562.7L498.5,563L499.2,563.5L499.9,564L500.5,564.4L501,564.8L501.5,565.2L502,565.6L502.6,566L503.4,566.5L504,566.9L504.5,567.1L505.2,567.5L506,567.9L506.5,568.1L507.5,568.5L508,568.6L509,568.9L509.5,569.1L510.5,569.4L511,569.5L512,569.8L512.9,570L513.5,570.2L514.5,570.4L515,570.5L516,570.8L516.9,571L517.5,571.1L518.5,571.3L519.5,571.5L520,571.5L521,571.6L522,571.6L523,571.7L524,571.7L525,571.7L526,571.7L527,571.7L528,571.7L529,571.8L530,571.8L531,571.8L532,571.8L533,571.9L534,571.9L535,571.9L536,572L537,572L537.5,572L538.5,572.1L539.5,572.2L540.5,572.3L541.5,572.4L542,572.5L543,572.7L544,573L544.5,573.1L545.5,573.4L546,573.6L547,574L547.5,574.2L548.1,574.5L549,574.9L549.5,575.2L550.1,575.5L551,575.9L551.5,576.2L552.1,576.5L553,577L553.5,577.2L554.1,577.5L555,577.9L555.5,578.1L556.4,578.5L557,578.7L557.8,579L558.5,579.2L559.3,579.5L560,579.7L560.9,580L561.5,580.2L562.5,580.4L563,580.6L564,580.8L564.8,581L565.5,581.1L566.5,581.3L567.5,581.5L568,581.5L569,581.6L570,581.6L571,581.5L571.5,581.5L572.5,581.4L573.5,581.3L574.5,581.3L575.5,581.3L576.5,581.4L577.5,581.5L578,581.6L579,581.7L580,581.9L580.5,582L581.5,582.3L582.5,582.5L583,582.6L584,582.8L584.9,583L585.5,583.1L586.5,583.4L587.1,583.5L588,583.7L589,584L589.5,584.1L590.5,584.4L591,584.6L592,584.9L592.5,585.1L593.5,585.4L594,585.6L595,585.9L595.5,586.1L596.5,586.4L597,586.6L598,586.9L598.5,587.1L599.5,587.4L600,587.6L601,587.9L601.5,588.1L602.5,588.4L603,588.6L604,588.9L604.5,589.1L605.5,589.5L606,589.6L607,589.9L607.5,590.1L608.5,590.3L609.4,590.5L610,590.6L611,590.6L612,590.7L613,590.6L614,590.6L615,590.5L616,590.5L617,590.5L618,590.6L619,590.7L620,590.8L620.9,591L621.5,591.1L622.5,591.3L623.2,591.5L624,591.7L625,592L625.5,592.1L626.5,592.4L627,592.6L628,592.9L628.5,593.1L629.5,593.4L630,593.6L631,593.9L631.5,594.1L632.5,594.4L633,594.5L634,594.7L635,594.8L636,594.8L637,594.7L638,594.5L638.5,594.4L639.5,594L640,593.8L640.8,593.5L641.5,593.2L642,592.9L643,592.5L643.5,592.3L644.3,592L645,591.8L646,591.5L646.5,591.4L647.5,591.2L648.5,591.1L649.5,591L650,591L650.8,591L651.5,591L652.5,591.2L653.5,591.4L654.1,591.5L655,591.8L655.6,592L656.5,592.3L657,592.5L658,593L658.5,593.2L659.2,593.5L660,593.8L660.5,594L661.5,594.4L662,594.6L663,595L663.5,595.2L664.5,595.5L665,595.7L666,596L666.5,596.2L667.5,596.5L668,596.6L669,596.9L669.5,597.1L670.5,597.3L671.3,597.5L672,597.6L673,597.8L674,597.8L675,597.8L676,597.8L677,597.6L677.8,597.5ZM785.3,598.5L786,598.3L786.8,598L787.5,597.7L788,597.4L788.7,597L789.4,596.5L790,596L790.5,595.5L790.9,595L791.4,594.5L791.8,594L792.2,593.5L792.7,593L793.1,592.5L793.6,592L794.2,591.5L794.9,591L795.5,590.6L796,590.3L796.9,590L797.5,589.8L798.5,589.6L799.3,589.5L800,589.4L801,589.3L802,589.2L803,589L803.5,588.9L804.5,588.7L805.1,588.5L806,588.2L806.6,588L807.5,587.6L808,587.4L808.7,587L809.5,586.5L810,586.2L810.5,585.9L811.1,585.5L811.8,585L812.4,584.5L813,584L813.5,583.6L814,583.2L814.5,582.8L815,582.4L815.5,582L816.2,581.5L817,581L817.5,580.7L818,580.5L819,580L819.5,579.8L820.2,579.5L821,579.2L821.5,579L822.5,578.6L823,578.4L824,578L824.5,577.8L825.3,577.5L826,577.2L826.5,577L827.5,576.6L828,576.4L829,576L829.5,575.9L830.5,575.6L831,575.5L832,575.3L833,575.1L833.8,575L834.5,574.9L835.5,574.8L836.5,574.7L837.5,574.5L838,574.4L839,574.3L840,574.1L840.5,573.9L841.5,573.7L842.3,573.5L843,573.3L844,573L844.5,572.9L845.5,572.6L846,572.4L847,572.1L847.5,572L848.5,571.6L849,571.5L850,571.1L850.5,571L851.5,570.6L852,570.4L852.8,570L853.5,569.7L854,569.4L854.8,569L855.5,568.6L856,568.3L856.5,568L857.2,567.5L857.9,567L858.5,566.5L859,566.1L859.5,565.7L860,565.3L860.5,564.9L861,564.4L861.5,564L862.1,563.5L862.7,563L863.3,562.5L863.9,562L864.5,561.5L865,561.1L865.5,560.8L866,560.4L866.6,560L867.3,559.5L868,559L868.5,558.7L869,558.3L869.5,558L870.4,557.5L871,557.2L871.5,556.9L872.5,556.5L873,556.3L873.7,556L874.5,555.7L875,555.5L876,555.2L876.5,555L877.5,554.6L878,554.4L878.9,554L879.5,553.7L880,553.5L880.9,553L881.5,552.7L882,552.4L882.7,552L883.5,551.6L884,551.3L884.7,551L885.5,550.7L886,550.5L887,550.2L887.5,550L888.5,549.8L889.5,549.5L890,549.4L891,549.3L892,549.1L892.8,549L893.5,548.9L894.5,548.8L895.5,548.7L896.5,548.6L897,548.5L898,548.4L899,548.2L900,548.1L900.5,548L901.5,547.8L902.5,547.6L903,547.5L904,547.3L905,547.1L905.5,547L906.5,546.7L907.2,546.5L908,546.3L908.8,546L909.5,545.8L910.1,545.5L911,545.1L911.5,544.9L912.2,544.5L913,544L913.5,543.7L914,543.3L914.5,542.9L915,542.2L915.4,541.5L915.6,541L915.9,540L916,539L915.8,538L915.5,537.2L915.2,536.5L914.8,536L914.4,535.5L914,535L913.5,534.5L912.9,534L912.3,533.5L911.5,533L911,532.7L910.5,532.4L909.8,532L909,531.7L908.5,531.4L907.5,531.1L907,530.9L906,530.6L905.5,530.4L904.5,530.1L904,530L903,529.8L902,529.5L901.5,529.4L900.5,529.2L899.5,529.1L899,529L898,528.8L897,528.7L896,528.6L895.4,528.5L894.5,528.4L893.5,528.3L892.5,528.3L891.5,528.2L890.5,528.2L889.5,528.1L888.5,528.1L887.5,528.1L886.5,528L885.9,528L885,528L884,527.9L883,527.8L882,527.8L881,527.7L880,527.6L879,527.5L878.5,527.5L877.5,527.4L876.5,527.3L875.5,527.2L874.5,527L874,527L873,526.9L872,526.8L871,526.7L870,526.6L869.5,526.5L868.5,526.3L867.5,526.2L866.5,526L866,526L865,525.9L864,525.8L863,525.8L862,525.8L861,525.9L860.2,526L859.5,526.1L858.5,526.2L857.5,526.3L856.5,526.3L855.5,526.4L854.5,526.3L853.5,526.2L852.5,526L852,525.9L851,525.6L850.5,525.5L849.5,525.1L849,524.9L848.1,524.5L847.5,524.2L847,524L846.1,523.5L845.5,523.2L845,522.9L844.4,522.5L843.6,522L843,521.6L842.5,521.2L842,520.9L841.5,520.5L840.9,520L840.2,519.5L839.5,519L839,518.6L838.5,518.3L838,518L837.2,517.5L836.5,517.1L836,516.9L835.2,516.5L834.5,516.2L834,516L833,515.7L832.5,515.5L831.5,515.2L830.8,515L830,514.8L829,514.6L828.5,514.5L827.5,514.3L826.5,514.1L826,514L825,513.8L824,513.7L823.1,513.5L822.5,513.4L821.5,513.2L820.5,513L820,512.9L819,512.6L818.5,512.4L817.5,512L817,511.8L816.4,511.5L815.5,511L815,510.7L814.5,510.4L813.8,510L813,509.5L812.5,509.2L812,508.9L811.2,508.5L810.5,508.1L810,507.9L809.5,507.5L808.9,507L808.2,506.5L807.5,506.1L807,505.8L806.5,505.5L805.6,505L805,504.7L804.5,504.4L803.6,504L803,503.7L802.5,503.5L801.5,503L801,502.8L800.4,502.5L799.5,502.1L799,501.8L798.3,501.5L797.5,501.1L797,500.9L796.3,500.5L795.5,500.1L795,499.8L794.4,499.5L793.5,499L793,498.7L792.5,498.4L791.9,498L791.2,497.5L790.5,497L790,496.6L789.5,496.2L789,495.8L788.5,495.4L788,495L787.3,494.5L786.7,494L786,493.5L785.5,493.1L785,492.7L784.5,492.4L784,492L783.2,491.5L782.5,491L782,490.7L781.5,490.4L780.8,490L780,489.5L779.5,489.3L779,489L778.2,488.5L777.5,488.1L777,487.8L776.4,487.5L775.6,487L775,486.6L774.5,486.3L774,486L773.3,485.5L772.6,485L772,484.5L771.5,484.1L771,483.7L770.5,483.3L770,482.8L769.5,482.4L769,482L768.4,481.5L767.8,481L767.2,480.5L766.6,480L766,479.6L765.5,479.3L765,478.9L764.3,478.5L763.5,478L763,477.7L762.5,477.5L761.6,477L761,476.7L760.5,476.4L759.6,476L759,475.7L758.5,475.5L757.5,475L757,474.8L756.4,474.5L755.5,474.1L755,473.8L754.3,473.5L753.5,473.1L753,472.9L752.2,472.5L751.5,472.2L751,472L750,471.6L749.5,471.4L748.5,471L748,470.8L747.2,470.5L746.5,470.2L745.9,470L745,469.6L744.4,469.5L743.5,469.3L742.5,469L742,468.9L741,468.5L740.5,468.3L739.7,468L739,467.7L738.5,467.5L737.5,467.1L737,466.9L736,466.5L735.5,466.3L734.7,466L734,465.8L733.2,465.5L732.5,465.3L731.5,465L731,464.9L730,464.7L729,464.6L728,464.5L727,464.5L726,464.6L725,464.8L724.3,465L724,465L723.8,464L723.7,463L723.5,462L723.4,461.5L723.1,460.5L722.9,460L722.5,459.4L721.5,459.5L721,459.8L720.5,460.2L720,460.6L719.5,461.1L719,461.6L718.5,462.1L718,462.6L717.5,463.1L717,463.6L716.5,464.1L716,464.5L715.4,465L714.6,465.5L714,465.8L713.5,466L712.5,466.3L711.5,466.4L710.5,466.3L709.8,466L709,465.6L708.5,465.1L708,464.5L707.8,464L707.5,463.1L707.4,462.5L707.5,461.6L707.6,461L707.9,460L708,459.5L708.3,458.5L708.5,457.5L708.5,456.5L708.2,455.5L707.9,455L707.5,454.5L707,454L706.4,453.5L705.5,453L705,452.8L704.2,452.5L703.5,452.3L702.5,452L702,451.9L701,451.7L700,451.6L699.5,451.5L698.5,451.4L697.5,451.4L696.5,451.5L696,451.5L695,452L694.5,452.1L693.5,452.2L692.5,452.4L691.9,452.5L691,452.7L690,452.8L689,453L688.5,453L687.5,453.1L686.5,453.2L685.5,453.3L684.5,453.3L683.5,453.2L682.5,453.2L681.5,453.1L680.5,453.1L679.8,453L679,452.9L678,452.9L677,452.9L676.3,453L675.5,453.1L674.5,453.4L674,453.5L673,454L672.5,454.2L672,454.5L671.3,455L670.7,455.5L670.1,456L669.7,456.5L669.2,457L668.8,457.5L668.5,458L668,458.7L667.5,459.5L667.2,460L666.8,460.5L666.5,461L666,461.7L665.5,462.4L665,463L664.6,463.5L664.1,464L663.5,464.5L663,465L662.5,465.4L662,465.7L661.5,466L660.7,466.5L660,466.9L659.5,467.1L658.7,467.5L658,467.8L657.3,468L656.5,468.2L655.5,468.5L655,468.6L654,468.7L653,468.7L652,468.7L651,468.5L650.5,468.4L649.6,468L649,467.7L648.5,467.4L648,467L647.5,466.5L647,466L646.5,465.4L646,464.7L645.5,464L645.2,463.5L644.8,463L644.5,462.5L644,461.9L643.5,461.3L643,460.9L642.5,460.5L641.8,460L641,459.6L640.5,459.4L639.5,459.1L639,459L638,458.8L637,458.7L636,458.6L635,458.5L634,458.5L633,458.6L632,458.7L631,458.8L630.3,459L629.5,459.2L628.6,459.5L628,459.7L627.4,460L626.5,460.4L626,460.7L625.5,461L624.8,461.5L624.2,462L623.7,462.5L623.3,463L622.9,463.5L622.5,464.1L622,465L621.8,465.5L621.5,466.4L621.3,467L621,467.8L620.7,468.5L620.4,469L620,469.6L619.5,470.1L619,470.5L618,471L617.5,471.2L616.5,471.4L615.5,471.4L614.5,471.4L613.5,471.2L612.5,471L612,470.8L611.2,470.5L610.5,470.1L610,469.7L609.5,469.3L609,468.6L608.7,468L608.5,467.3L608.4,466.5L608.3,465.5L608.3,464.5L608.2,463.5L608,463L607.5,462.3L607,462L606,461.9L605.5,462.1L604.6,462.5L604,462.9L603.5,463.4L603,463.9L602.5,464.5L602.2,465L601.9,465.5L601.5,466.1L601,467L600.7,467.5L600.4,468L600,468.7L599.5,469.4L599.1,470L598.7,470.5L598.2,471L597.7,471.5L597.2,472L596.6,472.5L596,473L595.5,473.4L595,473.8L594.5,474.2L594,474.6L593.4,475L592.8,475.5L592.2,476L591.5,476.5L591,477L590.5,477.4L590,477.9L589.5,478.3L589,478.8L588.5,479.3L588,479.8L587.5,480.3L587,480.8L586.5,481.2L586,481.7L585.5,482.1L585,482.5L584.3,483L583.5,483.5L583,483.7L582.4,484L581.5,484.3L580.7,484.5L580,484.6L579,484.6L578.1,484.5L577.5,484.3L576.7,484L576,483.5L575.5,483.2L575,482.7L574.5,482.2L574,481.6L573.5,481.1L573,480.5L572.6,480L572.1,479.5L571.6,479L571.1,478.5L570.5,478.1L570,477.8L569.4,477.5L568.5,477.3L567.5,477.3L566.6,477.5L566,477.8L565.5,478.1L564.9,478.5L564.4,479L563.9,479.5L563.4,480L562.9,480.5L562.5,481L562,481.5L561.4,482L560.8,482.5L560,482.9L559.5,483.1L558.5,483.4L557.5,483.4L556.5,483.2L555.7,483L555,482.8L554.3,482.5L553.5,482.2L553,481.9L552.1,481.5L551.5,481.3L550.9,481L550,480.7L549.5,480.5L548.5,480.3L547.5,480.1L546.5,480.1L545.5,480.3L544.8,480.5L544,480.9L543.5,481.3L543,481.8L542.5,482.4L542,483L541.6,483.5L541.2,484L540.7,484.5L540,485L539.5,485.3L539,485.6L538.2,486L537.5,486.3L537,486.5L536,486.9L535.5,487.1L534.5,487.5L534,487.7L533.1,488L532.5,488.2L531.7,488.5L531,488.8L530.3,489L529.5,489.3L529,489.5L528,489.9L527.5,490.2L526.9,490.5L526.1,491L525.5,491.5L525.1,492L524.7,492.5L524.4,493L524,493.8L523.7,494.5L523.5,495.2L523.3,496L523,497L522.9,497.5L522.6,498.5L522.4,499L522.1,500L521.9,500.5L521.5,501.4L521.1,502L520.7,502.5L520.2,503L519.5,503.5L519,503.8L518.5,504.1L517.5,504.4L517,504.6L516,504.9L515.4,505L514.5,505.2L513.5,505.5L513,505.6L512,505.9L511.5,506.1L510.5,506.4L510,506.6L509,506.9L508.5,507.1L507.5,507.5L507,507.7L506.1,508L505.5,508.2L504.8,508.5L504,508.8L503.5,509L502.5,509.4L502,509.6L501,510L500.5,510.1L499.5,510.4L499,510.6L498,510.8L497,511L496.5,511L495.5,511.1L494.5,511.2L493.5,511.2L492.5,511.2L491.5,511.1L490.8,511L490,510.9L489,510.6L488.5,510.4L487.6,510L487,509.6L486.5,509.2L486,508.5L485.7,508L485.5,507.5L485,506.8L484.5,506.3L483.5,506.2L483,506.5L482.8,507.5L483,508.4L483.2,509L483.5,509.6L483.8,510.5L483.8,511.5L483.8,512.5L483.6,513.5L483.4,514L483.1,515L483,515.5L482.5,516.5L482.3,517L482,517.5L481.5,518.3L481,518.9L480.5,519.5L480,520L479.5,520.4L479,520.8L478.5,521.1L477.9,521.5L477,521.9L476.5,522.2L475.6,522.5L475,522.7L474.2,523L473.5,523.2L472.7,523.5L472,523.8L471.5,524L470.6,524.5L470,524.9L469.5,525.4L469,526L468.6,526.5L468.4,527L468,527.8L467.8,528.5L467.5,529.4L467.4,530L467.2,531L467.1,532L467,532.7L466.9,533.5L466.8,534.5L466.7,535.5L466.5,536.5L466.4,537L466.2,538L466,539L465.9,539.5L465.7,540.5L465.5,541.3L465.3,542L465.1,543L465.3,544L465.5,544.5L466,545.5L466.3,546L466.7,546.5L467.1,547L467.7,547.5L468.3,548L469,548.4L469.5,548.7L470.1,549L471,549.4L471.5,549.7L472.3,550L473,550.3L473.6,550.5L474.5,550.9L475,551.2L475.7,551.5L476.5,552L477,552.3L477.5,552.7L478,553.1L478.5,553.6L479,554.2L479.5,554.8L480,555.4L480.4,556L480.8,556.5L481.2,557L481.6,557.5L482,558L482.5,558.5L483.1,559L483.7,559.5L484.5,560L485,560.3L485.5,560.5L486.5,560.9L487,561.1L488,561.3L488.8,561.5L489.5,561.6L490.5,561.7L491.5,561.9L492.4,562L493,562.1L494,562.3L494.8,562.5L495.5,562.7L496.1,563L497,563.4L497.5,563.7L498,564L498.7,564.5L499.4,565L500,565.4L500.5,565.8L501,566.2L501.5,566.5L502.2,567L503,567.5L503.5,567.8L504,568.1L504.8,568.5L505.5,568.8L506,569.1L507,569.5L507.5,569.6L508.5,570L509,570.1L510,570.4L510.5,570.6L511.5,570.9L512,571L513,571.3L513.6,571.5L514.5,571.8L515.3,572L516,572.2L517,572.4L517.5,572.5L518.5,572.7L519.5,572.9L520.5,573L521.1,573L522,573L523,573.1L524,573.1L525,573.1L526,573.1L527,573.1L528,573.1L529,573.1L530,573.1L531,573.1L532,573.1L533,573L534,573L535,573L535.8,573L536.5,573L537.5,573L538,573L539,573L540,573.1L541,573.2L542,573.4L542.8,573.5L543.5,573.7L544.5,573.9L545,574.1L546,574.4L546.5,574.6L547.4,575L548,575.3L548.5,575.5L549.5,576L550,576.3L550.5,576.5L551.4,577L552,577.3L552.5,577.5L553.5,578L554,578.2L554.6,578.5L555.5,578.9L556,579.1L557,579.5L557.5,579.7L558.3,580L559,580.2L559.8,580.5L560.5,580.7L561.3,581L562,581.2L562.8,581.5L563.5,581.7L564.5,582L565,582.2L566,582.4L566.5,582.5L567.5,582.8L568.5,582.9L569.3,583L570,583L571,583L571.5,583L572.5,582.9L573.5,582.8L574.5,582.7L575.5,582.6L576.5,582.6L577.5,582.6L578.5,582.8L579.5,582.9L580,583L581,583.2L582,583.4L582.5,583.5L583.5,583.8L584.5,584L585,584.1L586,584.4L586.6,584.5L587.5,584.7L588.5,585L589,585.1L590,585.4L590.5,585.6L591.5,585.9L592,586L593,586.3L593.5,586.5L594.5,586.8L595,587L596,587.3L596.5,587.5L597.5,587.9L598,588L599,588.4L599.5,588.6L600.4,589L601,589.2L601.6,589.5L602.5,589.9L603,590.2L603.7,590.5L604.5,590.9L605,591.2L605.7,591.5L606.5,591.9L607,592.1L608,592.5L608.5,592.7L609.5,592.9L610,593L611,593.1L612,593.1L613,593.1L613.8,593L614.5,592.9L615.5,592.8L616.5,592.7L617.5,592.6L618.5,592.6L619.5,592.6L620.5,592.6L621.5,592.7L622.5,592.8L623.5,593L624,593.1L625,593.4L625.5,593.5L626.5,593.8L627.1,594L628,594.3L628.5,594.5L629.5,594.9L630,595.1L631,595.5L631.5,595.7L632.5,596L633,596.1L634,596.4L634.5,596.5L635.5,596.6L636.5,596.7L637.5,596.6L638.2,596.5L639,596.3L640,596L640.5,595.8L641.2,595.5L642,595.1L642.5,594.9L643.3,594.5L644,594.2L644.5,594L645.5,593.5L646,593.4L647,593.1L647.5,592.9L648.5,592.7L649.5,592.6L650.5,592.6L651.5,592.6L652.5,592.7L653.5,592.8L654.1,593L655,593.2L655.8,593.5L656.5,593.8L657.1,594L658,594.3L658.5,594.5L659.5,594.9L660,595.1L661,595.5L661.5,595.7L662.5,596L663,596.2L664,596.5L664.5,596.7L665.5,597L666,597.1L667,597.5L667.5,597.6L668.5,597.9L669,598L670,598.3L670.9,598.5L671.5,598.6L672.5,598.8L673.5,598.9L674.5,598.9L675.5,598.9L676.5,598.8L677.5,598.6L678.2,598.5L679,598.3L680,598L680.5,597.9L681.5,597.5L682,597.3L682.8,597L683.5,596.7L684,596.5L685,596.1L685.5,595.9L686.4,595.5L687,595.3L688,595.1L688.5,595L689.5,594.9L690.5,595L691,595L692,595.2L693,595.5L693.5,595.6L694.5,595.9L695,596L695.5,595.6L696.5,595.8L697.2,596L698,596.2L699,596.3L700,596.4L700.9,596.5L701.5,596.5L702.5,596.6L703.5,596.6L704.5,596.6L705.5,596.6L706.5,596.6L707.5,596.6L708.5,596.6L709.5,596.6L710.5,596.6L711.5,596.6L712.5,596.6L713.5,596.5L714,596.5L715,596.4L716,596.3L717,596.2L718,596.2L719,596.1L720,596L721,596L722,596.1L723,596.1L724,596.3L725,596.5L725.5,596.6L726.5,596.8L727.5,597L728,597.1L729,597.3L730,597.4L731,597.5L732,597.5L733,597.4L734,597.2L735,597L735.5,596.9L736.5,596.6L737,596.5L738,596.2L738.6,596L739.5,595.7L740.5,595.5L741,595.4L742,595.2L743,595.1L743.6,595L744.5,594.9L745.5,594.8L746.5,594.6L747.4,594.5L748,594.4L749,594.2L750,594.1L750.6,594L751.5,593.9L752.5,593.8L753.5,593.8L754.5,593.8L755.5,593.9L756.2,594L757,594.1L758,594.4L758.5,594.5L759.5,594.8L760.1,595L761,595.3L761.9,595.5L762.5,595.7L763.5,595.9L764.2,596L765,596.1L766,596.3L767,596.3L768,596.4L768.9,596.5L769.5,596.5L770.5,596.6L771.5,596.7L772.5,596.9L773.1,597L774,597.2L775,597.4L775.5,597.6L776.5,597.8L777.1,598L778,598.2L779,598.5L779.5,598.6L780.5,598.7L781.5,598.8L782.5,598.9L783.5,598.8L784.5,598.7L785.3,598.5ZM673,603L673.9,602.5L674.5,602.1L675,601.7L675.5,601.4L676.1,601L677,600.5L677.5,600.2L678,600L679,599.6L679.5,599.3L680.4,599L681,598.7L681.6,598.5L682.5,598.2L683,598L684,597.6L684.5,597.4L685.5,597L686,596.8L687,596.5L687.5,596.4L688.5,596.2L689.5,596.2L690.5,596.2L691.5,596.4L692,596.5L693,596.7L694,597L694.5,597.1L695.2,597L696,596.8L697,597L697.5,597.1L698.5,597.2L699.5,597.3L700.5,597.4L701.5,597.4L702.5,597.5L703.5,597.5L704,597.5L705,597.5L706,597.5L707,597.6L708,597.6L709,597.6L710,597.7L711,597.7L712,597.7L713,597.7L714,597.7L715,597.6L716,597.6L717,597.5L717.5,597.5L718.5,597.4L719.5,597.3L720.5,597.3L721.5,597.3L722.5,597.3L723.5,597.4L724,597.5L725,597.7L726,597.9L726.5,598L727.5,598.2L728.5,598.4L729.3,598.5L730,598.6L731,598.6L732,598.6L733,598.5L733.5,598.4L734.5,598.3L735.5,598L736,597.9L737,597.6L737.5,597.4L738.5,597.1L739,597L740,596.7L740.9,596.5L741.5,596.4L742.5,596.2L743.5,596.1L744,596L745,595.9L746,595.7L747,595.6L748,595.5L748.5,595.4L749.5,595.3L750.5,595.2L751.5,595.1L752.5,595L753.5,595.1L754.5,595.2L755.5,595.3L756.3,595.5L757,595.7L758,596L758.5,596.1L759.5,596.4L760,596.6L761,596.9L761.5,597L762.5,597.2L763.5,597.4L764,597.5L765,597.7L766,597.8L767,597.9L768,597.9L768.8,598L769.5,598L770.5,598.1L771.5,598.2L772.5,598.4L773.2,598.5L774,598.7L775,598.9L775.5,599L776.5,599.2L777.5,599.5L778,599.6L779,599.8L779.9,600L780.5,600.1L781.5,600.2L782.5,600.2L783.5,600.1L784.5,600L785,599.9L786,599.7L786.6,599.5L787.5,599.1L788,598.9L788.8,598.5L789.5,598.1L790,597.8L790.5,597.3L791,596.7L791.5,596.2L792,595.7L792.5,595.1L793,594.6L793.5,594.1L794,593.6L794.5,593.2L795,592.8L795.5,592.4L796.2,592L797,591.6L797.5,591.4L798.5,591.2L799.3,591L800,590.9L801,590.7L802,590.6L802.6,590.5L803.5,590.3L804.5,590.1L805.1,590L806,589.7L806.7,589.5L807.5,589.2L808.1,589L809,588.6L809.5,588.3L810.2,588L811,587.5L811.5,587.2L812,586.9L812.7,586.5L813.4,586L814,585.5L814.5,585.2L815,584.8L815.5,584.4L816,584L816.6,583.5L817.3,583L818,582.5L818.5,582.2L819,581.9L819.7,581.5L820.5,581.1L821,580.8L821.6,580.5L822.5,580.1L823,579.9L823.8,579.5L824.5,579.1L825,578.9L825.9,578.5L826.5,578.2L827,578L828,577.5L828.5,577.3L829.4,577L830,576.8L831,576.5L831.5,576.4L832.5,576.1L833.2,576L834,575.9L835,575.7L836,575.5L836.5,575.5L837.5,575.3L838.5,575.1L839.1,575L840,574.8L841,574.6L841.5,574.4L842.5,574.2L843.1,574L844,573.7L844.8,573.5L845.5,573.3L846.4,573L847,572.8L848,572.5L848.5,572.3L849.5,572L850,571.8L851,571.5L851.5,571.3L852.2,571L853,570.7L853.5,570.5L854.5,570L855,569.7L855.5,569.5L856.3,569L857,568.6L857.5,568.2L858,567.9L858.6,567.5L859.3,567L859.9,566.5L860.5,566.1L861,565.7L861.5,565.3L862,564.9L862.5,564.5L863.1,564L863.8,563.5L864.4,563L865,562.6L865.5,562.2L866,561.9L866.5,561.5L867.3,561L868,560.5L868.5,560.2L869,559.9L869.6,559.5L870.5,559L871,558.8L871.6,558.5L872.5,558.1L873,557.9L874,557.5L874.5,557.4L875.5,557L876,556.8L877,556.5L877.5,556.3L878.2,556L879,555.7L879.5,555.4L880.3,555L881,554.6L881.5,554.2L882,553.9L882.6,553.5L883.3,553L884,552.6L884.5,552.3L885,552L885.9,551.5L886.5,551.2L887.1,551L888,550.7L888.6,550.5L889.5,550.3L890.5,550.1L891,550L892,549.8L893,549.7L894,549.6L894.5,549.5L895.5,549.4L896.5,549.3L897.5,549.2L898.5,549L899,549L900,548.8L901,548.6L901.8,548.5L902.5,548.4L903.5,548.2L904.3,548L905,547.8L906,547.6L906.5,547.5L907.5,547.2L908.2,547L909,546.8L909.8,546.5L910.5,546.2L911.1,546L912,545.6L912.5,545.4L913.2,545L914,544.5L914.5,544.2L915,543.8L915.5,543.4L916,543L916.5,542.2L916.8,541.5L917,541L917.2,540L917.2,539L917,538L916.8,537.5L916.5,536.8L916,536L915.6,535.5L915.2,535L914.7,534.5L914.2,534L913.6,533.5L913,533.1L912.5,532.7L912,532.4L911.3,532L910.5,531.6L910,531.4L909.2,531L908.5,530.7L907.8,530.5L907,530.2L906.3,530L905.5,529.8L904.5,529.5L904,529.4L903,529.2L902.3,529L901.5,528.8L900.5,528.6L899.6,528.5L899,528.4L898,528.2L897,528.1L896.1,528L895.5,527.9L894.5,527.8L893.5,527.8L892.5,527.7L891.5,527.7L890.5,527.7L889.5,527.6L888.5,527.6L887.5,527.6L886.5,527.5L885.5,527.5L885,527.5L884,527.4L883,527.3L882,527.3L881,527.2L880,527.1L879.3,527L878.5,526.9L877.5,526.8L876.5,526.6L875.5,526.5L875,526.4L874,526.3L873,526.2L872,526L871.5,526L870.5,525.8L869.5,525.7L868.7,525.5L868,525.4L867,525.2L866,525L865.5,525L864.5,524.9L863.5,524.9L862.5,524.9L861.5,524.9L860.6,525L860,525.1L859,525.2L858,525.3L857,525.4L856,525.5L855,525.5L854,525.4L853,525.3L852,525.1L851.5,524.9L850.5,524.6L850,524.4L849,524L848.5,523.8L847.9,523.5L847,523L846.5,522.8L846,522.5L845.2,522L844.5,521.5L844,521.2L843.5,520.9L843,520.5L842.4,520L841.7,519.5L841,519L840.5,518.6L840,518.2L839.5,517.9L839,517.5L838.2,517L837.5,516.6L837,516.3L836.3,516L835.5,515.7L835,515.5L834,515.1L833.5,514.9L832.5,514.6L832,514.5L831,514.3L830,514L829.5,513.9L828.5,513.7L827.5,513.5L827,513.4L826,513.3L825,513.1L824.3,513L823.5,512.9L822.5,512.7L821.5,512.5L821,512.4L820,512.2L819.4,512L818.5,511.7L818,511.5L817,511L816.5,510.8L816,510.5L815.1,510L814.5,509.6L814,509.3L813.5,509L812.6,508.5L812,508.2L811.5,507.9L810.7,507.5L810,507.2L809.5,506.8L809,506.4L808.4,506L807.6,505.5L807,505.2L806.5,504.9L805.8,504.5L805,504.1L804.5,503.9L803.8,503.5L803,503.1L802.5,502.9L801.6,502.5L801,502.2L800.5,502L799.5,501.5L799,501.3L798.5,501L797.5,500.5L797,500.3L796.5,500L795.5,499.5L795,499.2L794.5,498.9L793.8,498.5L793,498L792.5,497.7L792,497.3L791.5,497L790.9,496.5L790.2,496L789.6,495.5L789,495L788.5,494.6L788,494.3L787.5,493.9L787,493.5L786.4,493L785.7,492.5L785,492L784.5,491.6L784,491.3L783.5,491L782.7,490.5L782,490L781.5,489.7L781,489.4L780.2,489L779.5,488.6L779,488.3L778.5,488L777.6,487.5L777,487.1L776.5,486.8L776,486.5L775.2,486L774.5,485.5L774,485.2L773.5,484.8L773,484.4L772.5,484L771.9,483.5L771.3,483L770.8,482.5L770.2,482L769.7,481.5L769.1,481L768.5,480.5L768,480.1L767.5,479.7L767,479.3L766.5,478.9L765.9,478.5L765.2,478L764.5,477.5L764,477.2L763.5,477L762.7,476.5L762,476.1L761.5,475.9L760.8,475.5L760,475.1L759.5,474.8L758.9,474.5L758,474L757.5,473.8L757,473.5L756.1,473L755.5,472.7L755,472.4L754.3,472L753.5,471.6L753,471.3L752.4,471L751.5,470.5L751,470.3L750.4,470L749.5,469.6L749,469.3L748.3,469L747.5,468.7L747,468.4L746,468L745.5,467.7L745,467.5L744,467.3L743,467L742.5,466.9L741.5,466.6L741,466.4L740,466.1L739.5,465.9L738.5,465.5L738,465.3L737.1,465L736.5,464.8L735.8,464.5L735,464.2L734.3,464L733.5,463.8L732.6,463.5L732,463.3L731,463.1L730.5,463L729.5,462.8L728.5,462.8L727.5,462.7L726.5,462.8L725.5,462.9L725,463L724,463.3L723.9,462.5L723.7,461.5L723.6,460.5L723.5,459.6L723.3,459L723.1,458L723,457.4L722.6,456.5L722.4,456L721.5,455.6L720.6,456L720,456.3L719.5,456.6L718.7,457L718,457.3L717.3,457.5L716.5,457.5L716,457.2L715.7,456.5L715.5,455.5L715.5,455L715.5,454.2L715.5,453.5L715.7,452.5L715.9,451.5L716,450.9L716.2,450L716.5,449L716.6,448.5L716.9,447.5L717,447L717.2,446L717.4,445L717.5,444.4L717.6,443.5L717.7,442.5L717.8,441.5L717.7,440.5L717.7,439.5L717.5,438.5L717.4,438L717.1,437L717,436.5L716.5,435.5L716.3,435L716,434.5L715.5,433.8L715,433.2L714.5,432.6L714,432L713.5,431.6L713,431.1L712.5,430.7L712,430.3L711.5,429.9L710.9,429.5L710.1,429L709.5,428.7L709,428.5L708,428.1L707.5,427.9L706.5,427.7L705.5,427.7L704.5,427.7L703.5,427.9L703,428.1L702,428.5L701.5,428.7L700.9,429L700.1,429.5L699.5,429.9L699,430.3L698.5,430.7L698,431.2L697.5,431.6L697,432.1L696.5,432.7L696,433.2L695.5,433.8L695.3,434.5L695,435.5L694.8,436L694.5,436.5L694,437.3L693.7,438L693.5,438.5L693.1,439.5L693,440L692.8,441L692.7,442L692.7,443L692.6,444L692.6,445L692.5,445.6L692.3,446.5L692,447.1L691.5,447.8L691,448.3L690.5,448.6L689.8,449L689,449.3L688.3,449.5L687.5,449.7L686.5,449.7L685.5,449.7L684.5,449.6L683.8,449.5L683,449.3L682,449L681.5,448.9L680.5,448.5L680,448.3L679.1,448L678.5,447.8L677.5,447.5L677,447.4L676,447.2L675,447.2L674,447.3L673.1,447.5L672.5,447.7L671.7,448L671,448.3L670.5,448.6L669.6,449L669,449.3L668.5,449.6L667.8,450L667,450.4L666.5,450.7L666,451L665.1,451.5L664.5,451.9L664,452.2L663.5,452.5L662.8,453L662.2,453.5L661.7,454L661.3,454.5L661,455.4L660.9,456L660.9,457L661,458L660.9,459L660.8,460L660.5,460.7L660.1,461.5L659.7,462L659.2,462.5L658.6,463L658,463.4L657.5,463.6L656.5,464L656,464.1L655,464.2L654,464.1L653.5,463.9L652.9,463.5L652.5,462.9L652.2,462L652.2,461L652.4,460L652.6,459.5L653,458.5L653.2,458L653.5,457.2L653.7,456.5L653.7,455.5L653.5,455L653,454.4L652.3,454L651.5,453.7L650.8,453.5L650,453.4L649,453.2L648,453.2L647,453.1L646,453.1L645,453.1L644,453.2L643,453.2L642,453.3L641,453.3L640,453.4L639,453.4L638,453.5L637.5,453.5L636.5,453.7L635.5,453.8L634.5,453.9L634,454L633,454.3L632.1,454.5L631.5,454.7L630.5,455L630,455.2L629.2,455.5L628.5,455.8L628,456L627,456.4L626.5,456.6L625.7,457L625,457.3L624.5,457.5L623.5,458L623,458.2L622.2,458.5L621.5,458.8L620.8,459L620,459.2L619,459.3L618,459L617.5,458.8L617,458.4L616.5,457.8L616,457.3L615.5,456.7L615,456.1L614.5,455.6L614,455.2L613.5,454.8L613,454.5L612,454.1L611.5,453.9L610.5,453.8L609.5,453.7L608.5,453.8L607.5,453.9L607,454L606,454.2L605,454.5L604.5,454.6L603.5,454.9L603,455.1L602,455.5L601.5,455.7L600.7,456L600,456.3L599.5,456.6L598.9,457L598.3,457.5L597.8,458L597.4,458.5L597,459L596.5,459.8L596.1,460.5L595.9,461L595.5,461.7L595.2,462.5L594.9,463L594.5,463.9L594.2,464.5L594,465L593.5,465.9L593.2,466.5L592.9,467L592.5,467.6L592,468.4L591.6,469L591.3,469.5L590.9,470L590.5,470.6L590,471.3L589.5,471.9L589.1,472.5L588.7,473L588.4,473.5L588,474.1L587.5,474.9L587.2,475.5L586.9,476L586.5,476.6L586,477.5L585.7,478L585.3,478.5L585,479L584.5,479.6L584,480.2L583.5,480.7L583,481.1L582.4,481.5L581.5,481.9L581,482.1L580,482.3L579,482.2L578.4,482L577.5,481.5L577,481.1L576.5,480.7L576,480.1L575.5,479.5L575.1,479L574.8,478.5L574.4,478L574,477.4L573.5,476.8L573,476.3L572.5,475.7L572,475.3L571.5,474.9L570.9,474.5L570,474L569.5,473.8L568.5,473.6L568,473.5L567,473.5L566.5,473.6L565.5,473.8L565,474L564.1,474.5L563.5,474.9L563,475.3L562.5,475.8L562,476.3L561.5,476.8L561,477.3L560.5,477.7L560,478.1L559.5,478.5L558.5,479L558,479.1L557,479.1L556.1,479L555.5,478.8L554.5,478.5L554,478.3L553.3,478L552.5,477.6L552,477.4L551,477.1L550.5,476.9L549.5,476.6L549,476.5L548,476.3L547,476.2L546,476.1L545,476.1L544,476.2L543,476.3L542.2,476.5L541.5,476.7L540.8,477L540,477.5L539.5,477.9L539,478.4L538.5,479L538.2,479.5L537.9,480L537.5,480.6L537,481.5L536.6,482L536.3,482.5L535.9,483L535.4,483.5L534.8,484L534.1,484.5L533.5,484.8L533,485.1L532.2,485.5L531.5,485.8L531,486L530,486.3L529.4,486.5L528.5,486.8L527.6,487L527,487.2L526,487.5L525.5,487.7L524.8,488L524,488.5L523.5,488.9L523,489.4L522.6,490L522.3,490.5L522,491L521.6,492L521.5,492.5L521.3,493.5L521.1,494.5L521,495L520.8,496L520.7,497L520.5,497.7L520.3,498.5L520,499.4L519.7,500L519.4,500.5L519,501.1L518.5,501.7L518,502.1L517.5,502.5L516.5,503L516,503.2L515.4,503.5L514.5,503.8L514,504L513,504.3L512.5,504.5L511.5,504.8L510.9,505L510,505.3L509.4,505.5L508.5,505.8L507.9,506L507,506.3L506.3,506.5L505.5,506.8L504.7,507L504,507.2L503,507.5L502.5,507.6L501.5,507.9L501,508L500,508.2L499,508.4L498,508.5L497.4,508.5L496.8,508.5L496,508.5L495,508.3L494,508L493.5,507.8L493,507.5L492.3,507L491.8,506.5L491.4,506L491,505.3L490.5,504.5L490.2,504L489.9,503.5L489.5,502.9L489,502.3L488.5,501.8L488,501.3L487.5,501L486.5,500.5L486,500.3L485,500.1L484.4,500L483.5,500L482.7,500L482,500.1L481,500.3L480.5,500.5L479.5,501L479,501.2L478.5,501.6L477.9,502L477.4,502.5L476.9,503L476.4,503.5L476,504.1L475.5,504.9L475.2,505.5L475,506L474.8,507L474.8,508L475,508.5L475.5,509.5L475.8,510L476.2,510.5L476.6,511L477.1,511.5L477.5,512L478,512.8L478.4,513.5L478.6,514L478.9,515L478.9,516L478.7,517L478.5,517.5L478,518.3L477.5,518.9L477,519.3L476.5,519.7L475.9,520L475,520.4L474.5,520.6L473.5,520.8L472.7,521L472,521.1L471,521.3L470.3,521.5L469.5,521.8L469,522L468.2,522.5L467.7,523L467.3,523.5L466.9,524L466.5,524.8L466.2,525.5L466,526.1L465.7,527L465.5,527.9L465.4,528.5L465.2,529.5L465.1,530.5L465,531.5L465,532.5L465,533.5L465,534.3L465,535L464.9,536L464.8,537L464.7,538L464.5,539L464.4,539.5L464.1,540.5L463.9,541L463.5,542L463.2,542.5L462.9,543L463,543.5L463.3,544.5L463.6,545L464,545.8L464.5,546.4L465,547L465.5,547.5L466,547.9L466.5,548.2L467,548.5L467.9,549L468.5,549.3L469,549.5L470,549.9L470.5,550.1L471.5,550.5L472,550.7L472.9,551L473.5,551.3L474.1,551.5L475,551.9L475.5,552.2L476,552.5L476.7,553L477.3,553.5L477.8,554L478.3,554.5L478.7,555L479.1,555.5L479.5,556L480,556.7L480.5,557.4L481,558L481.4,558.5L481.9,559L482.4,559.5L483,560L483.5,560.3L484,560.7L484.6,561L485.5,561.4L486,561.6L487,561.9L487.5,562L488.5,562.3L489.5,562.4L490.1,562.5L491,562.6L492,562.7L493,562.9L493.5,563L494.5,563.3L495.2,563.5L496,563.8L496.5,564L497.3,564.5L498,564.9L498.5,565.3L499,565.6L499.5,566L500.2,566.5L500.9,567L501.5,567.4L502,567.7L502.5,568L503.3,568.5L504,568.9L504.5,569.2L505.2,569.5L506,569.9L506.5,570.1L507.5,570.5L508,570.6L509,571L509.5,571.1L510.5,571.5L511,571.6L512,571.9L512.5,572.1L513.5,572.4L514,572.6L515,572.9L515.5,573L516.5,573.3L517.5,573.5L518,573.6L519,573.8L520,573.9L521,574L521.5,574L522.5,574L523.5,574.1L524.5,574.1L525.5,574.1L526.5,574L527.5,574L528.5,574L529.5,574L530.1,574L531,574L532,574L533,573.9L534,573.9L535,573.8L536,573.8L537,573.7L538,573.7L539,573.7L540,573.7L541,573.8L542,573.9L542.5,574L543.5,574.2L544.5,574.5L545,574.6L546,575L546.5,575.2L547.3,575.5L548,575.8L548.5,576.1L549.4,576.5L550,576.8L550.5,577.1L551.3,577.5L552,577.8L552.5,578.1L553.4,578.5L554,578.8L554.5,579L555.5,579.4L556,579.6L556.9,580L557.5,580.2L558.2,580.5L559,580.8L559.5,581L560.5,581.4L561,581.5L562,581.9L562.5,582.1L563.5,582.4L564,582.6L565,583L565.5,583.1L566.5,583.5L567,583.6L568,583.9L568.5,584L569.5,584.1L570.5,584.2L571.5,584.2L572.5,584.1L573.1,584L574,583.9L575,583.7L576,583.6L577,583.6L578,583.6L579,583.7L580,583.9L580.8,584L581.5,584.2L582.5,584.4L583,584.5L584,584.8L585,585L585.5,585.1L586.5,585.4L587,585.5L588,585.8L588.8,586L589.5,586.2L590.5,586.5L591,586.6L592,586.9L592.5,587L593.5,587.3L594,587.5L595,587.8L595.6,588L596.5,588.3L597,588.5L598,588.9L598.5,589.1L599.3,589.5L600,589.8L600.5,590.1L601.4,590.5L602,590.8L602.5,591.1L603.1,591.5L603.9,592L604.5,592.4L605,592.7L605.6,593L606.5,593.5L607,593.7L607.7,594L608.5,594.3L609.4,594.5L610,594.6L611,594.7L612,594.7L613,594.6L614,594.5L614.5,594.5L615.5,594.3L616.5,594.2L617.5,594L618,594L619,593.9L620,593.8L621,593.8L622,593.9L622.8,594L623.5,594.1L624.5,594.3L625.2,594.5L626,594.7L626.8,595L627.5,595.2L628.1,595.5L629,595.8L629.5,596.1L630.5,596.5L631,596.7L631.9,597L632.5,597.2L633.4,597.5L634,597.7L635,597.9L636,598L636.5,598L637.5,598L638,598L639,597.8L640,597.6L640.5,597.4L641.5,597L642,596.8L642.7,596.5L643.5,596.1L644,595.9L644.7,595.5L645.5,595.1L646,594.9L647,594.5L647.5,594.4L648.5,594.1L649.1,594L650,593.9L651,593.8L652,593.9L653,594L653.5,594.1L654.5,594.3L655.2,594.5L656,594.7L656.7,595L657.5,595.3L658.1,595.5L659,595.8L659.5,596L660.5,596.3L661,596.5L662,596.8L662.5,597L663.5,597.4L664,597.6L665,598L665.5,598.2L666,598.5L666.9,599L667.5,599.4L668,599.8L668.5,600.2L669,600.6L669.5,601.1L670,601.6L670.5,602.2L671,602.6L671.6,603L672.5,603.1L673,603Z" fill="none" stroke="#1c1c1c" stroke-width="2.4" stroke-linejoin="round" stroke-linecap="round" />
<path d="M663.5,601 C663.5,611 665.5,621.5 671.5,621.5 C677.5,621.5 679.5,613 680,603" fill="none" stroke="#1c1c1c" stroke-width="2.4" stroke-linejoin="round" stroke-linecap="round" />
<path d="M688,600 C689,606 691,611 694,610 C697,609 697,603 698,598" fill="none" stroke="#1c1c1c" stroke-width="2.2" stroke-linejoin="round" stroke-linecap="round" />
<path d="M649.4,676.9C649.6,674.5 652.1,672.2 654.8,670.4C657.5,668.6 662.2,667.7 665.6,666.1C669,664.5 672.8,663 675.3,660.7C677.8,658.4 678.9,654.4 680.7,652.1C682.5,649.8 683.8,648.1 686.1,646.7C688.5,645.3 692.4,645.3 694.8,643.5C697.1,641.7 698.1,638.6 700.2,635.9C702.4,633.2 705.4,629.3 707.7,627.3C710,625.3 712.2,623.8 714.2,624C716.2,624.2 718.9,626.6 719.6,628.4C720.3,630.2 720.1,632.8 718.5,634.8C716.9,636.8 711.3,638.2 709.9,640.2C708.5,642.2 708.8,644.5 709.9,646.7C711,648.9 713.5,651.9 716.4,653.2C719.3,654.6 723,654.4 727.1,654.8C731.2,655.1 738.3,654.1 741.2,655.3C744.1,656.5 744.2,658.9 744.4,661.8C744.6,664.7 743.5,670.4 742.3,672.6C741,674.8 738.9,675.2 736.9,674.8C734.9,674.4 732.9,671.3 730.4,670.4C727.9,669.5 724.5,669 721.8,669.4C719.1,669.8 716.6,671 714.2,672.6C711.9,674.2 709.5,677.5 707.7,679.1C705.9,680.7 707.4,681.4 703.4,682.3C699.4,683.2 690.8,684 684,684.5C677.2,685 667.4,685.6 662.4,685.6C657.4,685.6 655.9,686 653.7,684.5C651.5,683 649.2,679.2 649.4,676.9Z" fill="none" stroke="#1c1c1c" stroke-width="2.3" stroke-linejoin="round" stroke-linecap="round" />
<ellipse cx="664.5" cy="678.5" rx="7.5" ry="5.5" fill="none" stroke="#1c1c1c" stroke-width="2.2"/>
<circle cx="688.3" cy="656.4" r="2.4" fill="#1c1c1c"/>
<circle cx="701.2" cy="668.8" r="2.4" fill="#1c1c1c"/>
<path d="M660.2,870L661,870L662,869.9L663,869.9L664,869.8L665,869.7L666,869.5L666.5,869.5L667.5,869.3L668.5,869.2L669.3,869L670,868.9L671,868.6L671.6,868.5L672.5,868.3L673.4,868L674,867.8L674.9,867.5L675.5,867.3L676.2,867L677,866.6L677.5,866.4L678.3,866L679,865.6L679.5,865.3L680,865L680.6,864.5L681.3,864L681.8,863.5L682.2,863L682.6,862.5L683,862L683.5,861.1L683.7,860.5L684,859.5L684,859L684,858L683.9,857.5L683.6,856.5L683.4,856L683,855.3L682.5,854.6L682,854L681.5,853.5L681,853.1L680.5,852.7L680,852.4L679.5,852L678.6,851.5L678,851.2L677.5,850.9L676.5,850.5L676,850.3L675.2,850L674.5,849.8L673.6,849.5L673,849.3L672,849.1L671.5,848.9L670.5,848.7L669.5,848.5L669,848.4L668,848.3L667,848.1L666,848L665.5,848L664.5,847.9L663.5,847.8L662.5,847.7L661.5,847.6L660.5,847.6L659.5,847.6L658.5,847.5L657.5,847.5L656.5,847.5L655.5,847.5L654.5,847.5L653.5,847.5L652.5,847.6L651.5,847.6L650.5,847.6L649.5,847.7L648.5,847.8L647.5,847.9L646.5,848L646,848.1L645,848.2L644,848.4L643.2,848.5L642.5,848.6L641.5,848.9L640.9,849L640,849.2L639.1,849.5L638.5,849.7L637.6,850L637,850.2L636.3,850.5L635.5,850.8L635,851.1L634.2,851.5L633.5,851.9L633,852.2L632.5,852.6L632,853L631.4,853.5L630.9,854L630.4,854.5L630,855.1L629.5,855.9L629.2,856.5L629,857.3L628.9,858L628.9,859L629,859.7L629.2,860.5L629.5,861.2L630,862L630.3,862.5L630.7,863L631.2,863.5L631.7,864L632.3,864.5L632.9,865L633.5,865.4L634,865.7L634.5,866L635.4,866.5L636,866.8L636.5,867L637.5,867.4L638,867.6L639,868L639.5,868.1L640.5,868.4L641,868.5L642,868.8L643,869L643.5,869.1L644.5,869.2L645.5,869.4L646.4,869.5L647,869.6L648,869.7L649,869.7L650,869.8L651,869.9L652,869.9L653,870L654,870L654.5,870L655.5,870L656.5,870L657.5,870L658.5,870L659.5,870L660.2,870ZM662.2,878L663,878L664,877.9L665,877.9L666,877.8L667,877.8L668,877.7L669,877.6L670,877.5L670.5,877.5L671.5,877.4L672.5,877.3L673.5,877.2L674.5,877L675,877L676,876.8L677,876.7L678,876.5L678.5,876.4L679.5,876.2L680.5,876L681,875.9L682,875.7L682.8,875.5L683.5,875.3L684.5,875.1L685,874.9L686,874.6L686.5,874.4L687.5,874.1L688,873.9L689,873.5L689.5,873.3L690.1,873L691,872.6L691.5,872.3L692.1,872L692.9,871.5L693.5,871.1L694,870.8L694.5,870.4L695.1,870L695.7,869.5L696.2,869L696.8,868.5L697.2,868L697.7,867.5L698.1,867L698.5,866.5L699,865.8L699.5,865L699.8,864.5L700,864L700.5,863.1L700.8,862.5L701,861.9L701.4,861L701.5,860.5L701.8,859.5L702,858.9L702.2,858L702.4,857L702.5,856.4L702.6,855.5L702.7,854.5L702.7,853.5L702.7,852.5L702.7,851.5L702.6,850.5L702.5,850L702.3,849L702,848.1L701.8,847.5L701.5,846.8L701.1,846L700.8,845.5L700.5,844.9L700,844.2L699.5,843.5L699.1,843L698.7,842.5L698.2,842L697.7,841.5L697.2,841L696.6,840.5L696.1,840L695.5,839.6L695,839.2L694.5,838.8L694,838.5L693.3,838L692.5,837.5L692,837.2L691.5,837L690.6,836.5L690,836.2L689.5,836L688.5,835.5L688,835.4L687.1,835L686.5,834.8L685.6,834.5L685,834.3L684,834.1L683.5,833.9L682.5,833.7L681.6,833.5L681,833.4L680,833.2L679.1,833L678.5,832.9L677.5,832.7L676.5,832.6L676,832.5L675,832.4L674,832.2L673,832.1L672.3,832L671.5,831.9L670.5,831.8L669.5,831.7L668.5,831.6L667.5,831.6L666.5,831.5L666,831.5L665,831.5L664,831.4L663,831.4L662,831.4L661,831.4L660,831.4L659,831.4L658,831.4L657,831.4L656,831.3L655,831.3L654,831.3L653,831.3L652,831.3L651,831.3L650,831.2L649,831.3L648,831.3L647,831.3L646,831.3L645,831.4L644,831.5L643.4,831.5L642.5,831.6L641.5,831.7L640.5,831.8L639.5,831.9L638.9,832L638,832.1L637,832.3L636,832.4L635.5,832.5L634.5,832.7L633.5,832.9L632.9,833L632,833.2L631,833.5L630.5,833.6L629.5,833.9L629,834L628,834.3L627.5,834.5L626.5,834.8L626,835L625,835.4L624.5,835.7L623.7,836L623,836.4L622.5,836.6L621.8,837L621,837.5L620.5,837.8L620,838.1L619.5,838.5L618.8,839L618.2,839.5L617.6,840L617,840.5L616.5,841L616.1,841.5L615.6,842L615.2,842.5L614.8,843L614.5,843.5L614,844.3L613.6,845L613.3,845.5L613,846.3L612.7,847L612.5,847.6L612.2,848.5L612,849.4L611.9,850L611.7,851L611.6,852L611.5,852.8L611.5,853.5L611.4,854.5L611.4,855.5L611.4,856.5L611.5,857.5L611.5,858L611.6,859L611.8,860L612,860.7L612.2,861.5L612.5,862.2L612.8,863L613.1,863.5L613.5,864.3L614,865L614.3,865.5L614.7,866L615.1,866.5L615.6,867L616.1,867.5L616.6,868L617.2,868.5L617.8,869L618.4,869.5L619,869.9L619.5,870.3L620,870.6L620.5,871L621.3,871.5L622,871.9L622.5,872.2L623,872.5L624,873L624.5,873.2L625.1,873.5L626,873.9L626.5,874.1L627.5,874.5L628,874.7L629,875L629.5,875.2L630.5,875.5L631,875.6L632,875.8L632.6,876L633.5,876.2L634.5,876.4L635,876.5L636,876.7L637,876.8L638,877L638.5,877L639.5,877.1L640.5,877.2L641.5,877.3L642.5,877.3L643.5,877.4L644.5,877.4L645.5,877.4L646.5,877.5L647.5,877.5L648.3,877.5L649,877.5L650,877.6L651,877.6L652,877.7L653,877.7L654,877.8L655,877.8L656,877.9L657,877.9L658,878L659,878L659.5,878L660.5,878L661.5,878L662.2,878ZM637.6,882L638.5,882L639.5,881.9L640.5,881.8L641.5,881.8L642.5,881.7L643.5,881.6L644.3,881.5L645,881.4L646,881.4L647,881.3L648,881.3L649,881.3L650,881.3L651,881.3L652,881.4L653,881.5L653.7,881.5L654.5,881.6L655.5,881.6L656.5,881.7L657.5,881.7L658.5,881.8L659.5,881.8L660.5,881.8L661.5,881.9L662.5,881.9L663.5,881.9L664.5,881.9L665.5,881.8L666.5,881.8L667.5,881.8L668.5,881.8L669.5,881.7L670.5,881.7L671.5,881.6L672.5,881.6L673.5,881.5L674,881.5L675,881.4L676,881.3L677,881.2L678,881.1L678.6,881L679.5,880.9L680.5,880.7L681.5,880.6L682.4,880.5L683,880.4L684,880.3L685,880.2L686,880.1L686.6,880L687.5,879.9L688.5,879.8L689.5,879.7L690.5,879.6L691,879.5L692,879.4L693,879.2L694,879.1L694.6,879L695.5,878.9L696.5,878.7L697.5,878.5L698,878.4L699,878.2L700,878L700.5,877.9L701.5,877.7L702.5,877.5L703,877.4L704,877.2L705,877L705.5,876.9L706.5,876.7L707.2,876.5L708,876.3L709,876.1L709.5,875.9L710.5,875.7L711,875.5L712,875.2L712.7,875L713.5,874.7L714.1,874.5L715,874.2L715.5,874L716.5,873.6L717,873.3L717.8,873L718.5,872.6L719,872.4L719.7,872L720.5,871.6L721,871.3L721.5,871L722.3,870.5L723,870.1L723.5,869.8L724,869.5L724.7,869L725.5,868.5L726,868.1L726.5,867.8L727,867.5L727.7,867L728.3,866.5L729,866L729.5,865.6L730,865.1L730.5,864.7L731,864.2L731.5,863.7L732,863.1L732.4,862.5L732.8,862L733.1,861.5L733.5,860.8L733.9,860L734.1,859.5L734.4,858.5L734.6,858L734.8,857L735,856.2L735.1,855.5L735.3,854.5L735.5,853.7L735.6,853L735.8,852L736,851.2L736.1,850.5L736.3,849.5L736.5,848.5L736.5,848L736.5,847L736.5,846.2L736.4,845.5L736.2,844.5L736,844L735.5,843L735.3,842.5L734.9,842L734.5,841.4L734,840.8L733.5,840.2L733,839.7L732.5,839.2L732,838.8L731.5,838.3L731,837.9L730.5,837.5L729.9,837L729.2,836.5L728.5,836L728,835.6L727.5,835.3L727,834.9L726.4,834.5L725.7,834L725,833.5L724.5,833.1L724,832.8L723.5,832.5L722.8,832L722.1,831.5L721.5,831.1L721,830.8L720.5,830.5L719.7,830L719,829.6L718.5,829.3L718,829L717.1,828.5L716.5,828.2L716,828L715,827.5L714.5,827.3L713.9,827L713,826.7L712.5,826.5L711.5,826.1L711,825.9L710,825.6L709.5,825.5L708.5,825.2L707.6,825L707,824.9L706,824.6L705.3,824.5L704.5,824.3L703.5,824.2L702.5,824L702,823.9L701,823.8L700,823.7L699,823.6L698.5,823.5L697.5,823.4L696.5,823.3L695.5,823.2L694.5,823.1L693.6,823L693,822.9L692,822.8L691,822.7L690,822.6L689.5,822.5L688.5,822.4L687.5,822.2L686.5,822.1L686,822L685,821.8L684,821.7L683,821.5L682.5,821.5L681.5,821.3L680.5,821.2L679.5,821.1L678.5,821L678,821L677,820.9L676,820.8L675,820.7L674,820.7L673,820.6L672,820.6L671,820.6L670,820.5L669,820.5L668.5,820.5L667.5,820.5L666.5,820.5L665.5,820.4L664.5,820.4L663.5,820.4L662.5,820.4L661.5,820.4L660.5,820.4L659.5,820.4L658.5,820.3L657.5,820.3L656.5,820.2L655.5,820.2L654.5,820.2L653.5,820.2L652.5,820.2L651.5,820.2L650.5,820.2L649.5,820.2L648.5,820.2L647.5,820.2L646.5,820.2L645.5,820.3L644.5,820.3L643.5,820.4L642.5,820.4L641.7,820.5L641,820.5L640,820.6L639,820.7L638,820.7L637,820.7L636,820.7L635,820.7L634,820.6L633,820.6L632,820.6L631,820.5L630.3,820.5L629.5,820.5L628.5,820.5L627.5,820.4L626.5,820.5L625.5,820.5L624.6,820.5L624,820.5L623,820.6L622,820.6L621,820.7L620,820.8L619,820.9L618,821L617.5,821L616.5,821.2L615.5,821.3L614.5,821.5L614,821.6L613,821.8L612.1,822L611.5,822.1L610.5,822.4L610,822.5L609,822.8L608.4,823L607.5,823.3L606.8,823.5L606,823.8L605.3,824L604.5,824.3L603.9,824.5L603,824.8L602.5,825L601.5,825.4L601,825.5L600,825.9L599.5,826.1L598.6,826.5L598,826.8L597.5,827L596.5,827.4L596,827.7L595.3,828L594.5,828.4L594,828.7L593.5,829L592.6,829.5L592,829.9L591.5,830.2L591,830.6L590.5,831L589.8,831.5L589.2,832L588.7,832.5L588.1,833L587.6,833.5L587.2,834L586.7,834.5L586.3,835L585.9,835.5L585.5,836L585,836.7L584.5,837.5L584.2,838L583.9,838.5L583.5,839.4L583.3,840L583,840.7L582.8,841.5L582.5,842.5L582.4,843L582.3,844L582.2,845L582.1,846L582.1,847L582.1,848L582.1,849L582.1,850L582.1,851L582.2,852L582.2,853L582.2,854L582.3,855L582.4,856L582.5,857L582.5,857.5L582.7,858.5L582.9,859.5L583,860L583.2,861L583.5,862L583.7,862.5L584,863.5L584.2,864L584.5,864.8L584.8,865.5L585.1,866L585.5,866.7L586,867.5L586.3,868L586.7,868.5L587.1,869L587.5,869.5L588,870L588.5,870.5L589,871L589.6,871.5L590.2,872L590.9,872.5L591.5,872.9L592,873.3L592.5,873.6L593.2,874L594,874.4L594.5,874.7L595.1,875L596,875.5L596.5,875.7L597.2,876L598,876.3L598.5,876.5L599.5,876.9L600,877L601,877.4L601.5,877.5L602.5,877.8L603.3,878L604,878.2L605,878.4L605.5,878.5L606.5,878.7L607.5,878.9L608,879L609,879.2L610,879.3L611,879.5L611.5,879.5L612.5,879.7L613.5,879.8L614.5,879.9L615,880L616,880.1L617,880.3L618,880.4L618.5,880.5L619.5,880.7L620.5,880.8L621.5,881L622,881.1L623,881.2L624,881.4L625,881.5L625.5,881.5L626.5,881.7L627.5,881.7L628.5,881.8L629.5,881.9L630.5,881.9L631.5,882L632.4,882L633,882L634,882L635,882L636,882L637,882L637.6,882ZM640.3,886L641,885.9L642,885.8L643,885.6L644,885.5L644.5,885.5L645.5,885.3L646.5,885.3L647.5,885.2L648.5,885.2L649.5,885.1L650.5,885.2L651.5,885.2L652.5,885.3L653.5,885.4L654.5,885.4L655.2,885.5L656,885.6L656.8,885.5L657.5,885.5L658,885.5L659,885.6L660,885.7L661,885.7L662,885.7L663,885.8L664,885.8L665,885.8L666,885.8L667,885.9L668,885.9L669,885.9L670,885.9L671,885.8L672,885.8L673,885.7L674,885.6L674.5,885.5L675.5,885.3L676.5,885.2L677.3,885L678,884.8L679,884.6L679.5,884.5L680.5,884.3L681.5,884.1L682,884L683,883.8L684,883.6L684.9,883.5L685.5,883.4L686.5,883.3L687.5,883.2L688.5,883.1L689.5,883.1L690.5,883L691,883L692,882.9L693,882.8L694,882.8L695,882.7L696,882.5L696.5,882.5L697.5,882.4L698.5,882.2L699.5,882.1L700.1,882L701,881.9L702,881.7L703,881.6L703.5,881.5L704.5,881.3L705.5,881.2L706.5,881L707,880.9L708,880.8L709,880.6L709.5,880.5L710.5,880.3L711.5,880.1L712,880L713,879.8L714,879.5L714.5,879.4L715.5,879.2L716.3,879L717,878.8L718,878.6L718.5,878.4L719.5,878.2L720.1,878L721,877.8L722,877.5L722.5,877.3L723.5,877.1L724,876.9L725,876.6L725.5,876.4L726.5,876.1L727,875.9L728,875.6L728.5,875.4L729.4,875L730,874.7L730.5,874.5L731.5,874L732,873.7L732.5,873.5L733.4,873L734,872.7L734.5,872.4L735.1,872L736,871.5L736.5,871.2L737,870.9L737.6,870.5L738.4,870L739,869.6L739.5,869.3L740,869L740.9,868.5L741.5,868.1L742,867.8L742.6,867.5L743.5,867L744,866.8L744.5,866.5L745.4,866L746,865.6L746.5,865.3L747,865L747.7,864.5L748.3,864L748.8,863.5L749.2,863L749.7,862.5L750.1,862L750.5,861.4L751,860.8L751.5,860.1L751.9,859.5L752.3,859L752.7,858.5L753.2,858L753.6,857.5L754.1,857L754.6,856.5L755.1,856L755.5,855.5L756,855L756.5,854.3L757,853.5L757.3,853L757.5,852.4L757.7,851.5L757.8,850.5L757.7,849.5L757.5,848.5L757.4,848L757,847.2L756.6,846.5L756.3,846L755.9,845.5L755.5,845L755,844.4L754.5,843.8L754,843.3L753.5,842.7L753,842.2L752.5,841.6L752,841L751.6,840.5L751.2,840L750.8,839.5L750.4,839L750,838.5L749.5,837.9L749,837.4L748.5,836.8L748,836.3L747.5,835.7L747,835.3L746.5,834.8L746,834.3L745.5,833.9L745,833.5L744.4,833L743.8,832.5L743.1,832L742.5,831.5L742,831.1L741.5,830.7L741,830.3L740.5,829.9L739.9,829.5L739.3,829L738.6,828.5L738,828L737.5,827.7L737,827.3L736.5,827L735.7,826.5L735,826.1L734.5,825.8L734,825.5L733.1,825L732.5,824.7L732,824.5L731,824L730.5,823.8L729.9,823.5L729,823.1L728.5,822.8L727.9,822.5L727,822.1L726.5,821.8L725.9,821.5L725,821L724.5,820.8L723.9,820.5L723,820.1L722.5,819.8L721.8,819.5L721,819.2L720.5,819L719.5,818.6L719,818.5L718,818.1L717.5,818L716.5,817.7L715.7,817.5L715,817.3L714,817.1L713.5,817L712.5,816.8L711.5,816.5L711,816.4L710,816.2L709,816L708.5,815.9L707.5,815.8L706.5,815.6L706,815.5L705,815.3L704,815.1L703.2,815L702.5,814.9L701.5,814.7L700.5,814.6L700,814.5L699,814.3L698,814.2L697,814.1L696,814.1L695,814L694.4,814L693.5,814L692.5,814L691.5,813.9L690.5,813.9L689.5,813.8L688.5,813.8L687.5,813.6L686.6,813.5L686,813.4L685,813.2L684.1,813L683.5,812.9L682.5,812.6L682,812.5L681,812.2L680,812L679.5,811.9L678.5,811.7L677.5,811.5L677,811.4L676,811.3L675,811.2L674,811.1L673,811.1L672,811.1L671,811L670,811L669.5,811L668.5,810.9L667.5,810.9L666.5,810.8L665.5,810.7L664.5,810.6L664,810.5L663,810.4L662,810.3L661,810.2L660,810.1L659,810.1L658,810.1L657,810.1L656,810.1L655,810.1L654,810.2L653,810.2L652,810.3L651,810.3L650,810.3L649,810.3L648,810.4L647,810.4L646,810.4L645,810.5L644.5,810.5L643.5,810.6L642.5,810.6L641.5,810.7L640.5,810.8L639.5,810.9L638.5,810.9L637.6,811L637,811L636,811.1L635,811.1L634,811.1L633,811.1L632,811.1L631,811L630,811L629.4,811L628.5,811L627.5,811L626.7,811L626,811L625,811L624,811.1L623,811.1L622,811.1L621,811.2L620,811.2L619,811.2L618,811.3L617,811.3L616,811.4L615,811.4L614.2,811.5L613.5,811.6L612.5,811.7L611.5,811.9L610.7,812L610,812.1L609,812.3L608.3,812.5L607.5,812.7L606.5,812.9L606,813.1L605,813.3L604.2,813.5L603.5,813.7L602.5,813.9L602,814L601,814.3L600.1,814.5L599.5,814.6L598.5,814.9L598,815L597,815.3L596.1,815.5L595.5,815.7L594.5,816L594,816.2L593.2,816.5L592.5,816.8L592,817L591.1,817.5L590.5,817.9L590,818.2L589.5,818.5L588.9,819L588.3,819.5L587.8,820L587.3,820.5L586.9,821L586.4,821.5L586,822.1L585.5,822.8L585,823.5L584.7,824L584.4,824.5L584,825.2L583.5,826L583.2,826.5L583,827L582.5,827.8L582.1,828.5L581.9,829L581.5,829.7L581,830.5L580.8,831L580.5,831.5L580,832.4L579.7,833L579.4,833.5L579,834.4L578.7,835L578.5,835.5L578.1,836.5L577.9,837L577.5,838L577.4,838.5L577.1,839.5L577,840.2L576.9,841L576.7,842L576.6,843L576.6,844L576.6,845L576.6,846L576.6,847L576.6,848L576.7,849L576.7,850L576.8,851L576.9,852L577,852.5L577.1,853.5L577.3,854.5L577.4,855.5L577.5,856L577.7,857L577.9,858L578,858.7L578.1,859.5L578.3,860.5L578.5,861.5L578.6,862L578.7,863L578.9,864L579,864.5L579.2,865.5L579.4,866.5L579.5,867L579.8,868L580,868.6L580.3,869.5L580.5,870L581,871L581.2,871.5L581.5,872L582,872.7L582.5,873.4L583,874L583.5,874.5L584,875L584.5,875.4L585,875.7L585.5,876.1L586.1,876.5L587,877L587.5,877.3L588,877.5L588.9,878L589.5,878.2L590.1,878.5L591,878.9L591.5,879.1L592.5,879.5L593,879.6L594,880L594.5,880.2L595.5,880.5L596,880.7L597,881L597.5,881.1L598.5,881.4L599,881.5L600,881.8L601,882L601.5,882.1L602.5,882.4L603.2,882.5L604,882.7L605,882.9L605.7,883L606.5,883.1L607.5,883.3L608.5,883.5L609,883.6L610,883.7L611,883.8L612,884L612.5,884L613.5,884.2L614.5,884.3L615.5,884.4L616,884.5L617,884.6L618,884.8L619,884.9L619.5,885L620.5,885.2L621.5,885.3L622.4,885.5L623,885.6L624,885.7L625,885.9L625.9,886L626.5,886.1L627.5,886.2L628.5,886.3L629.5,886.3L630.5,886.4L631.5,886.4L632.5,886.4L633.5,886.4L634.5,886.4L635.5,886.4L636.5,886.3L637.5,886.3L638.5,886.2L639.5,886.1L640.3,886ZM634.9,890.5L635.5,890.5L636.5,890.4L637.5,890.3L638.5,890.2L639.5,890.1L640.5,890L641,889.9L642,889.8L643,889.7L644,889.5L644.5,889.5L645.5,889.4L646.5,889.3L647.5,889.2L648.5,889.2L649.5,889.1L650.5,889.2L651.5,889.2L652.5,889.3L653.5,889.4L654.5,889.5L655,889.5L656,889.6L656.9,889.5L657.5,889.5L658,889.6L659,889.7L660,889.8L661,889.9L662,889.9L663,890L663.5,890L664.5,890L665.5,890.1L666.5,890.1L667.5,890.2L668.5,890.2L669.5,890.2L670.5,890.1L671.5,890.1L672,890L673,889.8L674,889.6L674.6,889.5L675.5,889.2L676.3,889L677,888.8L677.7,888.5L678.5,888.2L679.1,888L680,887.7L680.5,887.5L681.5,887.2L682.1,887L683,886.8L684,886.5L684.5,886.4L685.5,886.3L686.5,886.2L687.5,886.1L688.5,886L689.5,886L690.5,886L691.5,886L692.5,886.1L693.5,886.1L694.5,886.1L695.5,886L696,886L697,885.9L698,885.9L699,885.7L700,885.6L700.7,885.5L701.5,885.4L702.5,885.2L703.5,885L704,884.9L705,884.8L706,884.6L706.5,884.5L707.5,884.3L708.5,884L709,883.9L710,883.7L710.9,883.5L711.5,883.3L712.5,883.1L713,883L714,882.7L715,882.5L715.5,882.4L716.5,882.1L717.1,882L718,881.8L719,881.6L719.6,881.5L720.5,881.3L721.5,881.2L722.5,881L723,880.9L724,880.8L725,880.6L725.9,880.5L726.5,880.4L727.5,880.2L728.5,880L729,879.9L730,879.6L730.5,879.5L731.5,879.2L732,879L733,878.6L733.5,878.4L734.4,878L735,877.7L735.5,877.4L736.4,877L737,876.6L737.5,876.4L738.1,876L739,875.5L739.5,875.2L740,874.9L740.8,874.5L741.5,874.2L742,873.9L743,873.5L743.5,873.3L744.4,873L745,872.8L746,872.6L746.5,872.5L747.5,872.3L748.5,872.1L749.1,872L750,871.8L751,871.5L751.5,871.3L752.2,871L753,870.6L753.5,870.3L754,869.9L754.5,869.5L755.1,869L755.5,868.5L756,868L756.5,867.4L757,866.7L757.5,866.1L758,865.5L758.5,865L759,864.5L759.5,864.1L760,863.7L760.5,863.3L761,863L761.9,862.5L762.5,862.2L763,861.9L763.8,861.5L764.5,861.1L765,860.8L765.5,860.5L766.1,860L766.6,859.5L767,859L767.5,858.3L768,857.5L768.2,857L768.5,856.3L768.8,855.5L769,855L769.3,854L769.5,853.5L769.8,852.5L769.9,851.5L770,851L770.1,850L770.1,849L770,848.3L769.8,847.5L769.5,846.6L769.2,846L768.9,845.5L768.5,844.9L768,844.3L767.5,843.7L767,843.2L766.5,842.7L766,842.2L765.5,841.8L765,841.4L764.5,841L763.9,840.5L763.3,840L762.6,839.5L762,839L761.5,838.7L761,838.3L760.5,837.9L760,837.5L759.3,837L758.7,836.5L758.1,836L757.6,835.5L757.1,835L756.6,834.5L756.1,834L755.6,833.5L755.2,833L754.8,832.5L754.3,832L753.9,831.5L753.5,831L753,830.5L752.5,829.9L752,829.4L751.5,828.9L751,828.4L750.5,827.9L750,827.5L749.3,827L748.6,826.5L748,826.1L747.5,825.8L746.9,825.5L746,825.1L745.5,824.8L744.8,824.5L744,824.1L743.5,823.9L742.7,823.5L742,823.1L741.5,822.9L740.8,822.5L740,822.1L739.5,821.8L738.9,821.5L738,821L737.5,820.8L737,820.5L736,820L735.5,819.8L734.9,819.5L734,819.1L733.5,818.9L732.5,818.5L732,818.3L731.3,818L730.5,817.7L730,817.4L729,817L728.5,816.8L727.8,816.5L727,816.2L726.5,816L725.5,815.6L725,815.4L724,815.1L723.5,814.9L722.5,814.7L721.9,814.5L721,814.3L720,814.1L719.3,814L718.5,813.9L717.5,813.7L716.5,813.5L716,813.4L715,813.3L714,813.1L713.5,813L712.5,812.8L711.5,812.6L711,812.5L710,812.3L709,812L708.5,811.9L707.5,811.6L706.9,811.5L706,811.3L705.1,811L704.5,810.8L703.5,810.6L703,810.4L702,810.1L701.4,810L700.5,809.8L699.5,809.6L699,809.5L698,809.4L697,809.3L696,809.2L695,809.2L694,809.2L693,809.3L692,809.3L691,809.3L690,809.3L689,809.2L688,809L687.5,808.9L686.5,808.6L686,808.5L685,808.1L684.5,807.9L683.5,807.5L683,807.3L682.2,807L681.5,806.8L680.8,806.5L680,806.3L679,806L678.5,805.9L677.5,805.7L676.5,805.6L675.9,805.5L675,805.5L674,805.4L673,805.4L672,805.5L671,805.5L670,805.5L669,805.4L668,805.4L667,805.2L666,805.1L665.5,805L664.5,804.8L663.5,804.6L662.6,804.5L662,804.4L661,804.3L660,804.2L659,804.2L658,804.2L657,804.2L656,804.2L655,804.2L654,804.3L653,804.3L652,804.3L651,804.4L650,804.4L649,804.4L648,804.4L647,804.4L646,804.4L645,804.4L644,804.4L643,804.4L642,804.4L641,804.4L640,804.4L639,804.4L638,804.4L637,804.4L636,804.3L635,804.3L634,804.2L633,804.1L632,804L631.2,804L630.5,804L629.5,804L628.5,803.9L627.5,804L626.6,804L626,804L625,804.1L624,804.2L623,804.2L622,804.3L621,804.3L620,804.4L619,804.5L618.3,804.5L617.5,804.5L616.5,804.6L615.5,804.7L614.5,804.8L613.5,804.9L613,805L612,805.2L611,805.4L610.5,805.5L609.5,805.7L608.5,806L608,806.1L607,806.3L606,806.5L605.5,806.6L604.5,806.8L603.5,806.9L603,807L602,807.1L601,807.2L600,807.3L599,807.5L598.5,807.5L597.5,807.7L596.5,807.8L595.7,808L595,808.2L594,808.4L593.5,808.6L592.5,808.9L592,809.1L591.1,809.5L590.5,809.8L590,810.1L589.2,810.5L588.5,810.9L588,811.2L587.5,811.5L586.9,812L586.2,812.5L585.6,813L585,813.5L584.5,814L584,814.5L583.5,815L583.1,815.5L582.7,816L582.4,816.5L582,817.1L581.5,818L581.3,818.5L581,819.1L580.6,820L580.4,820.5L580.1,821.5L579.9,822L579.6,823L579.4,823.5L579.1,824.5L578.9,825L578.5,826L578.3,826.5L578,827.2L577.6,828L577.4,828.5L577,829.3L576.7,830L576.4,830.5L576,831.3L575.6,832L575.4,832.5L575,833.2L574.6,834L574.4,834.5L574,835.4L573.8,836L573.5,836.7L573.2,837.5L573,838.2L572.8,839L572.5,840L572.4,840.5L572.2,841.5L572,842.5L571.9,843L571.7,844L571.6,845L571.5,845.9L571.4,846.5L571.4,847.5L571.3,848.5L571.3,849.5L571.3,850.5L571.4,851.5L571.5,852.1L571.7,853L571.9,854L572,854.5L572.3,855.5L572.5,856.2L572.8,857L573,857.8L573.2,858.5L573.5,859.5L573.6,860L573.8,861L574,861.9L574.1,862.5L574.2,863.5L574.3,864.5L574.4,865.5L574.5,866.2L574.6,867L574.7,868L574.8,869L575,870L575.1,870.5L575.4,871.5L575.6,872L576,873L576.2,873.5L576.5,874.1L577,874.9L577.4,875.5L577.7,876L578.1,876.5L578.6,877L579,877.5L579.6,878L580.1,878.5L580.7,879L581.4,879.5L582,879.9L582.5,880.2L583.1,880.5L584,881L584.5,881.2L585.2,881.5L586,881.8L586.5,882L587.5,882.4L588,882.5L589,882.9L589.5,883L590.5,883.3L591.1,883.5L592,883.8L592.9,884L593.5,884.2L594.5,884.4L595,884.6L596,884.8L596.9,885L597.5,885.1L598.5,885.4L599.2,885.5L600,885.7L601,885.9L601.6,886L602.5,886.2L603.5,886.4L604,886.5L605,886.7L606,886.9L606.5,887L607.5,887.2L608.5,887.4L609.2,887.5L610,887.6L611,887.8L612,887.9L612.5,888L613.5,888.1L614.5,888.2L615.5,888.4L616.5,888.5L617,888.5L618,888.7L619,888.8L620,889L620.5,889.1L621.5,889.2L622.5,889.4L623,889.5L624,889.7L625,889.8L626,890L626.5,890.1L627.5,890.2L628.5,890.3L629.5,890.4L630.5,890.5L631,890.5L632,890.5L633,890.5L634,890.5L634.9,890.5ZM670.3,893.5L671,893.4L672,893.2L672.9,893L673.5,892.8L674.5,892.5L675,892.3L675.7,892L676.5,891.7L677,891.4L677.9,891L678.5,890.7L679,890.5L680,890L680.5,889.8L681.2,889.5L682,889.2L682.5,889L683.5,888.7L684.2,888.5L685,888.4L686,888.2L687,888.2L688,888.2L689,888.2L690,888.3L691,888.4L691.8,888.5L692.5,888.6L693.5,888.7L694.5,888.8L695.5,888.9L696.5,888.9L697.5,888.9L698.5,888.9L699.5,888.8L700.5,888.7L701.5,888.5L702,888.4L703,888.2L703.7,888L704.5,887.8L705.5,887.5L706,887.4L707,887.1L707.5,887L708.5,886.7L709.1,886.5L710,886.2L710.8,886L711.5,885.8L712.5,885.5L713,885.4L714,885.1L714.5,884.9L715.5,884.7L716.2,884.5L717,884.3L718,884.1L718.6,884L719.5,883.9L720.5,883.7L721.5,883.6L722.5,883.5L723,883.5L724,883.4L725,883.4L726,883.3L727,883.3L728,883.2L729,883.1L729.9,883L730.5,882.9L731.5,882.7L732.2,882.5L733,882.2L733.7,882L734.5,881.7L735,881.5L736,881.1L736.5,880.8L737.2,880.5L738,880.1L738.5,879.9L739.3,879.5L740,879.2L740.5,878.9L741.4,878.5L742,878.3L742.7,878L743.5,877.7L744.2,877.5L745,877.3L746,877.1L746.6,877L747.5,876.9L748.5,876.8L749.5,876.7L750.5,876.6L751.5,876.5L752,876.4L753,876.2L753.8,876L754.5,875.8L755.2,875.5L756,875.1L756.5,874.9L757.3,874.5L758,874.1L758.5,873.8L759,873.5L759.8,873L760.5,872.6L761,872.3L761.7,872L762.5,871.7L763.1,871.5L764,871.3L765,871.2L766,871.1L767,871L767.5,871L768.5,870.9L769.5,870.6L770,870.5L771,870L771.5,869.7L772,869.4L772.5,869L773,868.5L773.5,867.9L774,867.3L774.5,866.5L774.8,866L775.1,865.5L775.5,864.7L775.8,864L776.1,863.5L776.5,862.6L776.8,862L777.1,861.5L777.5,860.8L778,860.1L778.5,859.5L778.9,859L779.4,858.5L780,858L780.5,857.6L781,857.2L781.5,856.9L782.1,856.5L782.8,856L783.4,855.5L784,855L784.5,854.6L785,854L785.4,853.5L785.8,853L786.1,852.5L786.5,851.6L786.7,851L786.9,850L787,849.4L787.1,848.5L787.1,847.5L787,846.8L786.8,846L786.6,845L786.3,844.5L786,843.8L785.5,843.1L785,842.5L784.6,842L784,841.5L783.5,841.1L783,840.7L782.5,840.4L782,840L781.1,839.5L780.5,839.1L780,838.8L779.4,838.5L778.5,838.1L778,837.8L777.3,837.5L776.5,837.1L776,836.9L775,836.6L774.5,836.5L773.5,836.2L772.5,836L772,835.9L771,835.7L770,835.6L769.5,835.5L768.5,835.3L767.6,835L767,834.8L766.3,834.5L765.5,834.1L765,833.8L764.5,833.5L763.8,833L763.2,832.5L762.7,832L762.2,831.5L761.8,831L761.5,830.5L761,829.8L760.5,829L760.3,828.5L760,827.9L759.6,827L759.4,826.5L759,825.5L758.8,825L758.5,824.1L758.3,823.5L758,822.6L757.8,822L757.5,821.1L757.3,820.5L757,819.7L756.7,819L756.5,818.4L756.1,817.5L755.8,817L755.5,816.5L755,815.8L754.5,815.1L754,814.6L753.5,814.2L753,813.9L752.4,813.5L751.5,813.1L751,812.9L750,812.7L749,812.6L748,812.6L747,812.8L746,813L745.5,813.1L744.5,813.4L744,813.5L743,813.8L742.3,814L741.5,814.2L740.5,814.3L739.5,814.4L738.5,814.4L737.5,814.3L736.5,814.2L735.5,814.1L735,814L734,813.8L733,813.5L732.5,813.4L731.5,813.1L731,813L730,812.7L729.4,812.5L728.5,812.2L727.7,812L727,811.8L726,811.6L725.5,811.5L724.5,811.3L723.5,811.1L722.5,811L722,811L721,810.9L720,810.9L719,810.8L718,810.7L717,810.7L716,810.6L715.3,810.5L714.5,810.4L713.5,810.2L712.5,810L712,809.9L711,809.7L710.2,809.5L709.5,809.3L708.5,809L708,808.8L707,808.5L706.5,808.3L705.7,808L705,807.7L704.4,807.5L703.5,807.1L703,807L702,806.6L701.5,806.4L700.5,806.1L700,806L699,805.7L698,805.6L697.3,805.5L696.5,805.4L695.5,805.4L694.5,805.4L693.5,805.5L692.5,805.5L691.5,805.5L690.5,805.4L689.5,805.3L688.5,805.1L688,804.9L687,804.6L686.5,804.4L685.7,804L685,803.7L684.5,803.4L683.7,803L683,802.7L682.5,802.4L681.7,802L681,801.6L680.5,801.4L679.7,801L679,800.7L678.5,800.5L677.5,800.1L677,800L676,799.7L675.1,799.5L674.5,799.4L673.5,799.3L672.5,799.3L671.5,799.3L670.5,799.4L669.5,799.5L669,799.5L668,799.6L667,799.6L666,799.6L665,799.6L664,799.5L663,799.5L662.5,799.5L661.5,799.5L660.5,799.5L660,799.5L659,799.5L658,799.6L657,799.7L656.5,799.4L655.5,799.4L654.5,799.4L653.5,799.4L652.5,799.4L651.5,799.4L650.5,799.4L649.5,799.4L648.5,799.3L647.5,799.3L646.5,799.3L645.5,799.2L644.5,799.2L643.5,799.2L642.5,799.2L641.5,799.2L640.5,799.2L639.5,799.2L638.5,799.2L637.5,799.2L636.5,799.2L635.5,799.1L634.5,799.1L633.5,799L632.8,799L632,799L631,798.9L630,798.9L629,798.9L628,799L627,799L626.5,799L625.5,799L624.5,799.1L623.5,799.1L622.5,799.2L621.5,799.2L620.5,799.3L619.5,799.3L618.5,799.4L617.5,799.4L616.5,799.5L615.6,799.5L615,799.5L614,799.6L613,799.7L612,799.9L611,800L610.5,800.1L609.5,800.3L608.5,800.4L608,800.5L607,800.7L606,800.9L605.4,801L604.5,801.1L603.5,801.3L602.5,801.4L601.8,801.5L601,801.6L600,801.7L599,801.8L598,802L597.5,802.1L596.5,802.3L595.5,802.5L595,802.6L594,802.9L593.5,803L592.5,803.4L592,803.6L591,804L590.5,804.2L589.8,804.5L589,804.9L588.5,805.2L587.9,805.5L587,806L586.5,806.3L586,806.6L585.4,807L584.6,807.5L584,807.9L583.5,808.3L583,808.7L582.5,809.1L582,809.5L581.4,810L580.8,810.5L580.3,811L579.9,811.5L579.4,812L579,812.5L578.5,813.3L578.1,814L577.8,814.5L577.5,815.2L577.2,816L577,816.8L576.8,817.5L576.7,818.5L576.5,819.5L576.5,820L576.4,821L576.2,822L576.1,823L576,823.5L575.8,824.5L575.5,825.4L575.3,826L575,826.9L574.8,827.5L574.5,828.1L574.1,829L573.8,829.5L573.5,830.2L573.1,831L572.8,831.5L572.5,832.1L572,833L571.8,833.5L571.5,834.1L571.1,835L570.9,835.5L570.5,836.5L570.3,837L570,838L569.8,838.5L569.5,839.5L569.4,840L569.1,841L569,841.5L568.7,842.5L568.5,843.3L568.3,844L568.1,845L568,845.5L567.8,846.5L567.6,847.5L567.5,848.5L567.5,849L567.5,850L567.5,850.8L567.6,851.5L567.7,852.5L567.9,853.5L568.1,854L568.4,855L568.5,855.5L568.9,856.5L569.1,857L569.5,858L569.7,858.5L570,859.5L570.2,860L570.4,861L570.5,861.5L570.7,862.5L570.8,863.5L570.9,864.5L570.9,865.5L570.9,866.5L570.8,867.5L570.8,868.5L570.9,869.5L571,870.5L571.1,871L571.3,872L571.5,872.7L571.8,873.5L572,874L572.5,875L572.8,875.5L573.1,876L573.5,876.6L574,877.2L574.5,877.9L575,878.5L575.5,879L576,879.5L576.5,880L577,880.5L577.5,881L578,881.4L578.5,881.8L579,882.2L579.5,882.5L580.3,883L581,883.4L581.5,883.7L582.1,884L583,884.4L583.5,884.7L584.4,885L585,885.2L585.7,885.5L586.5,885.8L587.3,886L588,886.2L588.9,886.5L589.5,886.7L590.5,886.9L591,887.1L592,887.3L592.7,887.5L593.5,887.7L594.5,887.9L595.1,888L596,888.2L597,888.3L597.9,888.5L598.5,888.6L599.5,888.8L600.5,888.9L601,889L602,889.2L603,889.4L603.5,889.5L604.5,889.7L605.5,890L606,890.1L607,890.3L608,890.5L608.5,890.6L609.5,890.8L610.5,891L611,891L612,891.2L613,891.3L614,891.3L615,891.4L616,891.5L616.5,891.5L617.5,891.6L618.5,891.7L619.5,891.8L620.5,891.9L621,892L622,892.2L623,892.4L623.8,892.5L624.5,892.6L625.5,892.8L626.5,893L627,893L628,893.2L629,893.3L630,893.4L631,893.4L632,893.4L633,893.5L634,893.4L635,893.4L636,893.4L637,893.3L638,893.2L639,893.1L640,893L640.5,892.9L641.5,892.8L642.5,892.7L643.5,892.6L644.1,892.5L645,892.4L646,892.3L647,892.2L648,892.2L649,892.2L650,892.2L651,892.3L652,892.3L653,892.5L653.5,892.5L654.5,892.6L655.5,892.8L656.5,892.9L657.5,893L658,893.1L659,893.3L660,893.5L660.5,893.5L661.5,893.6L662.5,893.7L663.5,893.7L664.5,893.7L665.5,893.7L666.5,893.7L667.5,893.7L668.5,893.7L669.5,893.6L670.3,893.5ZM663.7,899L664.5,898.9L665.5,898.8L666.5,898.6L667.1,898.5L668,898.3L669,898.2L669.7,898L670.5,897.8L671.5,897.5L672,897.4L673,897L673.5,896.8L674.2,896.5L675,896.1L675.5,895.9L676.2,895.5L677,895.1L677.5,894.8L678,894.5L678.8,894L679.5,893.6L680,893.3L680.6,893L681.5,892.6L682,892.4L682.9,892L683.5,891.8L684.5,891.6L685,891.5L686,891.4L687,891.4L688,891.5L688.5,891.6L689.5,891.8L690.4,892L691,892.1L692,892.4L692.5,892.5L693.5,892.7L694.5,892.9L695,893L696,893.1L697,893.2L698,893.2L699,893.1L699.9,893L700.5,892.9L701.5,892.6L702,892.5L703,892.1L703.5,891.9L704.5,891.5L705,891.3L705.6,891L706.5,890.6L707,890.4L707.9,890L708.5,889.8L709.1,889.5L710,889.2L710.5,889L711.5,888.6L712,888.4L713,888L713.5,887.9L714.5,887.5L715,887.4L716,887L716.5,886.9L717.5,886.6L718.1,886.5L719,886.3L720,886.1L721,886L721.5,886L722.5,885.9L723.5,885.9L724.5,885.9L725.5,885.9L726.5,885.9L727.5,885.9L728.5,885.8L729.5,885.7L730.5,885.6L731,885.5L732,885.3L732.8,885L733.5,884.8L734.1,884.5L735,884.1L735.5,883.9L736.3,883.5L737,883.2L737.5,882.9L738.3,882.5L739,882.2L739.5,881.9L740.4,881.5L741,881.2L741.6,881L742.5,880.6L743,880.5L744,880.2L744.8,880L745.5,879.9L746.5,879.8L747.5,879.7L748.5,879.7L749.5,879.7L750.5,879.7L751.5,879.7L752.5,879.7L753.5,879.5L754,879.4L755,879.2L755.6,879L756.5,878.7L757,878.5L758,878.1L758.5,877.9L759.4,877.5L760,877.2L760.6,877L761.5,876.7L762.2,876.5L763,876.3L764,876.2L765,876.1L766,876L766.8,876L767.5,876L768.5,875.8L769.5,875.6L770,875.5L771,875.1L771.5,874.8L772.1,874.5L772.8,874L773.4,873.5L774,873L774.5,872.5L774.9,872L775.4,871.5L775.7,871L776.1,870.5L776.5,869.9L777,869.2L777.4,868.5L777.7,868L778,867.5L778.5,866.6L778.8,866L779.1,865.5L779.5,865L780,864.2L780.5,863.6L781,863.1L781.5,862.6L782,862.2L782.5,861.9L783.1,861.5L784,861L784.5,860.8L785,860.5L786,860L786.5,859.8L787,859.5L787.7,859L788.3,858.5L788.8,858L789.2,857.5L789.5,857L790,856.1L790.3,855.5L790.5,854.9L790.8,854L791,853.5L791.3,852.5L791.4,851.5L791.5,850.5L791.5,850L791.6,849L791.5,848L791.5,847L791.5,846.5L791.4,845.5L791.2,844.5L791,843.5L790.9,843L790.5,842L790.3,841.5L790,840.8L789.5,840L789.2,839.5L788.7,839L788.2,838.5L787.6,838L787,837.6L786.5,837.3L785.9,837L785,836.5L784.5,836.3L783.9,836L783,835.6L782.5,835.3L781.9,835L781,834.5L780.5,834.3L780,834L779.1,833.5L778.5,833.2L778,832.9L777,832.5L776.5,832.3L775.7,832L775,831.8L774,831.6L773.5,831.5L772.5,831.3L771.5,831.2L770.5,831.1L770,831L769,830.8L768,830.5L767.5,830.3L766.9,830L766.1,829.5L765.6,829L765.1,828.5L764.7,828L764.4,827.5L764,826.9L763.5,826L763.3,825.5L763,824.8L762.6,824L762.4,823.5L762.1,822.5L761.9,822L761.5,821L761.4,820.5L761,819.5L760.9,819L760.5,818L760.4,817.5L760,816.5L759.9,816L759.5,815.1L759.2,814.5L759,814L758.5,813.2L758,812.5L757.6,812L757.2,811.5L756.7,811L756.1,810.5L755.5,810L755,809.7L754.5,809.4L753.6,809L753,808.8L752,808.5L751.5,808.4L750.5,808.3L749.5,808.2L748.5,808.3L747.5,808.4L747,808.5L746,808.8L745.3,809L744.5,809.3L743.9,809.5L743,809.9L742.5,810L741.5,810.4L741,810.6L740,810.9L739.5,811L738.5,811.2L737.5,811.3L736.5,811.4L735.5,811.3L734.5,811.3L733.5,811.1L733,811L732,810.8L731,810.5L730.5,810.4L729.5,810.1L729,810L728,809.7L727.1,809.5L726.5,809.4L725.5,809.2L724.5,809.1L723.8,809L723,809L722,808.9L721,808.9L720,808.9L719,808.9L718,808.9L717,808.9L716,808.8L715,808.7L714,808.6L713.4,808.5L712.5,808.3L711.5,808.1L711,807.9L710,807.6L709.5,807.5L708.5,807.1L708,806.9L707,806.5L706.5,806.3L705.8,806L705,805.6L704.5,805.4L703.7,805L703,804.7L702.5,804.4L701.5,804L701,803.8L700.1,803.5L699.5,803.3L698.5,803.1L698,803L697,802.8L696,802.8L695,802.7L694,802.7L693,802.7L692,802.7L691,802.6L690.2,802.5L689.5,802.4L688.5,802.1L688,801.9L687.2,801.5L686.5,801.2L686,800.9L685.4,800.5L684.6,800L684,799.6L683.5,799.3L683,798.9L682.3,798.5L681.6,798L681,797.6L680.5,797.3L680,797L679.1,796.5L678.5,796.2L678,795.9L677,795.5L676.5,795.3L675.6,795L675,794.8L674,794.6L673.5,794.4L672.5,794.3L671.5,794.2L670.5,794.1L669.5,794.1L668.5,794.2L667.5,794.3L666.5,794.4L665.9,794.5L665,794.7L664,794.9L663.4,795L662.5,795.2L661.5,795.4L661,795.5L660,795.7L659,795.9L658.5,796L657.5,796.2L656.9,796L656,795.7L655,795.7L654,795.7L653,795.7L652,795.7L651,795.6L650.4,795.5L649.5,795.3L648.5,795L648,794.8L647.4,794.5L646.6,794L646.1,793.5L645.6,793L645.2,792.5L644.9,792L644.5,791.2L644.2,790.5L644,790L643.7,789L643.5,788.4L643.3,787.5L643,786.5L642.9,786L642.6,785L642.4,784.5L642,783.5L641.8,783L641.5,782.4L641,781.8L640.5,781.4L639.5,781.4L639,781.8L638.5,782.5L638.2,783L638,783.5L637.6,784.5L637.4,785L637.1,786L637,786.5L636.7,787.5L636.5,788.1L636.3,789L636,789.8L635.8,790.5L635.5,791.1L635.1,792L634.8,792.5L634.4,793L634,793.5L633.4,794L632.6,794.5L632,794.8L631.4,795L630.5,795.2L629.5,795.4L628.6,795.5L628,795.6L627,795.6L626,795.7L625,795.7L624,795.8L623,795.8L622,795.8L621,795.8L620,795.9L619,795.9L618,795.9L617,795.9L616,795.9L615,795.9L614,796L613.5,796L612.5,796.1L611.5,796.1L610.5,796.2L609.5,796.3L608.5,796.4L607.6,796.5L607,796.6L606,796.7L605,796.8L604,796.8L603,796.9L602.1,797L601.5,797.1L600.5,797.2L599.5,797.3L598.5,797.4L598,797.5L597,797.8L596,798L595.5,798.1L594.5,798.5L594,798.6L593,799L592.5,799.2L591.7,799.5L591,799.8L590.5,800L589.5,800.5L589,800.7L588.4,801L587.5,801.5L587,801.7L586.5,802L585.6,802.5L585,802.9L584.5,803.2L584,803.5L583.1,804L582.5,804.4L582,804.7L581.5,805.1L580.8,805.5L580.1,806L579.5,806.4L579,806.8L578.5,807.2L578,807.6L577.5,808L577,808.5L576.4,809L576,809.5L575.5,810L575,810.6L574.5,811.3L574,812L573.7,812.5L573.5,813L573,814L572.8,814.5L572.6,815.5L572.5,816L572.4,817L572.3,818L572.4,819L572.4,820L572.5,821L572.5,822L572.4,823L572.3,824L572,825L571.9,825.5L571.5,826.5L571.3,827L571,827.7L570.6,828.5L570.3,829L570,829.6L569.5,830.4L569.2,831L568.9,831.5L568.5,832.2L568.1,833L567.8,833.5L567.5,834.1L567.1,835L566.9,835.5L566.5,836.5L566.3,837L566,837.9L565.8,838.5L565.5,839.4L565.3,840L565,840.9L564.8,841.5L564.5,842.5L564.4,843L564.1,844L563.9,844.5L563.7,845.5L563.5,846.3L563.4,847L563.2,848L563.1,849L563.1,850L563.1,851L563.2,852L563.4,853L563.5,853.6L563.7,854.5L564,855.3L564.2,856L564.5,856.7L564.8,857.5L565,858L565.4,859L565.6,859.5L565.9,860.5L566,861L566.2,862L566.4,863L566.4,864L566.4,865L566.3,866L566.2,867L566.1,868L566.1,869L566.1,870L566.2,871L566.3,872L566.5,872.8L566.7,873.5L567,874.2L567.4,875L567.6,875.5L568,876.2L568.5,876.9L568.9,877.5L569.3,878L569.7,878.5L570.1,879L570.6,879.5L571.1,880L571.5,880.5L572,881L572.5,881.5L573,882L573.5,882.5L574,883L574.5,883.5L575.1,884L575.7,884.5L576.2,885L576.9,885.5L577.5,886L578,886.4L578.5,886.7L579,887L579.8,887.5L580.5,887.9L581,888.2L581.6,888.5L582.5,888.9L583,889.2L583.8,889.5L584.5,889.8L585,890L586,890.4L586.5,890.6L587.5,891L588,891.2L588.9,891.5L589.5,891.7L590.4,892L591,892.2L592,892.4L592.5,892.5L593.5,892.8L594.5,892.9L595,893L596,893.1L597,893.2L598,893.3L599,893.4L600,893.5L600.5,893.6L601.5,893.7L602.5,893.8L603.3,894L604,894.1L605,894.4L605.6,894.5L606.5,894.7L607.5,894.9L608,895L609,895.2L610,895.4L610.7,895.5L611.5,895.6L612.5,895.7L613.5,895.7L614.5,895.8L615.5,895.8L616.5,895.8L617.5,895.8L618.5,895.8L619.5,895.9L620.5,895.9L621.2,896L622,896.1L623,896.2L624,896.4L624.8,896.5L625.5,896.6L626.5,896.7L627.5,896.8L628.5,896.9L629.2,897L630,897.1L631,897.1L632,897.1L633,897.1L634,897.1L635,897.1L636,897.1L637,897L637.5,897L638.5,896.9L639.5,896.8L640.5,896.8L641.5,896.7L642.5,896.6L643.3,896.5L644,896.4L645,896.4L646,896.3L647,896.2L648,896.2L649,896.3L650,896.3L651,896.5L651.5,896.5L652.5,896.7L653.5,896.9L654.3,897L655,897.1L656,897.3L656.6,897.5L657,898.3L657.7,898.5L658.5,898.7L659.5,899L660,899L661,899.1L662,899.1L663,899.1L663.7,899ZM663.9,902.5L664.5,902.4L665.5,902.2L666.5,902L667,901.9L668,901.7L668.8,901.5L669.5,901.3L670.5,901L671,900.9L672,900.6L672.5,900.4L673.4,900L674,899.7L674.5,899.5L675.4,899L676,898.6L676.5,898.3L677,898L677.7,897.5L678.4,897L679,896.6L679.5,896.2L680,895.9L680.6,895.5L681.5,895L682,894.8L682.6,894.5L683.5,894.2L684.2,894L685,893.9L686,893.8L687,893.9L687.5,894L688.5,894.2L689.5,894.5L690,894.7L691,894.9L691.5,895.1L692.5,895.3L693.3,895.5L694,895.6L695,895.8L696,895.9L697,895.9L698,895.9L699,895.8L700,895.6L700.5,895.4L701.5,895.1L702,894.9L703,894.5L703.5,894.3L704,894L705,893.5L705.5,893.2L706,893L706.8,892.5L707.5,892.2L708,891.9L708.8,891.5L709.5,891.2L710,890.9L711,890.5L711.5,890.3L712.2,890L713,889.7L713.5,889.5L714.5,889.1L715,888.9L716,888.6L716.5,888.4L717.5,888.1L718,888L719,887.7L720,887.5L720.5,887.5L721.5,887.4L722.5,887.3L723.5,887.3L724.5,887.3L725.5,887.4L726.5,887.4L727.5,887.5L728.5,887.4L729.5,887.4L730.5,887.2L731.5,887L732,886.8L732.9,886.5L733.5,886.3L734,886L735,885.5L735.5,885.2L736,885L736.8,884.5L737.5,884.1L738,883.8L738.6,883.5L739.5,883.1L740,882.8L740.7,882.5L741.5,882.1L742,881.9L743,881.6L743.5,881.5L744.5,881.3L745.5,881.1L746.5,881.1L747.5,881.1L748.5,881.2L749.5,881.3L750.5,881.4L751.3,881.5L752,881.6L753,881.6L754,881.6L754.5,881.5L755.5,881.3L756.5,881.1L757,881L758,880.7L758.5,880.5L759.5,880.1L760,880L761,879.7L762,879.5L762.5,879.4L763.5,879.3L764.5,879.3L765.5,879.3L766.5,879.3L767.5,879.3L768.5,879.1L769.2,879L770,878.8L770.7,878.5L771.5,878.1L772,877.8L772.5,877.5L773.1,877L773.7,876.5L774.2,876L774.7,875.5L775.1,875L775.6,874.5L776,873.9L776.5,873.2L777,872.5L777.3,872L777.6,871.5L778,870.9L778.5,870.1L778.9,869.5L779.2,869L779.5,868.4L780,867.6L780.4,867L780.8,866.5L781.2,866L781.7,865.5L782.2,865L782.9,864.5L783.5,864.1L784,863.8L784.8,863.5L785.5,863.3L786.4,863L787,862.8L788,862.5L788.5,862.4L789.5,862L790,861.7L790.5,861.4L791,861L791.5,860.4L792,859.6L792.3,859L792.5,858.4L792.8,857.5L793,856.8L793.2,856L793.4,855L793.6,854.5L793.8,853.5L794,852.5L794,852L794.1,851L794.1,850L794,849L794,848.1L794,847.5L793.9,846.5L793.9,845.5L793.8,844.5L793.7,843.5L793.6,842.5L793.5,841.9L793.4,841L793.2,840L793,839.3L792.7,838.5L792.5,838L792,837.1L791.6,836.5L791.1,836L790.6,835.5L790,835.1L789.5,834.7L789,834.4L788.2,834L787.5,833.7L787,833.4L786,833L785.5,832.8L784.8,832.5L784,832.1L783.5,831.9L782.8,831.5L782,831.1L781.5,830.8L780.9,830.5L780,830L779.5,829.8L778.8,829.5L778,829.2L777.4,829L776.5,828.8L775.5,828.6L775,828.5L774,828.4L773,828.3L772,828.2L771,828.1L770,828L769.5,827.9L768.5,827.6L768,827.4L767.4,827L766.8,826.5L766.3,826L765.9,825.5L765.5,825L765,824.2L764.6,823.5L764.3,823L764,822.3L763.6,821.5L763.4,821L763,820L762.9,819.5L762.5,818.5L762.4,818L762.1,817L761.9,816.5L761.6,815.5L761.4,815L761,814L760.8,813.5L760.5,812.8L760.1,812L759.8,811.5L759.4,811L759,810.4L758.5,809.9L758,809.3L757.5,808.9L757,808.5L756.3,808L755.5,807.5L755,807.3L754.3,807L753.5,806.7L752.5,806.5L752,806.4L751,806.3L750,806.3L749,806.4L748.2,806.5L747.5,806.6L746.5,806.9L746,807L745,807.4L744.5,807.6L743.5,808L743,808.2L742.3,808.5L741.5,808.8L741,809L740,809.4L739.5,809.6L738.5,809.8L737.7,810L737,810.1L736,810.2L735,810.1L734,810.1L733.5,810L732.5,809.8L731.5,809.6L731,809.4L730,809.2L729.4,809L728.5,808.8L727.5,808.5L727,808.4L726,808.2L725,808.1L724.2,808L723.5,808L722.5,807.9L721.5,807.9L720.5,808L720,808L719,808L718,808.1L717,808.1L716,808L715.3,808L714.5,807.9L713.5,807.8L712.5,807.6L712,807.4L711,807.2L710.4,807L709.5,806.7L709,806.5L708,806.1L707.5,805.8L706.8,805.5L706,805.1L705.5,804.8L704.9,804.5L704,804L703.5,803.7L703,803.5L702.1,803L701.5,802.7L701,802.5L700,802.1L699.5,801.9L698.5,801.6L698,801.5L697,801.3L696,801.2L695,801.1L694,801.1L693,801.1L692,801.1L691.4,801L690.5,800.8L689.5,800.6L689,800.4L688.1,800L687.5,799.7L687,799.4L686.4,799L685.7,798.5L685,798L684.5,797.6L684,797.2L683.5,796.8L683,796.4L682.4,796L681.7,795.5L681,795L680.5,794.7L680,794.5L679.1,794L678.5,793.7L678,793.5L677,793.1L676.5,792.9L675.5,792.6L675,792.4L674,792.2L673.3,792L672.5,791.8L671.5,791.7L670.5,791.5L670,791.5L669,791.4L668,791.4L667,791.4L666,791.5L665.5,791.5L664.5,791.7L663.5,791.8L662.7,792L662,792.2L661,792.4L660.5,792.6L659.5,792.9L659,793.1L658,793.4L657.5,793.5L657,793.5L656.5,792.7L655.5,792.8L654.5,792.9L653.5,793L652.5,792.9L651.5,792.9L650.5,792.7L649.8,792.5L649,792.2L648.5,791.9L647.9,791.5L647.4,791L646.9,790.5L646.5,789.9L646,789L645.8,788.5L645.5,787.8L645.2,787L645,786.2L644.8,785.5L644.5,784.5L644.4,784L644.1,783L643.9,782.5L643.6,781.5L643.4,781L643,780.1L642.7,779.5L642.4,779L642,778.4L641.5,777.8L641,777.5L640,777.2L639,777.5L638.5,777.9L638,778.4L637.6,779L637.3,779.5L637,780.2L636.7,781L636.5,781.5L636.1,782.5L635.9,783L635.6,784L635.5,784.5L635.2,785.5L635,786.1L634.7,787L634.5,787.5L634.1,788.5L633.9,789L633.5,789.8L633,790.5L632.6,791L632.1,791.5L631.5,792L631,792.2L630.4,792.5L629.5,792.8L628.6,793L628,793.1L627,793.2L626,793.3L625,793.3L624,793.3L623,793.4L622,793.4L621,793.4L620,793.4L619,793.4L618,793.3L617,793.3L616,793.3L615,793.3L614,793.4L613,793.4L612,793.4L611,793.4L610,793.5L609.5,793.5L608.5,793.5L607.5,793.6L606.5,793.6L605.5,793.6L604.5,793.7L603.5,793.7L602.5,793.7L601.5,793.7L600.5,793.8L599.5,793.8L598.5,793.9L598,794L597,794.2L596,794.5L595.5,794.6L594.5,794.9L594,795.1L593,795.5L592.5,795.7L591.9,796L591,796.4L590.5,796.6L589.7,797L589,797.4L588.5,797.6L587.8,798L587,798.4L586.5,798.7L586,799L585.2,799.5L584.5,799.9L584,800.2L583.5,800.5L582.7,801L582,801.4L581.5,801.8L581,802.1L580.3,802.5L579.6,803L579,803.4L578.5,803.7L578,804L577.4,804.5L576.7,805L576,805.5L575.5,805.9L575,806.4L574.5,806.8L574,807.3L573.5,807.8L573,808.4L572.5,808.9L572,809.5L571.7,810L571.3,810.5L570.9,811L570.5,811.7L570,812.5L569.8,813L569.5,813.6L569.2,814.5L569,815.1L568.8,816L568.7,817L568.7,818L568.8,819L568.9,820L569,820.6L569.1,821.5L569.2,822.5L569.1,823.5L569,824.4L568.8,825L568.5,826L568.3,826.5L568,827L567.5,827.9L567.1,828.5L566.8,829L566.4,829.5L566,830.1L565.5,830.9L565.1,831.5L564.9,832L564.5,832.7L564.1,833.5L563.9,834L563.6,835L563.4,835.5L563.1,836.5L563,837L562.7,838L562.5,838.7L562.3,839.5L562,840.5L561.9,841L561.6,842L561.5,842.5L561.2,843.5L561,844.2L560.8,845L560.6,846L560.5,846.5L560.3,847.5L560.1,848.5L560.1,849.5L560.1,850.5L560.1,851.5L560.2,852.5L560.4,853.5L560.5,854L560.8,855L561,855.6L561.3,856.5L561.5,857L561.9,858L562,858.5L562.4,859.5L562.5,860L562.8,861L563,861.9L563.1,862.5L563.2,863.5L563.2,864.5L563.1,865.5L563,866.5L563,867L562.9,868L562.8,869L562.8,870L562.9,871L563,872L563,872.5L563.3,873.5L563.5,874.3L563.7,875L564,875.6L564.4,876.5L564.7,877L565,877.5L565.5,878.3L566,879L566.4,879.5L566.8,880L567.3,880.5L567.7,881L568.2,881.5L568.7,882L569.2,882.5L569.7,883L570.2,883.5L570.7,884L571.2,884.5L571.7,885L572.2,885.5L572.7,886L573.2,886.5L573.8,887L574.3,887.5L574.9,888L575.5,888.5L576,888.9L576.5,889.2L577,889.6L577.6,890L578.4,890.5L579,890.8L579.5,891.1L580.2,891.5L581,891.9L581.5,892.2L582.2,892.5L583,892.9L583.5,893.1L584.4,893.5L585,893.8L585.5,894L586.5,894.4L587,894.6L588,894.9L588.5,895.1L589.5,895.4L590,895.6L591,895.9L591.6,896L592.5,896.2L593.5,896.4L594.2,896.5L595,896.6L596,896.7L597,896.8L598,896.9L599,896.9L599.9,897L600.5,897L601.5,897.1L602.5,897.2L603.5,897.4L604.3,897.5L605,897.6L606,897.8L607,898L607.5,898.1L608.5,898.3L609.5,898.4L610,898.5L611,898.7L612,898.8L613,898.9L614,899L615,899L615.5,899L616.5,899L617.5,899L618.5,899L619.5,899.1L620.5,899.1L621.5,899.2L622.5,899.3L623.5,899.3L624.5,899.5L625,899.5L626,899.6L627,899.7L628,899.7L629,899.8L630,899.8L631,899.8L632,899.8L633,899.8L634,899.8L635,899.8L636,899.8L637,899.8L638,899.8L639,899.7L640,899.7L641,899.6L642,899.5L642.5,899.5L643.5,899.4L644.5,899.3L645.5,899.3L646.5,899.2L647.5,899.2L648.5,899.2L649.5,899.3L650.5,899.4L651,899.5L652,899.7L653,899.9L653.5,900L654.5,900.2L655.5,900.5L656,900.6L656.7,901L657,901.8L657.5,902L658.5,902.3L659.5,902.5L660,902.6L661,902.6L662,902.6L663,902.6L663.9,902.5Z" fill="none" stroke="#1c1c1c" stroke-width="2.3" stroke-linejoin="round" stroke-linecap="round" />
<path d="M687,895 C687,911 689.5,921.5 695.5,921.5 C701.5,921.5 703.5,911 703.5,894" fill="none" stroke="#1c1c1c" stroke-width="2.3" stroke-linejoin="round" stroke-linecap="round" />
<g transform="translate(43.7,1367.3) scale(1,1.035)"><text x="-4" y="0" font-size="62" fill="#111" stroke="#111" stroke-width="0.35" >b</text></g>
<g transform="translate(80,1368) scale(1,1.035)"><text x="-0.3" y="0" font-size="64.5" fill="#111" stroke="#111" stroke-width="0.35" >)</text></g>
<g transform="translate(67,1617.3) scale(1,1.035)"><text x="-5.7" y="0" font-size="52.5" fill="#111" stroke="#111" stroke-width="0.35" > 0</text><path transform="translate(-5.7,0) scale(0.02563,-0.02563)" d="M763,0L583,0L583,1147C518,1085 432,1023 346,975C290,944 250,927 223,915L223,1085C330,1135 430,1200 510,1280C570,1340 620,1410 646,1466L763,1466Z" fill="#111" stroke="#111" stroke-width="13.7"/></g>
<g transform="translate(124.2,1600.5) scale(1,1.035)"><text x="-1.3" y="0" font-size="32" fill="#333" stroke="#333" stroke-width="0.35" >o</text></g>
<g transform="translate(158.6,1617.3) scale(1,1.035)"><text x="-2.4" y="0" font-size="52.5" fill="#111" stroke="#111" stroke-width="0.35" >SP</text></g>
<polygon points="259.4,1593.5 261.4,1598.3 266.5,1598.7 262.6,1602 263.8,1607.1 259.4,1604.4 255,1607.1 256.2,1602 252.3,1598.7 257.4,1598.3" fill="#8a8a8a"/>
<g transform="translate(64.9,1796) scale(1,1.035)"><text x="-4.4" y="0" font-size="54.5" fill="#111" stroke="#111" stroke-width="0.35" >D-RINEPT</text></g>
<line x1="435.2" y1="1538.6" x2="435.2" y2="1853" stroke="#7a7a7a" stroke-width="3.2" stroke-dasharray="26 18.7" stroke-dashoffset="10.8"/>
<line x1="658.2" y1="1605.3" x2="658.2" y2="1853" stroke="#7a7a7a" stroke-width="3.2" stroke-dasharray="24 17" stroke-dashoffset="9.5"/>
<line x1="828.8" y1="1369" x2="828.8" y2="1853" stroke="#7a7a7a" stroke-width="3.2" stroke-dasharray="25.5 19.3" stroke-dashoffset="12"/>
<path d="M59.3,1642.7 60.8,1642.6 62.3,1642.5 63.8,1642.4 65.3,1642.2 66.8,1642 68.3,1642.2 69.8,1642.5 71.3,1642.5 72.8,1642.5 74.3,1642.6 75.8,1642.7 77.3,1642.7 78.8,1642.5 80.3,1642.4 81.8,1642.5 83.3,1642.8 84.8,1643 86.3,1642.9 87.8,1642.6 89.3,1642.4 90.8,1642.3 92.3,1642.5 93.8,1642.7 95.3,1643.1 96.8,1643.3 98.3,1643.1 99.8,1642.8 101.3,1642.6 102.8,1642.3 104.3,1642.2 105.8,1642.2 107.3,1641.9 108.8,1641.7 110.3,1642 111.8,1642.7 113.3,1643.2 114.8,1643.1 116.3,1642.8 117.8,1642.5 119.3,1642.2 120.8,1642.1 122.3,1642 123.8,1642.1 125.3,1642.3 126.8,1642.5 128.3,1642.6 129.8,1642.6 131.3,1642.6 132.8,1642.5 134.3,1642.2 135.8,1641.9 137.3,1641.8 138.8,1641.9 140.3,1641.8 141.8,1641.8 143.3,1641.8 144.8,1642.1 146.3,1642.5 147.8,1642.7 149.3,1642.8 150.8,1642.6 152.3,1642.1 153.8,1641.8 155.3,1641.8 156.8,1641.8 158.3,1641.9 159.8,1642.1 161.3,1642.3 162.8,1642.5 164.3,1642.6 165.8,1642.4 167.3,1642.2 168.8,1642 170.3,1641.8 171.8,1641.6 173.3,1641.5 174.8,1641.5 176.3,1641.4 177.8,1641.1 179.3,1640.7 180.8,1640.4 182.3,1640.2 183.8,1640.4 185.3,1640.7 186.8,1640.9 188.3,1640.8 189.8,1640.6 191.3,1640.6 192.8,1640.7 194.3,1640.6 195.8,1640.6 197.3,1640.5 198.8,1640.5 200.3,1640.4 201.8,1640.2 203.3,1639.9 204.8,1639.6 206.3,1639.5 207.8,1639.6 209.3,1639.6 210.8,1639.5 212.3,1639.3 213.8,1639 215.3,1638.6 216.8,1638.1 218.3,1637.5 219.8,1636.8 221.3,1636.3 222.8,1635.8 224.3,1635.2 225.8,1634.6 227.3,1633.9 228.8,1633.4 230.3,1633 231.8,1632.8 233.3,1632.5 234.8,1632.2 236.3,1632 237.8,1632 239.3,1632 240.8,1632 242.3,1631.7 243.8,1631.5 245.3,1631.6 246.8,1631.8 248.3,1631.8 249.8,1631.5 251.3,1631.1 252.8,1630.9 254.3,1630.9 255.8,1630.9 257.3,1630.8 258.8,1630.9 260.3,1631.3 261.8,1631.5 263.3,1631.5 264.8,1631.3 266.3,1630.9 267.8,1630.6 269.3,1630.4 270.8,1630.5 272.3,1630.7 273.8,1631 275.3,1631.3 276.8,1631.7 278.3,1632.1 279.8,1632.7 281.3,1633.2 282.8,1633.6 284.3,1633.8 285.8,1634.1 287.3,1634.5 288.8,1634.9 290.3,1635.3 291.8,1635.4 293.3,1635.6 294.8,1635.8 296.3,1636.1 297.8,1636.4 299.3,1636.7 300.8,1636.9 302.3,1637 303.8,1637.2 305.3,1637.4 306.8,1637.5 308.3,1637.5 309.8,1637.5 311.3,1637.4 312.8,1637.5 314.3,1637.9 315.8,1638.5 317.3,1638.9 318.8,1639 320.3,1638.8 321.8,1638.6 323.3,1638.4 324.8,1637.9 326.3,1637.5 327.8,1637.4 329.3,1637.5 330.8,1637.5 332.3,1637.3 333.8,1637.1 335.3,1636.9 336.8,1636.7 338.3,1636.5 339.8,1636.3 341.3,1636.1 342.8,1635.8 344.3,1635.5 345.8,1635.2 347.3,1634.5 348.8,1633.5 350.3,1632.3 351.8,1631.1 353.3,1630 354.8,1628.6 356.3,1627.1 357.8,1625.6 359.3,1624.1 360.8,1622.6 362.3,1621.1 363.8,1619.4 365.3,1617.6 366.8,1615.9 368.3,1614.2 369.8,1612.6 371.3,1610.9 372.8,1609.3 374.3,1607.7 375.8,1606 377.3,1604.4 378.8,1602.8 380.3,1601.3 381.8,1599.8 383.3,1598.2 384.8,1596.7 386.3,1595.1 387.8,1593.6 389.3,1592 390.8,1590.4 392.3,1588.8 393.8,1587.3 395.3,1585.8 396.8,1584.4 398.3,1582.9 399.8,1581.3 401.3,1579.7 402.8,1578.2 404.3,1576.8 405.8,1575.4 407.3,1573.9 408.8,1572.4 410.3,1570.8 411.8,1569.3 413.3,1567.9 414.8,1566.7 416.3,1565.5 417.8,1564.3 419.3,1563.2 420.8,1562 422.3,1560.9 423.8,1559.9 425.3,1558.8 426.8,1557.7 428.3,1556.6 429.8,1555.5 431.3,1554.5 432.8,1553.8 434.3,1553.6 435.8,1553.8 437.3,1553.9 438.8,1554.3 440.3,1555 441.8,1555.9 443.3,1556.9 444.8,1557.9 446.3,1558.8 447.8,1559.9 449.3,1561.1 450.8,1562.4 452.3,1563.7 453.8,1564.9 455.3,1566.1 456.8,1567.2 458.3,1568.3 459.8,1569.5 461.3,1570.8 462.8,1572.1 464.3,1573.5 465.8,1575.1 467.3,1576.9 468.8,1578.8 470.3,1580.8 471.8,1582.7 473.3,1584.6 474.8,1586.5 476.3,1588.4 477.8,1590.3 479.3,1592.1 480.8,1593.8 482.3,1595.4 483.8,1596.8 485.3,1598.1 486.8,1599.2 488.3,1600.3 489.8,1601.2 491.3,1602.1 492.8,1603.2 494.3,1604.2 495.8,1605.1 497.3,1605.9 498.8,1606.7 500.3,1607.4 501.8,1608 503.3,1608.8 504.8,1609.5 506.3,1610.3 507.8,1611.1 509.3,1611.7 510.8,1612.3 512.3,1613 513.8,1613.7 515.3,1614.4 516.8,1615.1 518.3,1615.8 519.8,1616.5 521.3,1617.1 522.8,1617.6 524.3,1618.2 525.8,1618.9 527.3,1619.4 528.8,1619.9 530.3,1620.4 531.8,1621 533.3,1621.7 534.8,1622.3 536.3,1622.9 537.8,1623.5 539.3,1624 540.8,1624.5 542.3,1624.9 543.8,1625.2 545.3,1625.4 546.8,1625.7 548.3,1626 549.8,1626.3 551.3,1626.7 552.8,1627.1 554.3,1627.5 555.8,1627.8 557.3,1628 558.8,1628.3 560.3,1628.7 561.8,1629 563.3,1629.3 564.8,1629.7 566.3,1630.1 567.8,1630.4 569.3,1630.4 570.8,1630.6 572.3,1630.9 573.8,1631.3 575.3,1631.5 576.8,1631.8 578.3,1632 579.8,1632.1 581.3,1631.9 582.8,1631.9 584.3,1632 585.8,1632.1 587.3,1632.2 588.8,1632.4 590.3,1632.6 591.8,1632.7 593.3,1632.8 594.8,1632.9 596.3,1632.9 597.8,1632.9 599.3,1633 600.8,1633.3 602.3,1633.4 603.8,1633.4 605.3,1633.6 606.8,1633.7 608.3,1633.7 609.8,1633.6 611.3,1633.8 612.8,1634.1 614.3,1634.2 615.8,1634.4 617.3,1634.5 618.8,1634.5 620.3,1634.5 621.8,1634.6 623.3,1634.7 624.8,1634.8 626.3,1634.7 627.8,1634.5 629.3,1634.4 630.8,1634.4 632.3,1634.4 633.8,1634.3 635.3,1634.5 636.8,1634.6 638.3,1634.5 639.8,1634.2 641.3,1634.2 642.8,1634.3 644.3,1634.4 645.8,1634.6 647.3,1635 648.8,1635.4 650.3,1635.5 651.8,1635.5 653.3,1635.6 654.8,1635.6 656.3,1635.6 657.8,1635.5 659.3,1635.6 660.8,1635.8 662.3,1635.8 663.8,1635.5 665.3,1635.2 666.8,1635.1 668.3,1635.2 669.8,1635.3 671.3,1635.1 672.8,1634.7 674.3,1634.5 675.8,1634.8 677.3,1635.2 678.8,1635.5 680.3,1635.4 681.8,1635.3 683.3,1635.1 684.8,1635 686.3,1635 687.8,1635 689.3,1635 690.8,1635.1 692.3,1634.9 693.8,1634.5 695.3,1634.4 696.8,1634.4 698.3,1634.3 699.8,1634.1 701.3,1634.1 702.8,1634.3 704.3,1634.4 705.8,1634.3 707.3,1634.1 708.8,1634 710.3,1634 711.8,1634 713.3,1633.9 714.8,1633.9 716.3,1633.8 717.8,1633.8 719.3,1633.6 720.8,1633.4 722.3,1633.2 723.8,1633.1 725.3,1633.1 726.8,1633.2 728.3,1633.1 729.8,1632.8 731.3,1632.4 732.8,1632 734.3,1631.7 735.8,1631.3 737.3,1630.9 738.8,1630.5 740.3,1630.2 741.8,1629.9 743.3,1629.4 744.8,1628.7 746.3,1628.1 747.8,1627.5 749.3,1626.9 750.8,1626.4 752.3,1625.9 753.8,1625.2 755.3,1624.3 756.8,1623.3 758.3,1622.3 759.8,1621.2 761.3,1620 762.8,1618.8 764.3,1617.5 765.8,1616.2 767.3,1614.9 768.8,1613.5 770.3,1611.9 771.8,1610.2 773.3,1608.3 774.8,1606.3 776.3,1603.9 777.8,1600.9 779.3,1597.7 780.8,1594.4 782.3,1591.2 783.8,1588.2 785.3,1584.7 786.8,1580.2 788.3,1573.4 789.8,1563.4 791.3,1553 792.8,1542.6 794.3,1532 795.8,1521.6 797.3,1511.5 798.8,1501.6 800.3,1491.7 801.8,1481.7 803.3,1471.8 804.8,1461.7 806.3,1451.5 807.8,1442.2 809.3,1433.7 810.8,1425.7 812.3,1418.4 813.8,1411.5 815.3,1406.1 816.8,1402.4 818.3,1399.1 819.8,1395.6 821.3,1392.1 822.8,1389.3 824.3,1387.2 825.8,1385.2 827.3,1383.8 828.8,1383.5 830.3,1384.5 831.8,1386.9 833.3,1389.6 834.8,1393.2 836.3,1397.6 837.8,1402.3 839.3,1407.5 840.8,1413.2 842.3,1419.4 843.8,1426.2 845.3,1433.4 846.8,1441 848.3,1448.9 849.8,1457 851.3,1465.3 852.8,1473.6 854.3,1481.9 855.8,1490.2 857.3,1498.2 858.8,1506.3 860.3,1513.8 861.8,1520.5 863.3,1526.7 864.8,1532.5 866.3,1537.7 867.8,1542.5 869.3,1546.9 870.8,1550.9 872.3,1554.7 873.8,1558.3 875.3,1561.9 876.8,1565.3 878.3,1568.6 879.8,1571.8 881.3,1574.7 882.8,1577.4 884.3,1580 885.8,1582.4 887.3,1584.7 888.8,1586.9 890.3,1589 891.8,1591.1 893.3,1593.1 894.8,1595 896.3,1596.9 897.8,1598.6 899.3,1600.3 900.8,1601.9 902.3,1603.4 903.8,1604.9 905.3,1606.3 906.8,1607.7 908.3,1609.1 909.8,1610.5 911.3,1611.7 912.8,1612.9 914.3,1614.1 915.8,1615.4 917.3,1616.6 918.8,1617.8 920.3,1618.8 921.8,1619.6 923.3,1620.4 924.8,1621.2 926.3,1621.9 927.8,1622.4 929.3,1622.9 930.8,1623.4 932.3,1624.1 933.8,1624.8 935.3,1625.4 936.8,1625.9 938.3,1626.5 939.8,1627 941.3,1627.4 942.8,1627.9 944.3,1628.3 945.8,1628.7 947.3,1629.1 948.8,1629.6 950.3,1630.2 951.8,1630.6 953.3,1630.8 954.8,1631 956.3,1631.3 957.8,1631.7 959.3,1632.2 960.8,1632.4 962.3,1632.7 963.8,1633.2 965.3,1633.5 966.8,1633.6 968.3,1633.5 969.8,1633.5 971.3,1633.9 972.8,1634.2 974.3,1634.4 975.8,1634.4 977.3,1634.4 978.8,1634.5 980.3,1634.7 981.8,1634.7 983.3,1634.9 984.8,1635.2 986.3,1635.6 987.8,1635.9 989.3,1636.1 990.8,1636.2 992.3,1636.3 993.8,1636.4 995.3,1636.4 996.8,1636.4 998.3,1636.4 999.8,1636.7 1001.3,1637.1 1002.8,1637.4 1004.3,1637.4 1005.8,1637.4 1007.3,1637.4 1008.8,1637.6 1010.3,1637.9 1011.8,1638.2 1013.3,1638.3 1014.8,1638.4 1016.3,1638.5 1017.8,1638.7 1019.3,1638.9 1020.8,1639.2 1022.3,1639.3 1023.8,1639.3 1025.3,1639.2 1026.8,1639.2 1028.3,1639.3 1029.8,1639.4 1031.3,1639.6 1032.8,1639.9 1034.3,1640.1 1035.8,1639.9 1037.3,1639.7 1038.8,1639.5 1040.3,1639.6 1041.8,1639.8 1043.3,1640 1044.8,1640.1 1046.3,1640.3 1047.8,1640.5 1049.3,1640.6 1050.8,1640.6 1052.3,1640.8 1053.8,1640.9 1055.3,1641.2 1056.8,1641.4 1058.3,1641.6 1059.8,1641.7 1061.3,1641.8 1062.8,1641.7 1064.3,1641.6 1065.8,1641.7 1067.3,1641.8 1068.8,1641.7 1070.3,1641.4 1071.8,1641.2 1073.3,1641.3 1074.8,1641.7 1076.3,1642 1077.8,1642.1 1079.3,1641.9 1080.8,1641.6 1082.3,1641.3 1083.8,1641.1 1085.3,1641.1 1086.8,1641.3 1088.3,1641.5 1089.8,1641.6 1091.3,1641.4 1092.8,1641 1094.3,1640.8 1095.8,1640.8 1097.3,1640.6 1098.8,1640.4 1100.3,1640.7 1101.8,1641.5 1103.3,1642.3 1104.8,1642.7 1106.3,1642.9 1107.8,1642.9 1109.3,1642.5 1110.8,1642 1112.3,1641.6 1113.8,1641.5 1115.3,1641.6 1116.8,1641.8 1118.3,1642.1 1119.8,1642.2 1121.3,1642 1122.8,1641.7 1124.3,1641.5 1125.8,1641.5 1127.3,1641.7 1128.8,1641.9 1130.3,1642 1131.8,1642 1133.3,1641.9 1134.8,1641.9 1136.3,1642 1137.8,1642 1139.3,1642.1 1140.8,1642.3 1142.3,1642.5 1143.8,1642.5 1145.3,1642.5 1146.8,1642.4 1148.3,1642.2 1149.8,1641.9 1151.3,1641.7 1152.8,1641.8 1154.3,1642 1155.8,1642.2 1157.3,1642.2 1158.8,1642.2 1160.3,1642.1 1161.8,1641.9 1163.3,1641.7 1164.8,1641.5 1166.3,1641.4 1167.8,1641.4 1169.3,1641.7 1170.8,1642 1172.3,1641.9 1173.8,1641.6 1175.3,1641.5 1176.8,1641.6 1178.3,1641.7 1179.8,1641.9 1181.3,1641.8 1182.8,1641.5 1184.3,1641.3 1185.8,1641.4 1187.3,1641.7 1188.8,1641.6 1190.3,1641.4 1191.8,1641.1 1193.3,1641.1 1194.8,1641.2 1196.3,1641.1 1197.8,1640.9 1199.3,1640.8 1200.8,1640.9 1202.3,1640.9 1203.8,1640.9 1205.3,1640.9 1206.8,1640.9 1208.3,1641 1209.8,1641.3 1211.3,1641.4 1212.8,1641.3 1214.3,1641.1 1215.8,1641 1217.3,1641 1218.8,1641 1220.3,1641.1 1221.8,1641.1 1223.3,1641 1224.8,1640.9 1226.3,1640.9 1227.8,1640.8 1229.3,1640.8 1230.8,1640.9 1232.3,1640.9 1233.8,1640.7 1235.3,1640.4 1236.8,1640.3 1238.3,1640.2 1239.8,1640.2 1241.3,1640.3 1242.8,1640.4 1244.3,1640.5 1245.8,1640.7 1246.6,1640.8" fill="none" stroke="#111" stroke-width="3.5" stroke-linejoin="round" stroke-linecap="round" />
<path d="M60.2,1823 61.7,1823.1 63.2,1822.9 64.7,1822.7 66.2,1822.8 67.7,1823.3 69.2,1823.7 70.7,1823.9 72.2,1824.3 73.7,1824.7 75.2,1825 76.7,1824.9 78.2,1824.8 79.7,1824.7 81.2,1824.7 82.7,1824.6 84.2,1824.6 85.7,1824.8 87.2,1825 88.7,1825.3 90.2,1825.4 91.7,1825.2 93.2,1824.8 94.7,1824.6 96.2,1824.8 97.7,1825.1 99.2,1825.4 100.7,1825.5 102.2,1825.3 103.7,1824.9 105.2,1824.6 106.7,1824.7 108.2,1825.1 109.7,1825.4 111.2,1825.1 112.7,1824.4 114.2,1824 115.7,1824 117.2,1824.5 118.7,1825 120.2,1825.1 121.7,1824.9 123.2,1824.7 124.7,1824.6 126.2,1824.5 127.7,1824.4 129.2,1824.3 130.7,1824.1 132.2,1823.9 133.7,1824 135.2,1824.2 136.7,1824.4 138.2,1824.3 139.7,1824.3 141.2,1824.6 142.7,1824.8 144.2,1824.7 145.7,1824.3 147.2,1824.1 148.7,1824 150.2,1823.7 151.7,1823.4 153.2,1823.4 154.7,1823.4 156.2,1823.3 157.7,1822.9 159.2,1822.6 160.7,1822.2 162.2,1822.1 163.7,1822.5 165.2,1823 166.7,1823.3 168.2,1823.4 169.7,1823.2 171.2,1822.6 172.7,1822 174.2,1821.5 175.7,1821.3 177.2,1821.4 178.7,1821.6 180.2,1821.6 181.7,1821.4 183.2,1821.1 184.7,1821.1 186.2,1821.2 187.7,1821.2 189.2,1821.1 190.7,1820.9 192.2,1820.9 193.7,1820.8 195.2,1820.7 196.7,1820.6 198.2,1820.8 199.7,1821.3 201.2,1821.7 202.7,1821.7 204.2,1821.6 205.7,1821.6 207.2,1821.3 208.7,1821.1 210.2,1821.1 211.7,1821.3 213.2,1821.4 214.7,1821.4 216.2,1821.5 217.7,1821.9 219.2,1822.2 220.7,1822.4 222.2,1822.4 223.7,1822.7 225.2,1823.1 226.7,1823.5 228.2,1823.6 229.7,1823.6 231.2,1823.8 232.7,1824.3 234.2,1824.6 235.7,1824.5 237.2,1824.3 238.7,1824.2 240.2,1824.2 241.7,1824.1 243.2,1823.9 244.7,1823.7 246.2,1823.4 247.7,1823.2 249.2,1823.1 250.7,1823 252.2,1823.1 253.7,1823.3 255.2,1823.4 256.7,1823.6 258.2,1823.7 259.7,1823.7 261.2,1823.7 262.7,1823.6 264.2,1823.5 265.7,1823.4 267.2,1823.2 268.7,1823 270.2,1822.8 271.7,1822.3 273.2,1822.1 274.7,1822.3 276.2,1822.8 277.7,1823 279.2,1823.1 280.7,1823.1 282.2,1823 283.7,1822.8 285.2,1822.8 286.7,1823.3 288.2,1823.9 289.7,1824.1 291.2,1824.1 292.7,1823.8 294.2,1823.6 295.7,1823.5 297.2,1823.2 298.7,1822.8 300.2,1822.6 301.7,1822.3 303.2,1822.2 304.7,1822.2 306.2,1822.3 307.7,1822.2 309.2,1821.9 310.7,1821.5 312.2,1821.1 313.7,1820.9 315.2,1820.8 316.7,1820.7 318.2,1820.4 319.7,1819.9 321.2,1819.4 322.7,1819 324.2,1818.7 325.7,1818.4 327.2,1818.4 328.7,1818.3 330.2,1818.3 331.7,1818 333.2,1817.5 334.7,1817 336.2,1816.7 337.7,1816.6 339.2,1816.4 340.7,1816 342.2,1815.8 343.7,1815.8 345.2,1815.9 346.7,1815.8 348.2,1815.5 349.7,1815 351.2,1814.3 352.7,1813.6 354.2,1813.1 355.7,1812.9 357.2,1813.2 358.7,1813.2 360.2,1813 361.7,1812.7 363.2,1812.4 364.7,1812.3 366.2,1812.1 367.7,1811.7 369.2,1811.2 370.7,1810.7 372.2,1810.1 373.7,1809.1 375.2,1808 376.7,1806.9 378.2,1805.6 379.7,1804.3 381.2,1803.1 382.7,1802 384.2,1801 385.7,1800 387.2,1798.8 388.7,1797.6 390.2,1796.1 391.7,1794.7 393.2,1793.3 394.7,1792 396.2,1790.8 397.7,1789.6 399.2,1788.3 400.7,1787 402.2,1785.9 403.7,1784.8 405.2,1783.4 406.7,1782 408.2,1780.7 409.7,1779.7 411.2,1779 412.7,1778.6 414.2,1778.7 415.7,1778.8 417.2,1778.7 418.7,1778.4 420.2,1778.3 421.7,1778.6 423.2,1779.2 424.7,1780 426.2,1780.8 427.7,1781.4 429.2,1781.8 430.7,1782.4 432.2,1783 433.7,1783.7 435.2,1784.4 436.7,1785 438.2,1785.5 439.7,1785.6 441.2,1785.9 442.7,1786.6 444.2,1787.5 445.7,1788.3 447.2,1789 448.7,1789.6 450.2,1790.2 451.7,1790.7 453.2,1791.4 454.7,1792.4 456.2,1793.5 457.7,1794.5 459.2,1795.4 460.7,1796.3 462.2,1797.2 463.7,1798.1 465.2,1799.2 466.7,1800.2 468.2,1801.1 469.7,1801.9 471.2,1802.8 472.7,1803.6 474.2,1804.4 475.7,1805.2 477.2,1806 478.7,1806.7 480.2,1807.5 481.7,1808.3 483.2,1809.1 484.7,1809.9 486.2,1810.6 487.7,1811.2 489.2,1811.8 490.7,1812.5 492.2,1813.1 493.7,1813.7 495.2,1814.1 496.7,1814.3 498.2,1814.4 499.7,1814.5 501.2,1814.4 502.7,1814.4 504.2,1814.3 505.7,1814.4 507.2,1814.6 508.7,1814.9 510.2,1815.2 511.7,1815.3 513.2,1815.2 514.7,1814.7 516.2,1814.1 517.7,1814 519.2,1814.1 520.7,1814.2 522.2,1814.3 523.7,1814.5 525.2,1815.1 526.7,1815.8 528.2,1816.6 529.7,1817.5 531.2,1818.3 532.7,1819.1 534.2,1819.8 535.7,1820.4 537.2,1821.1 538.7,1821.7 540.2,1822.5 541.7,1823.2 543.2,1823.7 544.7,1823.8 546.2,1823.4 547.7,1822.8 549.2,1822.7 550.7,1822.9 552.2,1823.3 553.7,1823.5 555.2,1823.7 556.7,1823.8 558.2,1823.9 559.7,1824 561.2,1824.1 562.7,1824.3 564.2,1824.2 565.7,1823.8 567.2,1823.7 568.7,1823.6 570.2,1823.3 571.7,1822.8 573.2,1822.7 574.7,1822.9 576.2,1823 577.7,1823 579.2,1823.3 580.7,1823.7 582.2,1823.6 583.7,1823.1 585.2,1822.8 586.7,1822.6 588.2,1822.3 589.7,1822.3 591.2,1822.7 592.7,1823 594.2,1823 595.7,1822.6 597.2,1822.3 598.7,1822.4 600.2,1822.9 601.7,1823.3 603.2,1823.3 604.7,1822.8 606.2,1822.2 607.7,1822.1 609.2,1822.2 610.7,1822.1 612.2,1821.8 613.7,1821.4 615.2,1821 616.7,1820.8 618.2,1820.4 619.7,1820.1 621.2,1819.9 622.7,1819.8 624.2,1819.5 625.7,1819 627.2,1818.4 628.7,1818 630.2,1817.8 631.7,1817.5 633.2,1817.1 634.7,1816.7 636.2,1816.3 637.7,1816.2 639.2,1816.2 640.7,1816 642.2,1815.7 643.7,1815.3 645.2,1814.6 646.7,1814.1 648.2,1813.9 649.7,1813.8 651.2,1813.5 652.7,1812.7 654.2,1811.8 655.7,1811.2 657.2,1811 658.7,1811.4 660.2,1811.8 661.7,1812 663.2,1812 664.7,1811.9 666.2,1812 667.7,1812.4 669.2,1812.6 670.7,1812.6 672.2,1812.6 673.7,1812.9 675.2,1813.3 676.7,1813.7 678.2,1814.2 679.7,1814.5 681.2,1814.4 682.7,1814.4 684.2,1814.5 685.7,1814.5 687.2,1814.6 688.7,1814.6 690.2,1814.5 691.7,1814.7 693.2,1814.7 694.7,1814.3 696.2,1814 697.7,1814.4 699.2,1814.9 700.7,1815 702.2,1814.9 703.7,1814.7 705.2,1814.6 706.7,1814.8 708.2,1815.1 709.7,1815.4 711.2,1815.4 712.7,1815.3 714.2,1815.4 715.7,1815.5 717.2,1815.5 718.7,1815.6 720.2,1816 721.7,1816.5 723.2,1816.9 724.7,1816.9 726.2,1816.6 727.7,1816.4 729.2,1816.6 730.7,1816.9 732.2,1817.1 733.7,1817.2 735.2,1817.3 736.7,1817.4 738.2,1817.5 739.7,1817.5 741.2,1817.1 742.7,1816.6 744.2,1816.1 745.7,1815.6 747.2,1815.2 748.7,1814.7 750.2,1814.1 751.7,1813.3 753.2,1812.5 754.7,1811.7 756.2,1811.1 757.7,1810.4 759.2,1809.6 760.7,1808.8 762.2,1807.8 763.7,1806.8 765.2,1805.9 766.7,1805.2 768.2,1804.5 769.7,1803.8 771.2,1802.9 772.7,1801.9 774.2,1800.7 775.7,1799.5 777.2,1797.9 778.7,1795.4 780.2,1792.3 781.7,1788.8 783.2,1784.6 784.7,1779.5 786.2,1773.6 787.7,1767.2 789.2,1759.2 790.7,1750.5 792.2,1741.9 793.7,1733.8 795.2,1725.6 796.7,1717.4 798.2,1708.9 799.7,1700 801.2,1690.8 802.7,1681.7 804.2,1673 805.7,1664.7 807.2,1656.6 808.7,1648.5 810.2,1640.3 811.7,1632.1 813.2,1624.1 814.7,1616.5 816.2,1609 817.7,1601.9 819.2,1595.2 820.7,1589.1 822.2,1583.3 823.7,1578.6 825.2,1575.4 826.7,1572.8 828.2,1570.9 829.7,1569.6 831.2,1568.4 832.7,1567.4 834.2,1566.8 835.7,1566.7 837.2,1567.8 838.7,1569.7 840.2,1571.9 841.7,1574.7 843.2,1578.3 844.7,1582.3 846.2,1587 847.7,1592.2 849.2,1597.7 850.7,1603.4 852.2,1609.5 853.7,1615.7 855.2,1622 856.7,1628.3 858.2,1634.7 859.7,1641.2 861.2,1647.7 862.7,1654 864.2,1660.1 865.7,1666.2 867.2,1672.3 868.7,1678.4 870.2,1684.5 871.7,1690.7 873.2,1696.8 874.7,1702.8 876.2,1709 877.7,1715.1 879.2,1720.8 880.7,1725.9 882.2,1730.6 883.7,1735.1 885.2,1739.4 886.7,1743.3 888.2,1747 889.7,1750.5 891.2,1753.7 892.7,1756.7 894.2,1759.6 895.7,1762.3 897.2,1765 898.7,1767.8 900.2,1770.7 901.7,1773.7 903.2,1776.6 904.7,1779.4 906.2,1782.1 907.7,1784.5 909.2,1786.7 910.7,1788.9 912.2,1790.9 913.7,1792.8 915.2,1794.6 916.7,1796.3 918.2,1797.7 919.7,1799 921.2,1800.2 922.7,1801.3 924.2,1802.4 925.7,1803.4 927.2,1804.2 928.7,1804.8 930.2,1805.5 931.7,1806.2 933.2,1807 934.7,1807.9 936.2,1808.6 937.7,1809.3 939.2,1810 940.7,1810.7 942.2,1811.3 943.7,1811.8 945.2,1812.4 946.7,1813 948.2,1813.6 949.7,1814.3 951.2,1814.8 952.7,1815.3 954.2,1815.7 955.7,1815.8 957.2,1815.9 958.7,1815.9 960.2,1815.8 961.7,1815.9 963.2,1816.2 964.7,1816.3 966.2,1816.2 967.7,1816.2 969.2,1816.6 970.7,1816.7 972.2,1816.7 973.7,1816.7 975.2,1816.9 976.7,1816.8 978.2,1816.5 979.7,1816.4 981.2,1816.8 982.7,1817.2 984.2,1817.3 985.7,1817.1 987.2,1817.1 988.7,1817.5 990.2,1817.9 991.7,1818.3 993.2,1818.3 994.7,1818 996.2,1817.4 997.7,1816.8 999.2,1816.3 1000.7,1816.2 1002.2,1816.3 1003.7,1816.7 1005.2,1817.3 1006.7,1817.9 1008.2,1817.8 1009.7,1817.4 1011.2,1817.6 1012.7,1818.2 1014.2,1818.8 1015.7,1819.4 1017.2,1820 1018.7,1820.6 1020.2,1821.3 1021.7,1822 1023.2,1822.8 1024.7,1823.4 1026.2,1823.8 1027.7,1823.7 1029.2,1823 1030.7,1822.5 1032.2,1822.4 1033.7,1822.9 1035.2,1823.4 1036.7,1823.6 1038.2,1823.1 1039.7,1822.6 1041.2,1822.4 1042.7,1822.3 1044.2,1822.5 1045.7,1822.8 1047.2,1823.1 1048.7,1823.2 1050.2,1823 1051.7,1822.6 1053.2,1822.4 1054.7,1822.2 1056.2,1821.9 1057.7,1821.6 1059.2,1821.7 1060.7,1822.1 1062.2,1822.4 1063.7,1822.1 1065.2,1821.6 1066.7,1821.5 1068.2,1821.9 1069.7,1822.2 1071.2,1822.2 1072.7,1822.1 1074.2,1822.2 1075.7,1822.3 1077.2,1822.1 1078.7,1821.8 1080.2,1821.4 1081.7,1821.1 1083.2,1821.2 1084.7,1821.5 1086.2,1821.8 1087.7,1822.1 1089.2,1822.3 1090.7,1822.2 1092.2,1822.3 1093.7,1822.7 1095.2,1823.2 1096.7,1823.5 1098.2,1823.5 1099.7,1823.1 1101.2,1822.4 1102.7,1821.9 1104.2,1821.8 1105.7,1822.2 1107.2,1822.7 1108.7,1823.1 1110.2,1823.1 1111.7,1823 1113.2,1822.9 1114.7,1822.8 1116.2,1822.6 1117.7,1822.5 1119.2,1822.8 1120.7,1823.3 1122.2,1823.6 1123.7,1823.5 1125.2,1823.3 1126.7,1823.2 1128.2,1823.2 1129.7,1823.1 1131.2,1822.9 1132.7,1822.8 1134.2,1822.9 1135.7,1823.3 1137.2,1823.4 1138.7,1823.5 1140.2,1823.5 1141.7,1823.2 1143.2,1822.8 1144.7,1822.6 1146.2,1822.8 1147.7,1822.9 1149.2,1822.8 1150.7,1822.6 1152.2,1822.6 1153.7,1823 1155.2,1823.6 1156.7,1824.3 1158.2,1824.9 1159.7,1824.8 1161.2,1824.1 1162.7,1823.4 1164.2,1823.2 1165.7,1823.2 1167.2,1823.3 1168.7,1823.3 1170.2,1823.2 1171.7,1823.2 1173.2,1823.4 1174.7,1823.4 1176.2,1823.5 1177.7,1823.6 1179.2,1823.7 1180.7,1823.6 1182.2,1823.4 1183.7,1823.3 1185.2,1823.5 1186.7,1823.8 1188.2,1824.1 1189.7,1824.3 1191.2,1824.4 1192.7,1824.2 1194.2,1824.1 1195.7,1824 1197.2,1823.8 1198.7,1823.4 1200.2,1823.2 1201.7,1823.5 1203.2,1823.7 1204.7,1823.5 1206.2,1823.1 1207.7,1823 1209.2,1823.1 1210.7,1823.1 1212.2,1823.1 1213.7,1823.1 1215.2,1823.2 1216.7,1823.1 1218.2,1823 1219.7,1823.2 1221.2,1823.4 1222.7,1823.6 1224.2,1823.7 1225.7,1823.8 1227.2,1823.7 1228.7,1823.5 1230.2,1823.2 1231.7,1822.8 1233.2,1822.7 1234.7,1823.1 1236.2,1823.6 1237.7,1823.9 1239.2,1823.9 1240.7,1823.8 1242.2,1823.6 1243.7,1823.3 1245.2,1823.1 1246.6,1823.3" fill="none" stroke="#111" stroke-width="3.5" stroke-linejoin="round" stroke-linecap="round" />
<g transform="translate(770.5,1355.6) scale(1,1.035)"><text x="0" y="0" font-size="54.5" fill="#3a50ae" stroke="#3a50ae" stroke-width="0.35" >AlO</text></g>
<g transform="translate(863.7,1372.7) scale(1,1.035)"><text x="-1.6" y="0" font-size="31" fill="#5565b8" stroke="#5565b8" stroke-width="0.35" >6</text></g>
<g transform="translate(594,1590.6) scale(1,1.035)"><text x="0" y="0" font-size="54.5" fill="#3a50ae" stroke="#3a50ae" stroke-width="0.35" >AlO</text></g>
<g transform="translate(686.2,1607.7) scale(1,1.035)"><text x="-1.2" y="0" font-size="31" fill="#5565b8" stroke="#5565b8" stroke-width="0.35" >5</text></g>
<g transform="translate(386,1517.6) scale(1,1.035)"><text x="0" y="0" font-size="54.5" fill="#3a50ae" stroke="#3a50ae" stroke-width="0.35" >AlO</text></g>
<g transform="translate(476.2,1535.7) scale(1,1.035)"><text x="-0.6" y="0" font-size="31" fill="#5565b8" stroke="#5565b8" stroke-width="0.35" >4</text></g>
<g transform="translate(953.7,1406.4) scale(1,1.035)"><text x="-1.6" y="0" font-size="54.5" font-style="italic" fill="#111" stroke="#111" stroke-width="0.35" >Population:</text></g>
<g transform="translate(951.4,1472.3) scale(1,1.035)"><text x="0" y="0" font-size="54" fill="#111" stroke="#111" stroke-width="0.35" >AlO</text></g>
<g transform="translate(1043.3,1489.3) scale(1,1.035)"><text x="-1.5" y="0" font-size="30" fill="#3a3a3a" stroke="#3a3a3a" stroke-width="0.6" >6</text></g>
<g transform="translate(1074,1472.3) scale(1,1.035)"><text x="-4.9" y="0" font-size="54" fill="#111" stroke="#111" stroke-width="0.35" >:</text></g>
<g transform="translate(1103,1472.3) scale(1,1.035)"><text x="-2.7" y="0" font-size="54" fill="#111" stroke="#111" stroke-width="0.35" >65 %</text></g>
<g transform="translate(967.6,1538) scale(1,1.035)"><text x="0" y="0" font-size="54" fill="#111" stroke="#111" stroke-width="0.35" >AlO</text></g>
<g transform="translate(1059,1556) scale(1,1.035)"><text x="-1.2" y="0" font-size="30" fill="#3a3a3a" stroke="#3a3a3a" stroke-width="0.6" >5</text></g>
<g transform="translate(1089,1538) scale(1,1.035)"><text x="-4.9" y="0" font-size="54" fill="#111" stroke="#111" stroke-width="0.35" >:</text></g>
<g transform="translate(1118,1538) scale(1,1.035)"><text x="-2.2" y="0" font-size="54" fill="#111" stroke="#111" stroke-width="0.35" >3 %</text></g>
<g transform="translate(951.4,1603.9) scale(1,1.035)"><text x="0" y="0" font-size="54" fill="#111" stroke="#111" stroke-width="0.35" >AlO</text></g>
<g transform="translate(1044,1617.8) scale(1,1.035)"><text x="-0.6" y="0" font-size="30" fill="#3a3a3a" stroke="#3a3a3a" stroke-width="0.6" >4</text></g>
<g transform="translate(1074,1603.9) scale(1,1.035)"><text x="-4.9" y="0" font-size="54" fill="#111" stroke="#111" stroke-width="0.35" >:</text></g>
<g transform="translate(1103,1603.9) scale(1,1.035)"><text x="-2.2" y="0" font-size="54" fill="#111" stroke="#111" stroke-width="0.35" >32 %</text></g>
<g transform="translate(950.6,1781.6) scale(1,1.035)"><text x="-0.8" y="0" font-size="55" fill="#111" stroke="#111" stroke-width="0.35" >τ</text></g>
<g transform="translate(972,1799) scale(1,1.035)"><text x="-2" y="0" font-size="30.5" fill="#333" stroke="#333" stroke-width="0.6" >rec</text></g>
<g transform="translate(1034,1781.6) scale(1,1.035)"><text x="-2.8" y="0" font-size="55" fill="#111" stroke="#111" stroke-width="0.35" >= 448 µs</text></g>
<line x1="61" y1="1853" x2="1245.5" y2="1853" stroke="#111" stroke-width="4.6" />
<line x1="1211.8" y1="1853" x2="1211.8" y2="1867.6" stroke="#111" stroke-width="4.4" />
<line x1="1177.9" y1="1853" x2="1177.9" y2="1880" stroke="#111" stroke-width="4.4" />
<line x1="1144" y1="1853" x2="1144" y2="1867.6" stroke="#111" stroke-width="4.4" />
<line x1="1110.2" y1="1853" x2="1110.2" y2="1867.6" stroke="#111" stroke-width="4.4" />
<line x1="1076.3" y1="1853" x2="1076.3" y2="1867.6" stroke="#111" stroke-width="4.4" />
<line x1="1042.4" y1="1853" x2="1042.4" y2="1880" stroke="#111" stroke-width="4.4" />
<line x1="1008.5" y1="1853" x2="1008.5" y2="1867.6" stroke="#111" stroke-width="4.4" />
<line x1="974.6" y1="1853" x2="974.6" y2="1867.6" stroke="#111" stroke-width="4.4" />
<line x1="940.8" y1="1853" x2="940.8" y2="1867.6" stroke="#111" stroke-width="4.4" />
<line x1="906.9" y1="1853" x2="906.9" y2="1880" stroke="#111" stroke-width="4.4" />
<line x1="873" y1="1853" x2="873" y2="1867.6" stroke="#111" stroke-width="4.4" />
<line x1="839.1" y1="1853" x2="839.1" y2="1867.6" stroke="#111" stroke-width="4.4" />
<line x1="805.3" y1="1853" x2="805.3" y2="1867.6" stroke="#111" stroke-width="4.4" />
<line x1="771.4" y1="1853" x2="771.4" y2="1880" stroke="#111" stroke-width="4.4" />
<line x1="737.5" y1="1853" x2="737.5" y2="1867.6" stroke="#111" stroke-width="4.4" />
<line x1="703.6" y1="1853" x2="703.6" y2="1867.6" stroke="#111" stroke-width="4.4" />
<line x1="669.8" y1="1853" x2="669.8" y2="1867.6" stroke="#111" stroke-width="4.4" />
<line x1="635.9" y1="1853" x2="635.9" y2="1880" stroke="#111" stroke-width="4.4" />
<line x1="602" y1="1853" x2="602" y2="1867.6" stroke="#111" stroke-width="4.4" />
<line x1="568.1" y1="1853" x2="568.1" y2="1867.6" stroke="#111" stroke-width="4.4" />
<line x1="534.3" y1="1853" x2="534.3" y2="1867.6" stroke="#111" stroke-width="4.4" />
<line x1="500.4" y1="1853" x2="500.4" y2="1880" stroke="#111" stroke-width="4.4" />
<line x1="466.5" y1="1853" x2="466.5" y2="1867.6" stroke="#111" stroke-width="4.4" />
<line x1="432.6" y1="1853" x2="432.6" y2="1867.6" stroke="#111" stroke-width="4.4" />
<line x1="398.8" y1="1853" x2="398.8" y2="1867.6" stroke="#111" stroke-width="4.4" />
<line x1="364.9" y1="1853" x2="364.9" y2="1880" stroke="#111" stroke-width="4.4" />
<line x1="331" y1="1853" x2="331" y2="1867.6" stroke="#111" stroke-width="4.4" />
<line x1="297.1" y1="1853" x2="297.1" y2="1867.6" stroke="#111" stroke-width="4.4" />
<line x1="263.3" y1="1853" x2="263.3" y2="1867.6" stroke="#111" stroke-width="4.4" />
<line x1="229.4" y1="1853" x2="229.4" y2="1880" stroke="#111" stroke-width="4.4" />
<line x1="195.5" y1="1853" x2="195.5" y2="1867.6" stroke="#111" stroke-width="4.4" />
<line x1="161.6" y1="1853" x2="161.6" y2="1867.6" stroke="#111" stroke-width="4.4" />
<line x1="127.8" y1="1853" x2="127.8" y2="1867.6" stroke="#111" stroke-width="4.4" />
<line x1="93.9" y1="1853" x2="93.9" y2="1880" stroke="#111" stroke-width="4.4" />
<g transform="translate(93.9,1932.7) scale(1,1.035)"><text x="-44.6" y="0" font-size="53.5" fill="#111" stroke="#111" stroke-width="0.35" > 20</text><path transform="translate(-44.6,0) scale(0.02612,-0.02612)" d="M763,0L583,0L583,1147C518,1085 432,1023 346,975C290,944 250,927 223,915L223,1085C330,1135 430,1200 510,1280C570,1340 620,1410 646,1466L763,1466Z" fill="#111" stroke="#111" stroke-width="13.4"/></g>
<g transform="translate(229.4,1932.7) scale(1,1.035)"><text x="-44.6" y="0" font-size="53.5" fill="#111" stroke="#111" stroke-width="0.35" > 00</text><path transform="translate(-44.6,0) scale(0.02612,-0.02612)" d="M763,0L583,0L583,1147C518,1085 432,1023 346,975C290,944 250,927 223,915L223,1085C330,1135 430,1200 510,1280C570,1340 620,1410 646,1466L763,1466Z" fill="#111" stroke="#111" stroke-width="13.4"/></g>
<g transform="translate(364.9,1932.7) scale(1,1.035)"><text x="-29.8" y="0" font-size="53.5" fill="#111" stroke="#111" stroke-width="0.35" >80</text></g>
<g transform="translate(500.4,1932.7) scale(1,1.035)"><text x="-29.8" y="0" font-size="53.5" fill="#111" stroke="#111" stroke-width="0.35" >60</text></g>
<g transform="translate(635.9,1932.7) scale(1,1.035)"><text x="-29.8" y="0" font-size="53.5" fill="#111" stroke="#111" stroke-width="0.35" >40</text></g>
<g transform="translate(771.4,1932.7) scale(1,1.035)"><text x="-29.8" y="0" font-size="53.5" fill="#111" stroke="#111" stroke-width="0.35" >20</text></g>
<g transform="translate(906.9,1932.7) scale(1,1.035)"><text x="-14.9" y="0" font-size="53.5" fill="#111" stroke="#111" stroke-width="0.35" >0</text></g>
<rect x="999.5" y="1914.5" width="19.6" height="3.8" fill="#111"/>
<g transform="translate(1024,1932.7) scale(1,1.035)"><text x="-2.7" y="0" font-size="53.5" fill="#111" stroke="#111" stroke-width="0.35" >20</text></g>
<rect x="1135" y="1914.5" width="19.6" height="3.8" fill="#111"/>
<g transform="translate(1159.5,1932.7) scale(1,1.035)"><text x="-1.1" y="0" font-size="53.5" fill="#111" stroke="#111" stroke-width="0.35" >40</text></g>
<g transform="translate(347.2,1966.1) scale(1,1.035)"><text x="-1.6" y="0" font-size="31.5" fill="#2a2a2a" stroke="#2a2a2a" stroke-width="0.5" >27</text></g>
<g transform="translate(384.2,1983.3) scale(1,1.035)"><text x="0" y="0" font-size="55" fill="#111" stroke="#111" stroke-width="0.35" >Al SQ Frequency (ppm)</text></g>
</svg>
</body></html>
